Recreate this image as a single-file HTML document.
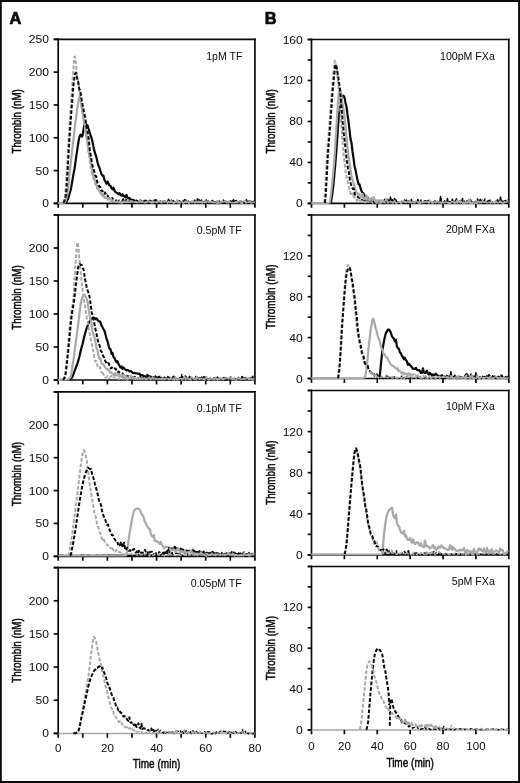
<!DOCTYPE html>
<html lang="en">
<head>
<meta charset="utf-8">
<title>Thrombin generation</title>
<style>
html,body{margin:0;padding:0;background:#fff;}
body{width:520px;height:783px;overflow:hidden;}
svg{display:block;}
text{font-family:"Liberation Sans",Arial,Helvetica,sans-serif;}
.ttl{stroke:#0a0a0a;stroke-width:0.5px;}
.pl{stroke:#0a0a0a;stroke-width:0.7px;}
</style>
</head>
<body>
<svg width="520" height="783" viewBox="0 0 520 783" font-family="'Liberation Sans', Arial, Helvetica, sans-serif" fill="#0a0a0a">
<rect x="0" y="0" width="520" height="783" fill="#ffffff"/>
<text transform="translate(9.50,24.00)" font-size="16.4" text-anchor="start" font-weight="bold" class="pl">A</text>
<text transform="translate(264.80,24.00)" font-size="16.4" text-anchor="start" font-weight="bold" class="pl">B</text>
<line x1="53.70" y1="39.30" x2="255.75" y2="39.30" stroke="#0a0a0a" stroke-width="1.7"/>
<line x1="58.20" y1="38.45" x2="58.20" y2="207.80" stroke="#0a0a0a" stroke-width="1.7"/>
<line x1="254.90" y1="38.45" x2="254.90" y2="207.80" stroke="#0a0a0a" stroke-width="1.7"/>
<line x1="53.70" y1="203.40" x2="254.90" y2="203.40" stroke="#0a0a0a" stroke-width="1.7"/>
<line x1="82.79" y1="203.40" x2="82.79" y2="207.80" stroke="#0a0a0a" stroke-width="1.7"/>
<line x1="107.38" y1="203.40" x2="107.38" y2="207.80" stroke="#0a0a0a" stroke-width="1.7"/>
<line x1="131.96" y1="203.40" x2="131.96" y2="207.80" stroke="#0a0a0a" stroke-width="1.7"/>
<line x1="156.55" y1="203.40" x2="156.55" y2="207.80" stroke="#0a0a0a" stroke-width="1.7"/>
<line x1="181.14" y1="203.40" x2="181.14" y2="207.80" stroke="#0a0a0a" stroke-width="1.7"/>
<line x1="205.72" y1="203.40" x2="205.72" y2="207.80" stroke="#0a0a0a" stroke-width="1.7"/>
<line x1="230.31" y1="203.40" x2="230.31" y2="207.80" stroke="#0a0a0a" stroke-width="1.7"/>
<line x1="53.70" y1="203.40" x2="58.20" y2="203.40" stroke="#0a0a0a" stroke-width="1.7"/>
<line x1="53.70" y1="170.58" x2="58.20" y2="170.58" stroke="#0a0a0a" stroke-width="1.7"/>
<line x1="53.70" y1="137.76" x2="58.20" y2="137.76" stroke="#0a0a0a" stroke-width="1.7"/>
<line x1="53.70" y1="104.94" x2="58.20" y2="104.94" stroke="#0a0a0a" stroke-width="1.7"/>
<line x1="53.70" y1="72.12" x2="58.20" y2="72.12" stroke="#0a0a0a" stroke-width="1.7"/>
<line x1="53.70" y1="39.30" x2="58.20" y2="39.30" stroke="#0a0a0a" stroke-width="1.7"/>
<text transform="translate(48.90,207.40) scale(1.08,1)" font-size="11.2" text-anchor="end" font-weight="normal">0</text>
<text transform="translate(48.90,174.58) scale(1.08,1)" font-size="11.2" text-anchor="end" font-weight="normal">50</text>
<text transform="translate(48.90,141.76) scale(1.08,1)" font-size="11.2" text-anchor="end" font-weight="normal">100</text>
<text transform="translate(48.90,108.94) scale(1.08,1)" font-size="11.2" text-anchor="end" font-weight="normal">150</text>
<text transform="translate(48.90,76.12) scale(1.08,1)" font-size="11.2" text-anchor="end" font-weight="normal">200</text>
<text transform="translate(48.90,43.30) scale(1.08,1)" font-size="11.2" text-anchor="end" font-weight="normal">250</text>
<line x1="53.70" y1="215.00" x2="255.75" y2="215.00" stroke="#0a0a0a" stroke-width="1.7"/>
<line x1="58.20" y1="214.15" x2="58.20" y2="384.40" stroke="#0a0a0a" stroke-width="1.7"/>
<line x1="254.90" y1="214.15" x2="254.90" y2="384.40" stroke="#0a0a0a" stroke-width="1.7"/>
<line x1="53.70" y1="380.00" x2="254.90" y2="380.00" stroke="#0a0a0a" stroke-width="1.7"/>
<line x1="82.79" y1="380.00" x2="82.79" y2="384.40" stroke="#0a0a0a" stroke-width="1.7"/>
<line x1="107.38" y1="380.00" x2="107.38" y2="384.40" stroke="#0a0a0a" stroke-width="1.7"/>
<line x1="131.96" y1="380.00" x2="131.96" y2="384.40" stroke="#0a0a0a" stroke-width="1.7"/>
<line x1="156.55" y1="380.00" x2="156.55" y2="384.40" stroke="#0a0a0a" stroke-width="1.7"/>
<line x1="181.14" y1="380.00" x2="181.14" y2="384.40" stroke="#0a0a0a" stroke-width="1.7"/>
<line x1="205.72" y1="380.00" x2="205.72" y2="384.40" stroke="#0a0a0a" stroke-width="1.7"/>
<line x1="230.31" y1="380.00" x2="230.31" y2="384.40" stroke="#0a0a0a" stroke-width="1.7"/>
<line x1="53.70" y1="380.00" x2="58.20" y2="380.00" stroke="#0a0a0a" stroke-width="1.7"/>
<line x1="53.70" y1="347.00" x2="58.20" y2="347.00" stroke="#0a0a0a" stroke-width="1.7"/>
<line x1="53.70" y1="314.00" x2="58.20" y2="314.00" stroke="#0a0a0a" stroke-width="1.7"/>
<line x1="53.70" y1="281.00" x2="58.20" y2="281.00" stroke="#0a0a0a" stroke-width="1.7"/>
<line x1="53.70" y1="248.00" x2="58.20" y2="248.00" stroke="#0a0a0a" stroke-width="1.7"/>
<line x1="53.70" y1="215.00" x2="58.20" y2="215.00" stroke="#0a0a0a" stroke-width="1.7"/>
<text transform="translate(48.90,384.00) scale(1.08,1)" font-size="11.2" text-anchor="end" font-weight="normal">0</text>
<text transform="translate(48.90,351.00) scale(1.08,1)" font-size="11.2" text-anchor="end" font-weight="normal">50</text>
<text transform="translate(48.90,318.00) scale(1.08,1)" font-size="11.2" text-anchor="end" font-weight="normal">100</text>
<text transform="translate(48.90,285.00) scale(1.08,1)" font-size="11.2" text-anchor="end" font-weight="normal">150</text>
<text transform="translate(48.90,252.00) scale(1.08,1)" font-size="11.2" text-anchor="end" font-weight="normal">200</text>
<line x1="53.70" y1="391.90" x2="255.75" y2="391.90" stroke="#0a0a0a" stroke-width="1.7"/>
<line x1="58.20" y1="391.05" x2="58.20" y2="560.70" stroke="#0a0a0a" stroke-width="1.7"/>
<line x1="254.90" y1="391.05" x2="254.90" y2="560.70" stroke="#0a0a0a" stroke-width="1.7"/>
<line x1="53.70" y1="556.30" x2="254.90" y2="556.30" stroke="#0a0a0a" stroke-width="1.7"/>
<line x1="82.79" y1="556.30" x2="82.79" y2="560.70" stroke="#0a0a0a" stroke-width="1.7"/>
<line x1="107.38" y1="556.30" x2="107.38" y2="560.70" stroke="#0a0a0a" stroke-width="1.7"/>
<line x1="131.96" y1="556.30" x2="131.96" y2="560.70" stroke="#0a0a0a" stroke-width="1.7"/>
<line x1="156.55" y1="556.30" x2="156.55" y2="560.70" stroke="#0a0a0a" stroke-width="1.7"/>
<line x1="181.14" y1="556.30" x2="181.14" y2="560.70" stroke="#0a0a0a" stroke-width="1.7"/>
<line x1="205.72" y1="556.30" x2="205.72" y2="560.70" stroke="#0a0a0a" stroke-width="1.7"/>
<line x1="230.31" y1="556.30" x2="230.31" y2="560.70" stroke="#0a0a0a" stroke-width="1.7"/>
<line x1="53.70" y1="556.30" x2="58.20" y2="556.30" stroke="#0a0a0a" stroke-width="1.7"/>
<line x1="53.70" y1="523.42" x2="58.20" y2="523.42" stroke="#0a0a0a" stroke-width="1.7"/>
<line x1="53.70" y1="490.54" x2="58.20" y2="490.54" stroke="#0a0a0a" stroke-width="1.7"/>
<line x1="53.70" y1="457.66" x2="58.20" y2="457.66" stroke="#0a0a0a" stroke-width="1.7"/>
<line x1="53.70" y1="424.78" x2="58.20" y2="424.78" stroke="#0a0a0a" stroke-width="1.7"/>
<line x1="53.70" y1="391.90" x2="58.20" y2="391.90" stroke="#0a0a0a" stroke-width="1.7"/>
<text transform="translate(48.90,560.30) scale(1.08,1)" font-size="11.2" text-anchor="end" font-weight="normal">0</text>
<text transform="translate(48.90,527.42) scale(1.08,1)" font-size="11.2" text-anchor="end" font-weight="normal">50</text>
<text transform="translate(48.90,494.54) scale(1.08,1)" font-size="11.2" text-anchor="end" font-weight="normal">100</text>
<text transform="translate(48.90,461.66) scale(1.08,1)" font-size="11.2" text-anchor="end" font-weight="normal">150</text>
<text transform="translate(48.90,428.78) scale(1.08,1)" font-size="11.2" text-anchor="end" font-weight="normal">200</text>
<line x1="53.70" y1="567.60" x2="255.75" y2="567.60" stroke="#0a0a0a" stroke-width="1.7"/>
<line x1="58.20" y1="566.75" x2="58.20" y2="737.80" stroke="#0a0a0a" stroke-width="1.7"/>
<line x1="254.90" y1="566.75" x2="254.90" y2="737.80" stroke="#0a0a0a" stroke-width="1.7"/>
<line x1="53.70" y1="733.40" x2="58.20" y2="733.40" stroke="#0a0a0a" stroke-width="1.7"/>
<line x1="58.20" y1="733.50" x2="254.90" y2="733.50" stroke="#a9a9a9" stroke-width="1.4"/>
<line x1="82.79" y1="733.40" x2="82.79" y2="737.80" stroke="#0a0a0a" stroke-width="1.7"/>
<line x1="107.38" y1="733.40" x2="107.38" y2="737.80" stroke="#0a0a0a" stroke-width="1.7"/>
<line x1="131.96" y1="733.40" x2="131.96" y2="737.80" stroke="#0a0a0a" stroke-width="1.7"/>
<line x1="156.55" y1="733.40" x2="156.55" y2="737.80" stroke="#0a0a0a" stroke-width="1.7"/>
<line x1="181.14" y1="733.40" x2="181.14" y2="737.80" stroke="#0a0a0a" stroke-width="1.7"/>
<line x1="205.72" y1="733.40" x2="205.72" y2="737.80" stroke="#0a0a0a" stroke-width="1.7"/>
<line x1="230.31" y1="733.40" x2="230.31" y2="737.80" stroke="#0a0a0a" stroke-width="1.7"/>
<line x1="53.70" y1="733.40" x2="58.20" y2="733.40" stroke="#0a0a0a" stroke-width="1.7"/>
<line x1="53.70" y1="700.24" x2="58.20" y2="700.24" stroke="#0a0a0a" stroke-width="1.7"/>
<line x1="53.70" y1="667.08" x2="58.20" y2="667.08" stroke="#0a0a0a" stroke-width="1.7"/>
<line x1="53.70" y1="633.92" x2="58.20" y2="633.92" stroke="#0a0a0a" stroke-width="1.7"/>
<line x1="53.70" y1="600.76" x2="58.20" y2="600.76" stroke="#0a0a0a" stroke-width="1.7"/>
<line x1="53.70" y1="567.60" x2="58.20" y2="567.60" stroke="#0a0a0a" stroke-width="1.7"/>
<text transform="translate(48.90,737.40) scale(1.08,1)" font-size="11.2" text-anchor="end" font-weight="normal">0</text>
<text transform="translate(48.90,704.24) scale(1.08,1)" font-size="11.2" text-anchor="end" font-weight="normal">50</text>
<text transform="translate(48.90,671.08) scale(1.08,1)" font-size="11.2" text-anchor="end" font-weight="normal">100</text>
<text transform="translate(48.90,637.92) scale(1.08,1)" font-size="11.2" text-anchor="end" font-weight="normal">150</text>
<text transform="translate(48.90,604.76) scale(1.08,1)" font-size="11.2" text-anchor="end" font-weight="normal">200</text>
<line x1="307.70" y1="39.50" x2="509.65" y2="39.50" stroke="#0a0a0a" stroke-width="1.7"/>
<line x1="311.50" y1="38.65" x2="311.50" y2="207.80" stroke="#0a0a0a" stroke-width="1.7"/>
<line x1="508.80" y1="38.65" x2="508.80" y2="207.80" stroke="#0a0a0a" stroke-width="1.7"/>
<line x1="307.70" y1="203.40" x2="508.80" y2="203.40" stroke="#0a0a0a" stroke-width="1.7"/>
<line x1="344.38" y1="203.40" x2="344.38" y2="207.80" stroke="#0a0a0a" stroke-width="1.7"/>
<line x1="377.27" y1="203.40" x2="377.27" y2="207.80" stroke="#0a0a0a" stroke-width="1.7"/>
<line x1="410.15" y1="203.40" x2="410.15" y2="207.80" stroke="#0a0a0a" stroke-width="1.7"/>
<line x1="443.03" y1="203.40" x2="443.03" y2="207.80" stroke="#0a0a0a" stroke-width="1.7"/>
<line x1="475.92" y1="203.40" x2="475.92" y2="207.80" stroke="#0a0a0a" stroke-width="1.7"/>
<line x1="307.70" y1="203.40" x2="311.50" y2="203.40" stroke="#0a0a0a" stroke-width="1.7"/>
<line x1="307.70" y1="182.91" x2="311.50" y2="182.91" stroke="#0a0a0a" stroke-width="1.7"/>
<line x1="307.70" y1="162.43" x2="311.50" y2="162.43" stroke="#0a0a0a" stroke-width="1.7"/>
<line x1="307.70" y1="141.94" x2="311.50" y2="141.94" stroke="#0a0a0a" stroke-width="1.7"/>
<line x1="307.70" y1="121.45" x2="311.50" y2="121.45" stroke="#0a0a0a" stroke-width="1.7"/>
<line x1="307.70" y1="100.96" x2="311.50" y2="100.96" stroke="#0a0a0a" stroke-width="1.7"/>
<line x1="307.70" y1="80.47" x2="311.50" y2="80.47" stroke="#0a0a0a" stroke-width="1.7"/>
<line x1="307.70" y1="59.99" x2="311.50" y2="59.99" stroke="#0a0a0a" stroke-width="1.7"/>
<line x1="307.70" y1="39.50" x2="311.50" y2="39.50" stroke="#0a0a0a" stroke-width="1.7"/>
<text transform="translate(302.80,207.40) scale(1.08,1)" font-size="11.2" text-anchor="end" font-weight="normal">0</text>
<text transform="translate(302.80,166.43) scale(1.08,1)" font-size="11.2" text-anchor="end" font-weight="normal">40</text>
<text transform="translate(302.80,125.45) scale(1.08,1)" font-size="11.2" text-anchor="end" font-weight="normal">80</text>
<text transform="translate(302.80,84.47) scale(1.08,1)" font-size="11.2" text-anchor="end" font-weight="normal">120</text>
<text transform="translate(302.80,43.50) scale(1.08,1)" font-size="11.2" text-anchor="end" font-weight="normal">160</text>
<line x1="307.70" y1="215.00" x2="509.65" y2="215.00" stroke="#0a0a0a" stroke-width="1.7"/>
<line x1="311.50" y1="214.15" x2="311.50" y2="382.90" stroke="#0a0a0a" stroke-width="1.7"/>
<line x1="508.80" y1="214.15" x2="508.80" y2="382.90" stroke="#0a0a0a" stroke-width="1.7"/>
<line x1="307.70" y1="378.50" x2="508.80" y2="378.50" stroke="#0a0a0a" stroke-width="1.7"/>
<line x1="344.38" y1="378.50" x2="344.38" y2="382.90" stroke="#0a0a0a" stroke-width="1.7"/>
<line x1="377.27" y1="378.50" x2="377.27" y2="382.90" stroke="#0a0a0a" stroke-width="1.7"/>
<line x1="410.15" y1="378.50" x2="410.15" y2="382.90" stroke="#0a0a0a" stroke-width="1.7"/>
<line x1="443.03" y1="378.50" x2="443.03" y2="382.90" stroke="#0a0a0a" stroke-width="1.7"/>
<line x1="475.92" y1="378.50" x2="475.92" y2="382.90" stroke="#0a0a0a" stroke-width="1.7"/>
<line x1="307.70" y1="378.50" x2="311.50" y2="378.50" stroke="#0a0a0a" stroke-width="1.7"/>
<line x1="307.70" y1="358.06" x2="311.50" y2="358.06" stroke="#0a0a0a" stroke-width="1.7"/>
<line x1="307.70" y1="337.62" x2="311.50" y2="337.62" stroke="#0a0a0a" stroke-width="1.7"/>
<line x1="307.70" y1="317.19" x2="311.50" y2="317.19" stroke="#0a0a0a" stroke-width="1.7"/>
<line x1="307.70" y1="296.75" x2="311.50" y2="296.75" stroke="#0a0a0a" stroke-width="1.7"/>
<line x1="307.70" y1="276.31" x2="311.50" y2="276.31" stroke="#0a0a0a" stroke-width="1.7"/>
<line x1="307.70" y1="255.88" x2="311.50" y2="255.88" stroke="#0a0a0a" stroke-width="1.7"/>
<line x1="307.70" y1="235.44" x2="311.50" y2="235.44" stroke="#0a0a0a" stroke-width="1.7"/>
<line x1="307.70" y1="215.00" x2="311.50" y2="215.00" stroke="#0a0a0a" stroke-width="1.7"/>
<text transform="translate(302.80,382.50) scale(1.08,1)" font-size="11.2" text-anchor="end" font-weight="normal">0</text>
<text transform="translate(302.80,341.62) scale(1.08,1)" font-size="11.2" text-anchor="end" font-weight="normal">40</text>
<text transform="translate(302.80,300.75) scale(1.08,1)" font-size="11.2" text-anchor="end" font-weight="normal">80</text>
<text transform="translate(302.80,259.88) scale(1.08,1)" font-size="11.2" text-anchor="end" font-weight="normal">120</text>
<line x1="307.70" y1="390.50" x2="509.65" y2="390.50" stroke="#0a0a0a" stroke-width="1.7"/>
<line x1="311.50" y1="389.65" x2="311.50" y2="559.30" stroke="#0a0a0a" stroke-width="1.7"/>
<line x1="508.80" y1="389.65" x2="508.80" y2="559.30" stroke="#0a0a0a" stroke-width="1.7"/>
<line x1="307.70" y1="554.90" x2="508.80" y2="554.90" stroke="#0a0a0a" stroke-width="1.7"/>
<line x1="344.38" y1="554.90" x2="344.38" y2="559.30" stroke="#0a0a0a" stroke-width="1.7"/>
<line x1="377.27" y1="554.90" x2="377.27" y2="559.30" stroke="#0a0a0a" stroke-width="1.7"/>
<line x1="410.15" y1="554.90" x2="410.15" y2="559.30" stroke="#0a0a0a" stroke-width="1.7"/>
<line x1="443.03" y1="554.90" x2="443.03" y2="559.30" stroke="#0a0a0a" stroke-width="1.7"/>
<line x1="475.92" y1="554.90" x2="475.92" y2="559.30" stroke="#0a0a0a" stroke-width="1.7"/>
<line x1="307.70" y1="554.90" x2="311.50" y2="554.90" stroke="#0a0a0a" stroke-width="1.7"/>
<line x1="307.70" y1="534.35" x2="311.50" y2="534.35" stroke="#0a0a0a" stroke-width="1.7"/>
<line x1="307.70" y1="513.80" x2="311.50" y2="513.80" stroke="#0a0a0a" stroke-width="1.7"/>
<line x1="307.70" y1="493.25" x2="311.50" y2="493.25" stroke="#0a0a0a" stroke-width="1.7"/>
<line x1="307.70" y1="472.70" x2="311.50" y2="472.70" stroke="#0a0a0a" stroke-width="1.7"/>
<line x1="307.70" y1="452.15" x2="311.50" y2="452.15" stroke="#0a0a0a" stroke-width="1.7"/>
<line x1="307.70" y1="431.60" x2="311.50" y2="431.60" stroke="#0a0a0a" stroke-width="1.7"/>
<line x1="307.70" y1="411.05" x2="311.50" y2="411.05" stroke="#0a0a0a" stroke-width="1.7"/>
<line x1="307.70" y1="390.50" x2="311.50" y2="390.50" stroke="#0a0a0a" stroke-width="1.7"/>
<text transform="translate(302.80,558.90) scale(1.08,1)" font-size="11.2" text-anchor="end" font-weight="normal">0</text>
<text transform="translate(302.80,517.80) scale(1.08,1)" font-size="11.2" text-anchor="end" font-weight="normal">40</text>
<text transform="translate(302.80,476.70) scale(1.08,1)" font-size="11.2" text-anchor="end" font-weight="normal">80</text>
<text transform="translate(302.80,435.60) scale(1.08,1)" font-size="11.2" text-anchor="end" font-weight="normal">120</text>
<line x1="307.70" y1="566.50" x2="509.65" y2="566.50" stroke="#0a0a0a" stroke-width="1.7"/>
<line x1="311.50" y1="565.65" x2="311.50" y2="734.30" stroke="#0a0a0a" stroke-width="1.7"/>
<line x1="508.80" y1="565.65" x2="508.80" y2="734.30" stroke="#0a0a0a" stroke-width="1.7"/>
<line x1="307.70" y1="729.90" x2="311.50" y2="729.90" stroke="#0a0a0a" stroke-width="1.7"/>
<line x1="311.50" y1="730.00" x2="508.80" y2="730.00" stroke="#a9a9a9" stroke-width="1.4"/>
<line x1="344.38" y1="729.90" x2="344.38" y2="734.30" stroke="#0a0a0a" stroke-width="1.7"/>
<line x1="377.27" y1="729.90" x2="377.27" y2="734.30" stroke="#0a0a0a" stroke-width="1.7"/>
<line x1="410.15" y1="729.90" x2="410.15" y2="734.30" stroke="#0a0a0a" stroke-width="1.7"/>
<line x1="443.03" y1="729.90" x2="443.03" y2="734.30" stroke="#0a0a0a" stroke-width="1.7"/>
<line x1="475.92" y1="729.90" x2="475.92" y2="734.30" stroke="#0a0a0a" stroke-width="1.7"/>
<line x1="307.70" y1="729.90" x2="311.50" y2="729.90" stroke="#0a0a0a" stroke-width="1.7"/>
<line x1="307.70" y1="709.48" x2="311.50" y2="709.48" stroke="#0a0a0a" stroke-width="1.7"/>
<line x1="307.70" y1="689.05" x2="311.50" y2="689.05" stroke="#0a0a0a" stroke-width="1.7"/>
<line x1="307.70" y1="668.62" x2="311.50" y2="668.62" stroke="#0a0a0a" stroke-width="1.7"/>
<line x1="307.70" y1="648.20" x2="311.50" y2="648.20" stroke="#0a0a0a" stroke-width="1.7"/>
<line x1="307.70" y1="627.77" x2="311.50" y2="627.77" stroke="#0a0a0a" stroke-width="1.7"/>
<line x1="307.70" y1="607.35" x2="311.50" y2="607.35" stroke="#0a0a0a" stroke-width="1.7"/>
<line x1="307.70" y1="586.92" x2="311.50" y2="586.92" stroke="#0a0a0a" stroke-width="1.7"/>
<line x1="307.70" y1="566.50" x2="311.50" y2="566.50" stroke="#0a0a0a" stroke-width="1.7"/>
<text transform="translate(302.80,733.90) scale(1.08,1)" font-size="11.2" text-anchor="end" font-weight="normal">0</text>
<text transform="translate(302.80,693.05) scale(1.08,1)" font-size="11.2" text-anchor="end" font-weight="normal">40</text>
<text transform="translate(302.80,652.20) scale(1.08,1)" font-size="11.2" text-anchor="end" font-weight="normal">80</text>
<text transform="translate(302.80,611.35) scale(1.08,1)" font-size="11.2" text-anchor="end" font-weight="normal">120</text>
<path d="M65.5 203.20 L66.0 202.91 L66.5 202.18 L67.0 201.08 L67.5 199.92 L68.0 198.84 L68.5 197.57 L69.0 195.88 L69.5 194.01 L70.0 192.47 L70.5 190.77 L71.0 188.58 L71.5 185.78 L72.0 182.74 L72.5 179.90 L73.0 176.91 L73.5 173.93 L74.0 171.36 L74.5 168.69 L75.0 165.47 L75.5 161.96 L76.0 158.44 L76.5 154.92 L77.0 151.48 L77.5 148.17 L78.0 144.78 L78.5 141.53 L79.0 138.82 L79.5 136.86 L80.0 135.54 L80.5 134.75 L81.0 135.04 L81.5 135.99 L82.0 136.57 L82.5 135.62 L83.0 133.05 L83.5 129.77 L84.0 126.56 L84.5 124.07 L85.0 123.30 L85.5 123.58 L86.0 124.45 L86.5 125.79 L87.0 125.75 L87.5 125.27 L88.0 126.66 L88.5 128.53 L89.0 130.17 L89.5 131.90 L90.0 133.44 L90.5 135.05 L91.0 136.40 L91.5 137.93 L92.0 139.75 L92.5 141.66 L93.0 144.29 L93.5 146.92 L94.0 149.24 L94.5 151.47 L95.0 152.91 L95.5 154.37 L96.0 156.07 L96.5 157.75 L97.0 159.99 L97.5 162.18 L98.0 163.97 L98.5 165.66 L99.0 166.72 L99.5 167.75 L100.0 169.44 L100.5 171.11 L101.0 172.62 L101.5 174.08 L102.0 174.85 L102.5 175.57 L103.0 175.66 L103.5 175.69 L104.0 177.94 L104.5 180.13 L105.0 180.95 L105.5 181.69 L106.0 182.72 L106.5 183.71 L107.0 182.66 L107.5 181.57 L108.0 182.56 L108.5 183.52 L109.0 184.59 L109.5 185.64 L110.0 185.79 L110.5 185.92 L111.0 187.07 L111.5 188.22 L112.0 188.81 L112.5 189.40 L113.0 188.59 L113.5 187.78 L114.0 189.20 L114.5 190.61 L115.0 191.35 L115.5 192.08 L116.0 192.38 L116.5 192.67 L117.0 192.93 L117.5 193.18 L118.0 193.71 L118.5 194.23 L119.0 193.66 L119.5 193.08 L120.0 194.07 L120.5 195.05 L121.0 195.29 L121.5 195.52 L122.0 194.86 L122.5 194.19 L123.0 195.20 L123.5 196.20 L124.0 196.19 L124.5 196.18 L125.0 196.77 L125.5 197.37 L126.0 196.12 L126.5 194.89 L127.0 196.28 L127.5 197.69 L128.0 198.07 L128.5 198.45 L129.0 198.25 L129.5 198.04 L130.0 198.83 L130.5 199.61 L131.0 199.57 L131.5 199.51 L132.0 199.92 L132.5 200.31 L133.0 200.08 L133.5 199.82 L134.0 200.51 L134.5 201.19 L135.0 201.08 L135.5 200.97 L136.0 200.75 L136.5 200.52 L137.0 200.89 L137.5 201.25 L138.0 201.55" fill="none" stroke="#0a0a0a" stroke-width="2.2" stroke-linejoin="round"/>
<line x1="58.2" y1="203.00" x2="64.0" y2="203.00" stroke="#a9a9a9" stroke-width="1.9"/>
<path d="M64.0 203.16 L64.5 202.81 L65.0 201.97 L65.5 200.84 L66.0 199.55 L66.5 197.74 L67.0 195.33 L67.5 192.21 L68.0 188.82 L68.5 184.99 L69.0 180.27 L69.5 174.99 L70.0 169.70 L70.5 164.97 L71.0 160.51 L71.5 156.12 L72.0 151.79 L72.5 147.36 L73.0 143.00 L73.5 138.79 L74.0 134.61 L74.5 130.03 L75.0 125.52 L75.5 121.95 L76.0 118.47 L76.5 114.44 L77.0 110.48 L77.5 107.12 L78.0 104.27 L78.5 101.28 L79.0 98.48 L79.5 96.81 L80.0 97.08 L80.5 98.80 L81.0 101.26 L81.5 104.15 L82.0 107.13 L82.5 110.31 L83.0 113.66 L83.5 116.72 L84.0 119.74 L84.5 122.08 L85.0 124.56 L85.5 129.36 L86.0 134.14 L86.5 137.48 L87.0 140.65 L87.5 143.77 L88.0 146.72 L88.5 149.66 L89.0 152.50 L89.5 155.00 L90.0 157.45 L90.5 160.69 L91.0 164.00 L91.5 165.89 L92.0 167.73 L92.5 171.28 L93.0 174.67 L93.5 176.40 L94.0 177.86 L94.5 179.56 L95.0 181.04 L95.5 182.12 L96.0 183.12 L96.5 184.80 L97.0 186.41 L97.5 187.45 L98.0 188.41 L98.5 189.51 L99.0 190.53 L99.5 191.04 L100.0 191.47 L100.5 192.33 L101.0 193.15 L101.5 194.37 L102.0 195.56 L102.5 195.08 L103.0 194.58 L103.5 195.19 L104.0 195.77" fill="none" stroke="#a9a9a9" stroke-width="2.2" stroke-linejoin="round"/>
<line x1="58.2" y1="203.00" x2="62.5" y2="203.00" stroke="#a9a9a9" stroke-width="1.9"/>
<path d="M62.5 202.54 L63.0 202.43 L63.5 201.68 L64.0 200.19 L64.5 198.38 L65.0 195.38 L65.5 190.04 L66.0 182.93 L66.5 175.22 L67.0 166.21 L67.5 157.04 L68.0 148.17 L68.5 139.40 L69.0 131.10 L69.5 123.43 L70.0 116.40 L70.5 109.65 L71.0 102.84 L71.5 95.80 L72.0 88.49 L72.5 81.37 L73.0 74.95 L73.5 68.31 L74.0 61.64 L74.5 57.05 L75.0 56.54 L75.5 59.69 L76.0 64.58 L76.5 69.97 L77.0 74.76 L77.5 78.61 L78.0 81.76 L78.5 84.83 L79.0 89.67 L79.5 94.45 L80.0 97.15 L80.5 99.83 L81.0 103.80 L81.5 107.74 L82.0 110.70 L82.5 113.59 L83.0 117.29 L83.5 120.87 L84.0 123.53 L84.5 125.95 L85.0 127.95 L85.5 129.99 L86.0 133.10 L86.5 136.51 L87.0 139.11 L87.5 142.15 L88.0 147.06 L88.5 151.74 L89.0 154.41 L89.5 157.06 L90.0 161.26 L90.5 165.12 L91.0 168.16 L91.5 171.08 L92.0 173.30 L92.5 175.35 L93.0 177.29 L93.5 179.00 L94.0 180.49 L94.5 181.69 L95.0 183.08 L95.5 184.35 L96.0 185.86 L96.5 187.30 L97.0 188.10 L97.5 188.86 L98.0 189.24 L98.5 189.61 L99.0 190.06 L99.5 190.49 L100.0 192.00 L100.5 193.49 L101.0 192.75 L101.5 191.96 L102.0 193.63 L102.5 195.25 L103.0 195.70" fill="none" stroke="#a9a9a9" stroke-width="2.0" stroke-dasharray="3.8 1.8" stroke-linejoin="round"/>
<path d="M63.2 202.85 L63.7 202.43 L64.2 201.42 L64.7 200.01 L65.2 198.44 L65.7 196.44 L66.2 192.77 L66.7 186.17 L67.2 178.65 L67.7 169.81 L68.2 160.32 L68.7 151.69 L69.2 143.50 L69.7 135.62 L70.2 128.15 L70.7 120.88 L71.2 113.89 L71.7 107.50 L72.2 101.41 L72.7 94.97 L73.2 88.51 L73.7 83.21 L74.2 79.37 L74.7 76.12 L75.2 73.69 L75.7 72.73 L76.2 73.68 L76.7 76.04 L77.2 78.92 L77.7 80.76 L78.2 81.83 L78.7 84.93 L79.2 88.32 L79.7 89.56 L80.2 90.85 L80.7 93.67 L81.2 96.57 L81.7 99.89 L82.2 103.35 L82.7 105.53 L83.2 107.82 L83.7 110.58 L84.2 113.38 L84.7 115.36 L85.2 117.30 L85.7 121.33 L86.2 125.27 L86.7 127.89 L87.2 130.60 L87.7 132.91 L88.2 135.53 L88.7 139.40 L89.2 143.51 L89.7 148.30 L90.2 152.55 L90.7 155.24 L91.2 157.78 L91.7 161.15 L92.2 164.28 L92.7 166.29 L93.2 168.08 L93.7 169.71 L94.2 171.23 L94.7 173.36 L95.2 175.39 L95.7 176.01 L96.2 176.52 L96.7 179.31 L97.2 182.01 L97.7 182.86 L98.2 183.66 L98.7 185.11 L99.2 186.51 L99.7 186.75 L100.2 186.92 L100.7 188.75 L101.2 190.49 L101.7 190.45 L102.2 190.38 L102.7 191.63 L103.2 192.86 L103.7 193.25 L104.2 193.61 L104.7 193.03 L105.2 192.43 L105.7 193.82 L106.2 195.18 L106.7 195.28 L107.2 195.36 L107.7 196.09 L108.2 196.80 L108.7 197.51 L109.2 198.19 L109.7 198.21 L110.2 198.23 L110.7 198.67 L111.2 199.10 L111.7 198.55 L112.2 197.99 L112.7 198.78 L113.2 199.56 L113.7 199.87 L114.2 200.18 L114.7 200.68 L115.2 201.17 L115.7 200.74 L116.2 200.28 L116.7 200.90" fill="none" stroke="#0a0a0a" stroke-width="2.0" stroke-dasharray="3.8 1.8" stroke-linejoin="round"/>
<path d="M69.5 379.93 L70.0 379.54 L70.5 378.93 L71.0 378.65 L71.5 378.25 L72.0 377.41 L72.5 376.50 L73.0 375.40 L73.5 374.08 L74.0 372.69 L74.5 371.26 L75.0 369.86 L75.5 368.51 L76.0 367.24 L76.5 365.94 L77.0 364.60 L77.5 363.20 L78.0 361.61 L78.5 359.89 L79.0 358.08 L79.5 356.16 L80.0 354.00 L80.5 351.80 L81.0 349.77 L81.5 347.75 L82.0 346.00 L82.5 344.23 L83.0 342.10 L83.5 339.94 L84.0 337.74 L84.5 335.59 L85.0 333.80 L85.5 332.15 L86.0 330.39 L86.5 328.67 L87.0 327.33 L87.5 326.06 L88.0 324.68 L88.5 323.43 L89.0 322.38 L89.5 321.53 L90.0 320.76 L90.5 320.00 L91.0 319.42 L91.5 318.90 L92.0 318.40 L92.5 318.01 L93.0 317.84 L93.5 317.83 L94.0 317.87 L94.5 317.91 L95.0 318.44 L95.5 319.17 L96.0 318.85 L96.5 318.31 L97.0 319.09 L97.5 319.92 L98.0 320.40 L98.5 320.96 L99.0 321.06 L99.5 321.22 L100.0 321.81 L100.5 322.41 L101.0 324.01 L101.5 325.70 L102.0 326.46 L102.5 327.30 L103.0 328.13 L103.5 329.09 L104.0 329.94 L104.5 330.88 L105.0 332.68 L105.5 334.54 L106.0 336.51 L106.5 338.52 L107.0 339.86 L107.5 341.24 L108.0 343.27 L108.5 345.23 L109.0 347.02 L109.5 348.74 L110.0 348.97 L110.5 349.14 L111.0 351.49 L111.5 353.77 L112.0 353.34 L112.5 352.83 L113.0 354.95 L113.5 357.03 L114.0 357.55 L114.5 358.02 L115.0 359.31 L115.5 360.56 L116.0 361.34 L116.5 362.06 L117.0 361.63 L117.5 361.19 L118.0 362.68 L118.5 364.16 L119.0 364.93 L119.5 365.69 L120.0 366.60 L120.5 367.50 L121.0 366.97 L121.5 366.42 L122.0 367.72 L122.5 369.00 L123.0 368.27 L123.5 367.51 L124.0 368.17 L124.5 368.80 L125.0 369.26 L125.5 369.70 L126.0 370.03 L126.5 370.35 L127.0 370.11 L127.5 369.87 L128.0 370.17 L128.5 370.47 L129.0 370.94 L129.5 371.40 L130.0 371.27 L130.5 371.13 L131.0 371.30 L131.5 371.47 L132.0 372.10 L132.5 372.74 L133.0 372.99 L133.5 373.23 L134.0 373.01 L134.5 372.80 L135.0 372.98 L135.5 373.18 L136.0 373.33 L136.5 373.48 L137.0 373.49 L137.5 373.49 L138.0 373.64 L138.5 373.78 L139.0 373.75 L139.5 373.72 L140.0 374.51 L140.5 375.30 L141.0 375.18 L141.5 375.06 L142.0 375.18 L142.5 375.30 L143.0 375.56 L143.5 375.82 L144.0 376.06 L144.5 376.29 L145.0 376.73 L145.5 377.16 L146.0 376.62 L146.5 376.08 L147.0 375.47 L147.5 374.85 L148.0 375.83 L148.5 376.80 L149.0 376.50 L149.5 376.19 L150.0 376.76 L150.5 377.34 L151.0 377.58 L151.5 377.83 L152.0 377.81 L152.5 377.79 L153.0 377.56 L153.5 377.31 L154.0 377.70 L154.5 378.08" fill="none" stroke="#0a0a0a" stroke-width="2.2" stroke-linejoin="round"/>
<line x1="58.2" y1="379.70" x2="67.5" y2="379.70" stroke="#a9a9a9" stroke-width="1.9"/>
<path d="M67.5 379.52 L68.0 379.41 L68.5 379.12 L69.0 378.74 L69.5 378.21 L70.0 377.68 L70.5 377.03 L71.0 375.21 L71.5 372.48 L72.0 369.33 L72.5 365.86 L73.0 362.72 L73.5 359.70 L74.0 355.91 L74.5 351.92 L75.0 348.12 L75.5 344.41 L76.0 340.63 L76.5 336.82 L77.0 333.27 L77.5 329.59 L78.0 325.51 L78.5 321.38 L79.0 317.25 L79.5 313.33 L80.0 309.36 L80.5 305.58 L81.0 302.21 L81.5 299.93 L82.0 298.52 L82.5 297.25 L83.0 296.16 L83.5 295.36 L84.0 295.02 L84.5 295.00 L85.0 295.55 L85.5 296.54 L86.0 297.50 L86.5 298.55 L87.0 299.78 L87.5 301.83 L88.0 304.89 L88.5 308.29 L89.0 311.71 L89.5 314.89 L90.0 317.32 L90.5 319.71 L91.0 321.24 L91.5 322.73 L92.0 327.19 L92.5 331.58 L93.0 333.20 L93.5 334.80 L94.0 336.03 L94.5 337.20 L95.0 339.93 L95.5 342.58 L96.0 345.58 L96.5 348.50 L97.0 349.48 L97.5 350.46 L98.0 352.98 L98.5 355.43 L99.0 357.22 L99.5 358.88 L100.0 358.90 L100.5 358.73 L101.0 361.13 L101.5 363.39 L102.0 363.62 L102.5 363.79 L103.0 364.18 L103.5 364.51 L104.0 365.33 L104.5 366.11 L105.0 367.07 L105.5 367.99 L106.0 368.40 L106.5 368.79 L107.0 369.25 L107.5 369.68 L108.0 369.66 L108.5 369.61 L109.0 370.74 L109.5 371.85 L110.0 372.28 L110.5 372.69 L111.0 372.51 L111.5 372.31 L112.0 372.92 L112.5 373.51" fill="none" stroke="#a9a9a9" stroke-width="2.2" stroke-linejoin="round"/>
<line x1="58.2" y1="379.70" x2="62.3" y2="379.70" stroke="#a9a9a9" stroke-width="1.9"/>
<path d="M62.3 379.73 L62.8 379.55 L63.3 379.06 L63.8 378.17 L64.3 377.07 L64.8 375.69 L65.3 372.49 L65.8 367.93 L66.3 363.02 L66.8 358.61 L67.3 353.73 L67.8 348.30 L68.3 342.71 L68.8 336.83 L69.3 331.12 L69.8 325.58 L70.3 320.23 L70.8 315.58 L71.3 312.03 L71.8 309.13 L72.3 306.34 L72.8 303.18 L73.3 298.97 L73.8 292.46 L74.3 284.04 L74.8 274.72 L75.3 266.11 L75.8 259.33 L76.3 252.40 L76.8 246.18 L77.3 242.47 L77.8 242.79 L78.3 246.66 L78.8 252.47 L79.3 258.64 L79.8 263.91 L80.3 269.05 L80.8 273.82 L81.3 278.48 L81.8 283.04 L82.3 287.20 L82.8 291.02 L83.3 294.63 L83.8 298.43 L84.3 302.08 L84.8 304.76 L85.3 307.31 L85.8 310.85 L86.3 314.35 L86.8 317.79 L87.3 321.20 L87.8 323.31 L88.3 325.38 L88.8 328.47 L89.3 331.52 L89.8 334.42 L90.3 337.32 L90.8 339.61 L91.3 341.80 L91.8 344.07 L92.3 346.19 L92.8 348.97 L93.3 351.71 L93.8 354.77 L94.3 357.70 L94.8 359.72 L95.3 361.54 L95.8 361.33 L96.3 360.94 L96.8 363.30 L97.3 365.56 L97.8 366.38 L98.3 367.12 L98.8 367.76 L99.3 368.32 L99.8 367.72 L100.3 367.09 L100.8 369.71 L101.3 372.31 L101.8 372.26 L102.3 372.19" fill="none" stroke="#a9a9a9" stroke-width="2.0" stroke-dasharray="3.8 1.8" stroke-linejoin="round"/>
<path d="M62.8 379.75 L63.3 379.47 L63.8 378.88 L64.3 378.23 L64.8 377.38 L65.3 375.95 L65.8 372.86 L66.3 368.68 L66.8 364.10 L67.3 359.79 L67.8 355.17 L68.3 350.03 L68.8 344.78 L69.3 339.57 L69.8 334.29 L70.3 328.93 L70.8 323.59 L71.3 318.79 L71.8 314.72 L72.3 311.43 L72.8 308.59 L73.3 305.78 L73.8 302.80 L74.3 299.25 L74.8 294.94 L75.3 290.45 L75.8 285.95 L76.3 281.62 L76.8 277.90 L77.3 273.90 L77.8 270.01 L78.3 267.04 L78.8 265.03 L79.3 264.14 L79.8 264.07 L80.3 264.44 L80.8 265.06 L81.3 265.08 L81.8 265.01 L82.3 266.18 L82.8 267.97 L83.3 269.01 L83.8 270.58 L84.3 274.38 L84.8 278.24 L85.3 280.56 L85.8 282.58 L86.3 285.27 L86.8 287.96 L87.3 289.47 L87.8 291.00 L88.3 292.18 L88.8 293.39 L89.3 295.71 L89.8 298.07 L90.3 301.88 L90.8 305.74 L91.3 309.08 L91.8 312.44 L92.3 314.44 L92.8 316.43 L93.3 318.60 L93.8 320.80 L94.3 323.23 L94.8 325.60 L95.3 328.17 L95.8 330.60 L96.3 332.88 L96.8 335.12 L97.3 337.80 L97.8 340.40 L98.3 341.70 L98.8 342.90 L99.3 344.72 L99.8 346.40 L100.3 348.66 L100.8 350.89 L101.3 351.44 L101.8 351.94 L102.3 353.64 L102.8 355.28 L103.3 356.04 L103.8 356.72 L104.3 358.23 L104.8 359.64 L105.3 360.94 L105.8 362.12 L106.3 362.96 L106.8 363.76 L107.3 363.42 L107.8 363.05 L108.3 363.18 L108.8 363.29 L109.3 364.94 L109.8 366.57 L110.3 367.45 L110.8 368.31 L111.3 367.85 L111.8 367.37 L112.3 368.12 L112.8 368.87 L113.3 368.53 L113.8 368.19 L114.3 368.36 L114.8 368.52 L115.3 368.67 L115.8 368.81 L116.3 370.11 L116.8 371.40 L117.3 371.91 L117.8 372.41 L118.3 371.94 L118.8 371.47 L119.3 372.18 L119.8 372.88 L120.3 372.96 L120.8 373.02 L121.3 373.19 L121.8 373.35 L122.3 373.45 L122.8 373.56 L123.3 374.70 L123.8 375.85 L124.3 375.63 L124.8 375.40 L125.3 375.52 L125.8 375.62 L126.3 375.71 L126.8 375.79 L127.3 376.29 L127.8 376.77 L128.3 376.57 L128.8 376.37 L129.3 376.73 L129.8 377.08 L130.3 376.81 L130.8 376.54 L131.3 377.04 L131.8 377.54 L132.3 377.37 L132.8 377.19 L133.3 377.59" fill="none" stroke="#0a0a0a" stroke-width="2.0" stroke-dasharray="3.8 1.8" stroke-linejoin="round"/>
<path d="M58.6 555.83 L59.1 555.84 L59.6 555.86 L60.1 555.78 L60.6 555.70 L61.1 555.79 L61.6 555.88 L62.1 555.72 L62.6 555.57 L63.1 555.72 L63.6 555.88 L64.1 555.85 L64.6 555.83 L65.1 555.87 L65.6 555.92 L66.1 555.81 L66.6 555.71 L67.1 555.84 L67.6 555.98 L68.1 555.95 L68.6 555.92 L69.1 555.83 L69.6 555.74 L70.1 555.80 L70.6 555.86 L71.1 555.85 L71.6 555.84 L72.1 555.73 L72.6 555.62 L73.1 555.74 L73.6 555.86 L74.1 555.80 L74.6 555.74 L75.1 555.75 L75.6 555.77 L76.1 555.75 L76.6 555.73 L77.1 555.74 L77.6 555.75 L78.1 555.77 L78.6 555.80 L79.1 555.80 L79.6 555.80 L80.1 555.72 L80.6 555.63 L81.1 555.70 L81.6 555.76 L82.1 555.71 L82.6 555.65 L83.1 555.66 L83.6 555.66 L84.1 555.70 L84.6 555.75 L85.1 555.81 L85.6 555.87 L86.1 555.80 L86.6 555.74 L87.1 555.69 L87.6 555.63 L88.1 555.67 L88.6 555.71 L89.1 555.70 L89.6 555.69 L90.1 555.74 L90.6 555.79 L91.1 555.83 L91.6 555.86 L92.1 555.82 L92.6 555.77 L93.1 555.80 L93.6 555.84 L94.1 555.81 L94.6 555.79 L95.1 555.85 L95.6 555.91 L96.1 555.73 L96.6 555.56 L97.1 555.55 L97.6 555.54 L98.1 555.64 L98.6 555.73 L99.1 555.77 L99.6 555.81 L100.1 555.76 L100.6 555.70 L101.1 555.74 L101.6 555.78 L102.1 555.70 L102.6 555.62 L103.1 555.61 L103.6 555.61 L104.1 555.55 L104.6 555.50 L105.1 555.66 L105.6 555.81 L106.1 555.80 L106.6 555.79 L107.1 555.72 L107.6 555.65 L108.1 555.54 L108.6 555.43 L109.1 555.54 L109.6 555.64 L110.1 555.67 L110.6 555.71 L111.1 555.65 L111.6 555.59 L112.1 555.64 L112.6 555.69 L113.1 555.65 L113.6 555.61 L114.1 555.65 L114.6 555.68 L115.1 555.64 L115.6 555.61 L116.1 555.60 L116.6 555.59 L117.1 555.63 L117.6 555.68 L118.1 555.65 L118.6 555.62 L119.1 555.64 L119.6 555.65 L120.1 555.63 L120.6 555.60 L121.1 555.65 L121.6 555.70 L122.1 555.62 L122.6 555.55 L123.1 555.63 L123.6 555.70 L124.1 555.73 L124.6 555.75 L125.1 555.67 L125.6 555.58 L126.1 555.68 L126.6 555.78 L127.1 555.79 L127.6 555.80 L128.1 555.71 L128.6 555.63 L129.1 555.53 L129.6 555.44 L130.1 555.42 L130.6 555.41 L131.1 555.47 L131.6 555.54 L132.1 555.63 L132.6 555.73 L133.1 555.66 L133.6 555.60 L134.1 555.60 L134.6 555.61 L135.1 555.39 L135.6 555.18 L136.1 555.31 L136.6 555.44 L137.1 555.36 L137.6 555.28 L138.1 555.33 L138.6 555.38 L139.1 555.42 L139.6 555.46 L140.1 555.49 L140.6 555.52 L141.1 555.49 L141.6 555.46 L142.1 555.48 L142.6 555.50 L143.1 555.44 L143.6 555.39 L144.1 555.43 L144.6 555.48 L145.1 555.46 L145.6 555.45 L146.1 555.34 L146.6 555.23 L147.1 555.25 L147.6 555.28 L148.1 555.29 L148.6 555.30 L149.1 555.36 L149.6 555.42 L150.1 555.40 L150.6 555.37 L151.1 555.36 L151.6 555.36 L152.1 555.34 L152.6 555.33 L153.1 555.20 L153.6 555.06 L154.1 555.22 L154.6 555.38 L155.1 555.30 L155.6 555.21 L156.1 555.15 L156.6 555.10 L157.1 555.20 L157.6 555.31 L158.1 555.10 L158.6 554.89 L159.1 555.05 L159.6 555.21 L160.1 555.19 L160.6 555.12 L161.1 554.85 L161.6 554.52 L162.1 554.38 L162.6 554.22 L163.1 554.07 L163.6 553.90 L164.1 553.61 L164.6 553.33 L165.1 553.05 L165.6 552.72 L166.1 552.20 L166.6 551.65 L167.1 551.25 L167.6 550.84 L168.1 550.39 L168.6 549.95 L169.1 549.58 L169.6 549.25 L170.1 548.96 L170.6 548.74 L171.1 548.66 L171.6 548.61 L172.1 548.68 L172.6 548.80 L173.1 549.11 L173.6 549.53 L174.1 548.30 L174.6 546.96 L175.1 547.32 L175.6 547.68 L176.1 548.58 L176.6 549.48 L177.1 549.08 L177.6 548.69 L178.1 549.15 L178.6 549.61 L179.1 549.64 L179.6 549.68 L180.1 549.16 L180.6 548.65 L181.1 549.19 L181.6 549.72 L182.1 549.58 L182.6 549.44 L183.1 549.75 L183.6 550.06 L184.1 550.84 L184.6 551.62 L185.1 551.50 L185.6 551.37 L186.1 550.97 L186.6 550.58 L187.1 550.79 L187.6 551.01 L188.1 551.10 L188.6 551.20 L189.1 550.98 L189.6 550.75 L190.1 550.97 L190.6 551.18 L191.1 551.46 L191.6 551.73 L192.1 551.56 L192.6 551.40 L193.1 551.14 L193.6 550.87 L194.1 551.07 L194.6 551.26 L195.1 551.71 L195.6 552.15 L196.1 552.07 L196.6 551.98 L197.1 552.05 L197.6 552.12 L198.1 552.59 L198.6 553.05 L199.1 552.16 L199.6 551.26 L200.1 551.72 L200.6 552.19 L201.1 552.39 L201.6 552.59 L202.1 553.19 L202.6 553.78 L203.1 552.74 L203.6 551.70 L204.1 552.72 L204.6 553.73 L205.1 553.68 L205.6 553.62 L206.1 553.25 L206.6 552.88 L207.1 552.87 L207.6 552.85 L208.1 553.32 L208.6 553.79 L209.1 553.52 L209.6 553.26 L210.1 553.09 L210.6 552.92 L211.1 552.95 L211.6 552.98 L212.1 552.39 L212.6 551.81 L213.1 552.65 L213.6 553.50 L214.1 553.45 L214.6 553.40 L215.1 553.33 L215.6 553.27 L216.1 553.40 L216.6 553.53 L217.1 553.42 L217.6 553.32 L218.1 553.56 L218.6 553.80 L219.1 553.96 L219.6 554.11 L220.1 554.14" fill="none" stroke="#0a0a0a" stroke-width="2.2" stroke-linejoin="round"/>
<line x1="58.2" y1="555.80" x2="125.8" y2="555.80" stroke="#a9a9a9" stroke-width="1.4"/>
<path d="M125.8 555.91 L126.3 554.64 L126.8 551.82 L127.3 548.85 L127.8 545.91 L128.3 542.29 L128.8 538.51 L129.3 535.04 L129.8 531.86 L130.3 529.06 L130.8 526.30 L131.3 523.26 L131.8 520.46 L132.3 517.88 L132.8 515.52 L133.3 513.56 L133.8 511.90 L134.3 510.67 L134.8 509.80 L135.3 509.20 L135.8 508.96 L136.3 508.84 L136.8 508.78 L137.3 508.63 L137.8 508.61 L138.3 508.67 L138.8 508.76 L139.3 509.28 L139.8 510.17 L140.3 510.85 L140.8 511.71 L141.3 513.09 L141.8 514.51 L142.3 514.98 L142.8 515.34 L143.3 516.62 L143.8 517.91 L144.3 519.94 L144.8 521.98 L145.3 522.49 L145.8 522.98 L146.3 524.23 L146.8 525.47 L147.3 526.25 L147.8 527.07 L148.3 527.70 L148.8 528.33 L149.3 528.71 L149.8 529.03 L150.3 531.56 L150.8 533.99 L151.3 534.97 L151.8 535.92 L152.3 536.38 L152.8 536.81 L153.3 535.96 L153.8 535.08 L154.3 538.04 L154.8 540.98 L155.3 540.81 L155.8 540.61 L156.3 541.17 L156.8 541.71 L157.3 541.64 L157.8 541.55 L158.3 542.11 L158.8 542.66 L159.3 543.40 L159.8 544.13 L160.3 543.07 L160.8 541.99 L161.3 543.29 L161.8 544.56 L162.3 545.33 L162.8 546.09 L163.3 547.15 L163.8 548.21 L164.3 547.74 L164.8 547.27 L165.3 546.99 L165.8 546.69 L166.3 546.86 L166.8 547.01 L167.3 547.06 L167.8 547.10 L168.3 547.57 L168.8 548.04 L169.3 548.38" fill="none" stroke="#a9a9a9" stroke-width="2.2" stroke-linejoin="round"/>
<path d="M67.6 555.72 L68.1 555.32 L68.6 554.24 L69.1 552.72 L69.6 550.26 L70.1 547.08 L70.6 544.01 L71.1 541.17 L71.6 538.16 L72.1 534.68 L72.6 530.96 L73.1 527.19 L73.6 523.33 L74.1 519.32 L74.6 515.39 L75.1 511.64 L75.6 507.89 L76.1 503.94 L76.6 499.93 L77.1 495.95 L77.6 491.82 L78.1 487.71 L78.6 483.61 L79.1 479.28 L79.6 474.95 L80.1 470.78 L80.6 466.70 L81.1 462.84 L81.6 459.61 L82.1 456.73 L82.6 453.87 L83.1 451.64 L83.6 450.29 L84.1 450.15 L84.6 451.26 L85.1 452.95 L85.6 455.03 L86.1 457.18 L86.6 459.35 L87.1 463.74 L87.6 468.93 L88.1 472.12 L88.6 475.08 L89.1 479.35 L89.6 483.52 L90.1 486.66 L90.6 489.69 L91.1 493.53 L91.6 497.19 L92.1 499.46 L92.6 501.64 L93.1 504.83 L93.6 507.92 L94.1 511.10 L94.6 514.16 L95.1 515.08 L95.6 515.87 L96.1 518.75 L96.6 521.61 L97.1 523.53 L97.6 525.41 L98.1 526.89 L98.6 528.29 L99.1 530.25 L99.6 532.11 L100.1 533.07 L100.6 533.90 L101.1 535.90 L101.6 537.77 L102.1 538.81 L102.6 539.81 L103.1 539.17 L103.6 538.48 L104.1 540.08 L104.6 541.64 L105.1 542.48 L105.6 543.28 L106.1 543.62 L106.6 543.92 L107.1 544.83 L107.6 545.69 L108.1 545.63 L108.6 545.55 L109.1 546.57 L109.6 547.58 L110.1 547.64 L110.6 547.69 L111.1 548.14 L111.6 548.58 L112.1 548.48" fill="none" stroke="#a9a9a9" stroke-width="2.0" stroke-dasharray="3.8 1.8" stroke-linejoin="round"/>
<path d="M70.0 555.55 L70.5 555.22 L71.0 553.94 L71.5 551.69 L72.0 549.15 L72.5 546.62 L73.0 544.06 L73.5 541.25 L74.0 538.32 L74.5 535.38 L75.0 532.29 L75.5 529.08 L76.0 525.78 L76.5 522.28 L77.0 518.78 L77.5 515.50 L78.0 512.13 L78.5 508.78 L79.0 505.46 L79.5 502.12 L80.0 498.98 L80.5 496.01 L81.0 493.10 L81.5 490.26 L82.0 487.52 L82.5 484.95 L83.0 482.54 L83.5 480.31 L84.0 478.30 L84.5 476.55 L85.0 474.88 L85.5 473.19 L86.0 471.76 L86.5 470.85 L87.0 470.16 L87.5 469.06 L88.0 468.11 L88.5 468.08 L89.0 468.38 L89.5 468.67 L90.0 469.14 L90.5 469.16 L91.0 468.95 L91.5 471.06 L92.0 473.95 L92.5 475.01 L93.0 476.24 L93.5 478.29 L94.0 480.33 L94.5 482.31 L95.0 484.41 L95.5 486.13 L96.0 487.91 L96.5 489.53 L97.0 491.14 L97.5 493.56 L98.0 495.93 L98.5 498.30 L99.0 500.63 L99.5 501.18 L100.0 501.74 L100.5 503.40 L101.0 505.04 L101.5 508.05 L102.0 511.01 L102.5 512.62 L103.0 514.13 L103.5 515.62 L104.0 516.98 L104.5 518.02 L105.0 518.98 L105.5 520.55 L106.0 522.06 L106.5 523.44 L107.0 524.81 L107.5 524.66 L108.0 524.52 L108.5 526.36 L109.0 528.21 L109.5 529.57 L110.0 530.92 L110.5 531.64 L111.0 532.32 L111.5 533.83 L112.0 535.29 L112.5 535.35 L113.0 535.34 L113.5 536.82 L114.0 538.29 L114.5 539.03 L115.0 539.76 L115.5 540.21 L116.0 540.65 L116.5 540.71 L117.0 540.75 L117.5 542.58 L118.0 544.38 L118.5 543.92 L119.0 543.43 L119.5 544.28 L120.0 545.11 L120.5 543.43 L121.0 541.73 L121.5 543.58 L122.0 545.42 L122.5 546.29 L123.0 547.16 L123.5 544.93 L124.0 542.68 L124.5 545.56 L125.0 548.44 L125.5 549.37 L126.0 550.29 L126.5 548.98 L127.0 547.67 L127.5 548.47 L128.0 549.27 L128.5 550.05 L129.0 550.83 L129.5 550.44 L130.0 550.03 L130.5 550.79 L131.0 551.54 L131.5 551.38 L132.0 551.19 L132.5 550.40 L133.0 549.60 L133.5 549.26 L134.0 548.91 L134.5 550.18 L135.0 551.43 L135.5 552.11 L136.0 552.79 L136.5 552.01 L137.0 551.23 L137.5 552.36 L138.0 553.48 L138.5 552.16 L139.0 550.85 L139.5 552.04 L140.0 553.23 L140.5 552.89 L141.0 552.55 L141.5 552.66 L142.0 552.77 L142.5 552.72 L143.0 552.66 L143.5 552.57 L144.0 552.47 L144.5 551.18 L145.0 549.88 L145.5 551.05 L146.0 552.23 L146.5 553.28 L147.0 554.32 L147.5 553.32 L148.0 552.31 L148.5 553.22 L149.0 554.12 L149.5 552.71 L150.0 551.30" fill="none" stroke="#0a0a0a" stroke-width="2.0" stroke-dasharray="3.8 1.8" stroke-linejoin="round"/>
<path d="M73.0 733.40 L73.5 733.29 L74.0 733.13 L74.5 733.02 L75.0 732.86 L75.5 732.62 L76.0 732.36 L76.5 732.36 L77.0 732.33 L77.5 731.77 L78.0 730.97 L78.5 730.02 L79.0 728.20 L79.5 725.48 L80.0 722.95 L80.5 720.80 L81.0 718.62 L81.5 716.02 L82.0 713.32 L82.5 710.77 L83.0 708.17 L83.5 705.41 L84.0 702.60 L84.5 699.79 L85.0 696.95 L85.5 694.05 L86.0 691.16 L86.5 688.12 L87.0 685.01 L87.5 682.09 L88.0 679.03 L88.5 675.71 L89.0 672.06 L89.5 667.84 L90.0 663.41 L90.5 659.07 L91.0 654.95 L91.5 651.03 L92.0 647.19 L92.5 643.63 L93.0 640.60 L93.5 637.95 L94.0 636.76 L94.5 637.27 L95.0 638.64 L95.5 639.97 L96.0 641.16 L96.5 643.56 L97.0 646.40 L97.5 648.88 L98.0 651.71 L98.5 654.12 L99.0 656.52 L99.5 659.01 L100.0 661.32 L100.5 662.79 L101.0 664.19 L101.5 667.30 L102.0 670.39 L102.5 672.43 L103.0 674.50 L103.5 676.08 L104.0 677.73 L104.5 681.22 L105.0 684.79 L105.5 686.06 L106.0 687.32 L106.5 689.53 L107.0 691.64 L107.5 693.73 L108.0 695.64 L108.5 697.42 L109.0 699.10 L109.5 701.52 L110.0 703.87 L110.5 705.37 L111.0 706.83 L111.5 707.95 L112.0 709.08 L112.5 709.18 L113.0 709.22 L113.5 712.22 L114.0 715.10 L114.5 715.46 L115.0 715.65 L115.5 716.32 L116.0 716.96 L116.5 718.66 L117.0 720.33 L117.5 720.54 L118.0 720.71 L118.5 721.42 L119.0 722.11 L119.5 721.73 L120.0 721.32 L120.5 722.36 L121.0 723.36 L121.5 723.23 L122.0 723.08 L122.5 724.51 L123.0 725.92 L123.5 725.81 L124.0 725.68 L124.5 726.37" fill="none" stroke="#a9a9a9" stroke-width="2.0" stroke-dasharray="3.8 1.8" stroke-linejoin="round"/>
<path d="M73.4 733.32 L73.9 733.32 L74.4 733.28 L74.9 733.25 L75.4 733.19 L75.9 733.01 L76.4 732.79 L76.9 732.56 L77.4 732.28 L77.9 731.72 L78.4 730.90 L78.9 729.88 L79.4 727.99 L79.9 725.47 L80.4 723.13 L80.9 720.47 L81.4 717.79 L81.9 715.79 L82.4 713.79 L82.9 711.37 L83.4 708.95 L83.9 706.50 L84.4 704.08 L84.9 701.86 L85.4 699.68 L85.9 697.52 L86.4 695.37 L86.9 693.08 L87.4 690.77 L87.9 688.43 L88.4 686.15 L88.9 684.14 L89.4 682.25 L89.9 680.45 L90.4 678.86 L90.9 677.55 L91.4 676.36 L91.9 675.18 L92.4 674.08 L92.9 672.93 L93.4 671.88 L93.9 671.09 L94.4 670.41 L94.9 669.91 L95.4 669.50 L95.9 668.60 L96.4 667.74 L96.9 667.70 L97.4 667.73 L97.9 667.29 L98.4 666.95 L98.9 666.74 L99.4 666.41 L99.9 667.07 L100.4 668.26 L100.9 668.36 L101.4 668.36 L101.9 667.88 L102.4 667.44 L102.9 669.24 L103.4 671.16 L103.9 672.05 L104.4 673.15 L104.9 674.32 L105.4 675.52 L105.9 677.28 L106.4 678.97 L106.9 681.12 L107.4 683.30 L107.9 684.18 L108.4 685.09 L108.9 686.32 L109.4 687.56 L109.9 688.92 L110.4 690.29 L110.9 691.95 L111.4 693.59 L111.9 694.91 L112.4 696.20 L112.9 696.90 L113.4 697.61 L113.9 699.55 L114.4 701.49 L114.9 702.62 L115.4 703.70 L115.9 705.60 L116.4 707.38 L116.9 707.50 L117.4 707.57 L117.9 709.03 L118.4 710.46 L118.9 710.21 L119.4 709.93 L119.9 711.26 L120.4 712.56 L120.9 712.78 L121.4 712.97 L121.9 713.51 L122.4 714.02 L122.9 715.30 L123.4 716.56 L123.9 716.35 L124.4 716.12 L124.9 716.99 L125.4 717.84 L125.9 718.08 L126.4 718.30 L126.9 719.22 L127.4 720.12 L127.9 720.49 L128.4 720.84 L128.9 719.12 L129.4 717.38 L129.9 720.03 L130.4 722.67 L130.9 722.45 L131.4 722.22 L131.9 723.65 L132.4 725.07 L132.9 724.89 L133.4 724.70 L133.9 725.02 L134.4 725.32 L134.9 724.18 L135.4 723.03 L135.9 725.02 L136.4 727.01 L136.9 726.53 L137.4 726.04 L137.9 724.65 L138.4 723.26 L138.9 725.21 L139.4 727.17 L139.9 727.80 L140.4 728.42 L140.9 726.22 L141.4 724.01 L141.9 726.52 L142.4 729.03 L142.9 728.64 L143.4 728.24 L143.9 728.31 L144.4 728.37 L144.9 728.58 L145.4 728.79 L145.9 728.75 L146.4 728.71 L146.9 729.25 L147.4 729.79 L147.9 729.93 L148.4 730.06 L148.9 730.50 L149.4 730.93 L149.9 731.19 L150.4 731.44 L150.9 729.99 L151.4 728.53 L151.9 730.05 L152.4 731.56 L152.9 730.71 L153.4 729.87 L153.9 730.70 L154.4 731.53 L154.9 730.88 L155.4 730.23" fill="none" stroke="#0a0a0a" stroke-width="2.0" stroke-dasharray="3.8 1.8" stroke-linejoin="round"/>
<path d="M330.5 202.91 L331.0 201.96 L331.5 199.46 L332.0 195.97 L332.5 192.31 L333.0 188.50 L333.5 183.88 L334.0 178.58 L334.5 172.96 L335.0 167.36 L335.5 161.61 L336.0 155.67 L336.5 149.44 L337.0 142.45 L337.5 134.59 L338.0 126.59 L338.5 119.56 L339.0 114.47 L339.5 110.13 L340.0 106.42 L340.5 103.49 L341.0 101.23 L341.5 99.10 L342.0 97.41 L342.5 96.26 L343.0 95.63 L343.5 95.78 L344.0 96.45 L344.5 97.46 L345.0 99.92 L345.5 102.93 L346.0 104.79 L346.5 106.80 L347.0 110.39 L347.5 114.72 L348.0 118.00 L348.5 121.04 L349.0 125.62 L349.5 130.00 L350.0 134.44 L350.5 138.85 L351.0 140.75 L351.5 142.74 L352.0 147.08 L352.5 151.44 L353.0 154.77 L353.5 157.90 L354.0 161.93 L354.5 165.89 L355.0 167.92 L355.5 169.82 L356.0 172.47 L356.5 174.89 L357.0 177.50 L357.5 179.91 L358.0 182.16 L358.5 184.30 L359.0 184.34 L359.5 184.28 L360.0 186.10 L360.5 187.80 L361.0 189.40 L361.5 190.90 L362.0 191.81 L362.5 192.69 L363.0 193.06 L363.5 193.37 L364.0 194.33 L364.5 195.22 L365.0 196.09 L365.5 196.87 L366.0 197.66 L366.5 198.37 L367.0 197.85 L367.5 197.32 L368.0 198.47 L368.5 199.60 L369.0 199.85 L369.5 200.08 L370.0 200.94 L370.5 201.78 L371.0 200.35 L371.5 198.90 L372.0 199.87" fill="none" stroke="#0a0a0a" stroke-width="2.2" stroke-linejoin="round"/>
<line x1="311.2" y1="203.00" x2="329.5" y2="203.00" stroke="#a9a9a9" stroke-width="1.9"/>
<path d="M329.5 203.05 L330.0 201.61 L330.5 198.18 L331.0 194.06 L331.5 190.11 L332.0 185.74 L332.5 180.87 L333.0 175.58 L333.5 169.96 L334.0 163.92 L334.5 157.22 L335.0 150.04 L335.5 142.54 L336.0 134.27 L336.5 125.51 L337.0 117.44 L337.5 109.49 L338.0 102.14 L338.5 97.22 L339.0 93.13 L339.5 90.12 L340.0 88.93 L340.5 90.32 L341.0 92.72 L341.5 95.50 L342.0 99.89 L342.5 104.31 L343.0 106.75 L343.5 109.19 L344.0 112.68 L344.5 116.46 L345.0 121.37 L345.5 126.84 L346.0 132.43 L346.5 137.94 L347.0 143.15 L347.5 148.10 L348.0 151.95 L348.5 155.67 L349.0 159.37 L349.5 162.70 L350.0 165.80 L350.5 168.54 L351.0 172.51 L351.5 176.30 L352.0 178.30 L352.5 180.08 L353.0 181.49 L353.5 182.65 L354.0 184.92 L354.5 187.08 L355.0 188.49 L355.5 189.79 L356.0 191.09 L356.5 192.28 L357.0 192.75 L357.5 193.11 L358.0 194.64 L358.5 196.13 L359.0 195.05 L359.5 193.92 L360.0 195.73" fill="none" stroke="#a9a9a9" stroke-width="2.2" stroke-linejoin="round"/>
<line x1="311.5" y1="203.00" x2="323.9" y2="203.00" stroke="#a9a9a9" stroke-width="1.9"/>
<path d="M323.9 202.88 L324.4 199.00 L324.9 192.32 L325.4 183.52 L325.9 174.56 L326.4 165.29 L326.9 156.46 L327.4 149.23 L327.9 143.34 L328.4 137.82 L328.9 131.80 L329.4 124.61 L329.9 116.97 L330.4 109.63 L330.9 102.93 L331.4 96.67 L331.9 90.49 L332.4 84.10 L332.9 77.74 L333.4 72.36 L333.9 67.70 L334.4 63.15 L334.9 60.67 L335.4 61.46 L335.9 64.36 L336.4 68.18 L336.9 71.87 L337.4 76.04 L337.9 80.77 L338.4 85.97 L338.9 91.57 L339.4 97.12 L339.9 103.57 L340.4 111.20 L340.9 118.63 L341.4 125.53 L341.9 132.43 L342.4 140.27 L342.9 147.32 L343.4 152.57 L343.9 157.47 L344.4 161.35 L344.9 164.63 L345.4 169.27 L345.9 173.65 L346.4 175.71 L346.9 177.50 L347.4 180.45 L347.9 183.08 L348.4 185.15 L348.9 187.04 L349.4 188.54 L349.9 189.93 L350.4 192.67 L350.9 195.26 L351.4 194.55 L351.9 193.69 L352.4 193.71 L352.9 193.67 L353.4 195.61" fill="none" stroke="#a9a9a9" stroke-width="2.0" stroke-dasharray="3.8 1.8" stroke-linejoin="round"/>
<path d="M324.9 202.97 L325.4 199.07 L325.9 192.39 L326.4 183.81 L326.9 174.71 L327.4 164.66 L327.9 155.16 L328.4 147.77 L328.9 141.60 L329.4 135.46 L329.9 128.84 L330.4 122.03 L330.9 115.13 L331.4 108.10 L331.9 100.96 L332.4 94.34 L332.9 88.40 L333.4 82.92 L333.9 77.94 L334.4 73.14 L334.9 68.27 L335.4 64.99 L335.9 64.62 L336.4 66.12 L336.9 68.72 L337.4 71.94 L337.9 75.04 L338.4 78.27 L338.9 81.86 L339.4 85.05 L339.9 88.61 L340.4 94.28 L340.9 100.99 L341.4 106.44 L341.9 111.91 L342.4 118.34 L342.9 124.34 L343.4 129.63 L343.9 134.75 L344.4 138.74 L344.9 142.56 L345.4 148.01 L345.9 153.43 L346.4 157.51 L346.9 161.32 L347.4 164.84 L347.9 167.85 L348.4 170.02 L348.9 172.02 L349.4 176.10 L349.9 179.99 L350.4 182.09 L350.9 183.98 L351.4 185.33 L351.9 186.50 L352.4 187.75 L352.9 188.93 L353.4 188.98 L353.9 188.93 L354.4 191.80 L354.9 194.55 L355.4 195.19 L355.9 195.68 L356.4 196.03 L356.9 196.28 L357.4 196.69 L357.9 197.08 L358.4 197.39 L358.9 197.68 L359.4 198.15 L359.9 198.59 L360.4 199.35 L360.9 200.09 L361.4 199.88 L361.9 199.65 L362.4 199.80 L362.9 199.91 L363.4 200.24" fill="none" stroke="#0a0a0a" stroke-width="2.0" stroke-dasharray="3.8 1.8" stroke-linejoin="round"/>
<path d="M378.9 378.00 L379.4 376.97 L379.9 374.60 L380.4 369.58 L380.9 364.28 L381.4 359.60 L381.9 354.99 L382.4 350.96 L382.9 347.43 L383.4 344.33 L383.9 341.60 L384.4 339.00 L384.9 336.71 L385.4 334.83 L385.9 333.11 L386.4 332.08 L386.9 331.57 L387.4 330.53 L387.9 329.66 L388.4 329.46 L388.9 329.57 L389.4 330.08 L389.9 330.87 L390.4 331.80 L390.9 332.95 L391.4 334.53 L391.9 336.15 L392.4 336.98 L392.9 337.71 L393.4 338.22 L393.9 338.72 L394.4 340.06 L394.9 341.40 L395.4 340.56 L395.9 339.71 L396.4 343.03 L396.9 346.34 L397.4 347.26 L397.9 348.19 L398.4 348.44 L398.9 348.70 L399.4 350.59 L399.9 352.45 L400.4 352.85 L400.9 353.22 L401.4 354.57 L401.9 355.87 L402.4 356.47 L402.9 357.05 L403.4 358.12 L403.9 359.15 L404.4 358.48 L404.9 357.77 L405.4 359.04 L405.9 360.28 L406.4 360.81 L406.9 361.33 L407.4 363.13 L407.9 364.90 L408.4 364.30 L408.9 363.66 L409.4 364.42 L409.9 365.15 L410.4 365.46 L410.9 365.75 L411.4 366.57 L411.9 367.39 L412.4 368.10 L412.9 368.81 L413.4 368.71 L413.9 368.61 L414.4 368.77 L414.9 368.93 L415.4 368.37 L415.9 367.81 L416.4 368.81 L416.9 369.80 L417.4 370.10 L417.9 370.39 L418.4 370.23 L418.9 370.06 L419.4 370.54 L419.9 371.02 L420.4 371.97 L420.9 372.92 L421.4 372.92 L421.9 372.93 L422.4 370.64 L422.9 368.36 L423.4 370.33 L423.9 372.29 L424.4 372.63 L424.9 372.97 L425.4 372.76 L425.9 372.54 L426.4 371.59 L426.9 370.63 L427.4 372.04 L427.9 373.45 L428.4 374.05 L428.9 374.66 L429.4 373.82 L429.9 372.98 L430.4 373.56 L430.9 374.14 L431.4 374.62 L431.9 375.10 L432.4 374.75 L432.9 374.41 L433.4 374.75 L433.9 375.08 L434.4 374.90 L434.9 374.72 L435.4 374.19 L435.9 373.66 L436.4 374.17 L436.9 374.67 L437.4 375.26 L437.9 375.86 L438.4 376.32 L438.9 376.77 L439.4 376.45 L439.9 376.13 L440.4 377.02 L440.9 377.92 L441.4 376.20 L441.9 374.49" fill="none" stroke="#0a0a0a" stroke-width="2.2" stroke-linejoin="round"/>
<line x1="311.5" y1="378.20" x2="364.5" y2="378.20" stroke="#a9a9a9" stroke-width="1.9"/>
<path d="M364.5 377.98 L365.0 376.74 L365.5 374.47 L366.0 371.71 L366.5 368.35 L367.0 364.49 L367.5 359.65 L368.0 354.21 L368.5 348.85 L369.0 344.16 L369.5 339.71 L370.0 335.30 L370.5 331.24 L371.0 327.92 L371.5 325.10 L372.0 322.28 L372.5 319.99 L373.0 318.74 L373.5 319.00 L374.0 320.58 L374.5 322.84 L375.0 325.49 L375.5 327.99 L376.0 329.18 L376.5 330.29 L377.0 332.66 L377.5 334.98 L378.0 336.55 L378.5 338.08 L379.0 339.25 L379.5 340.36 L380.0 342.80 L380.5 345.10 L381.0 346.64 L381.5 348.09 L382.0 348.76 L382.5 349.38 L383.0 351.87 L383.5 354.32 L384.0 354.23 L384.5 354.11 L385.0 355.15 L385.5 356.17 L386.0 356.92 L386.5 357.65 L387.0 357.74 L387.5 357.81 L388.0 359.40 L388.5 360.96 L389.0 361.32 L389.5 361.66 L390.0 362.88 L390.5 364.06 L391.0 364.53 L391.5 364.95 L392.0 365.47 L392.5 365.95 L393.0 365.95 L393.5 365.92 L394.0 366.44 L394.5 366.93 L395.0 367.44 L395.5 367.93 L396.0 368.49 L396.5 369.03 L397.0 368.63 L397.5 368.21 L398.0 369.66 L398.5 371.10 L399.0 370.81 L399.5 370.51 L400.0 371.04 L400.5 371.56" fill="none" stroke="#a9a9a9" stroke-width="2.2" stroke-linejoin="round"/>
<line x1="311.5" y1="378.20" x2="337.3" y2="378.20" stroke="#a9a9a9" stroke-width="1.9"/>
<path d="M337.3 378.60 L337.8 377.04 L338.3 374.09 L338.8 369.78 L339.3 364.18 L339.8 357.31 L340.3 349.48 L340.8 340.82 L341.3 331.54 L341.8 323.92 L342.3 317.26 L342.8 310.50 L343.3 303.76 L343.8 297.32 L344.3 291.14 L344.8 285.14 L345.3 278.83 L345.8 273.16 L346.3 269.73 L346.8 267.63 L347.3 266.06 L347.8 265.09 L348.3 265.21 L348.8 266.26 L349.3 267.71 L349.8 269.06 L350.3 270.30 L350.8 274.02 L351.3 278.49 L351.8 282.20 L352.3 286.14 L352.8 288.90 L353.3 292.10 L353.8 296.86 L354.3 301.94 L354.8 306.82 L355.3 311.87 L355.8 318.18 L356.3 324.27 L356.8 328.00 L357.3 330.88 L357.8 333.84 L358.3 336.51 L358.8 339.45 L359.3 342.23 L359.8 344.81 L360.3 347.33 L360.8 350.00 L361.3 352.55 L361.8 353.81 L362.3 354.88 L362.8 357.76 L363.3 360.58 L363.8 361.81 L364.3 362.93 L364.8 364.10 L365.3 365.12 L365.8 366.21 L366.3 367.18 L366.8 367.59 L367.3 367.97 L367.8 368.14 L368.3 368.27 L368.8 369.38 L369.3 370.43 L369.8 370.90" fill="none" stroke="#a9a9a9" stroke-width="2.0" stroke-dasharray="3.8 1.8" stroke-linejoin="round"/>
<path d="M337.8 378.16 L338.3 376.81 L338.8 374.13 L339.3 369.87 L339.8 364.33 L340.3 357.39 L340.8 349.50 L341.3 341.16 L341.8 332.21 L342.3 324.02 L342.8 316.78 L343.3 310.24 L343.8 303.65 L344.3 296.86 L344.8 290.62 L345.3 285.28 L345.8 280.13 L346.3 275.83 L346.8 273.05 L347.3 271.18 L347.8 269.56 L348.3 268.41 L348.8 267.79 L349.3 267.38 L349.8 267.63 L350.3 269.75 L350.8 272.49 L351.3 275.17 L351.8 278.48 L352.3 280.89 L352.8 283.63 L353.3 287.48 L353.8 291.63 L354.3 294.84 L354.8 298.48 L355.3 303.86 L355.8 309.25 L356.3 313.05 L356.8 316.91 L357.3 323.28 L357.8 328.63 L358.3 332.72 L358.8 336.50 L359.3 339.20 L359.8 341.70 L360.3 343.80 L360.8 345.82 L361.3 348.58 L361.8 351.23 L362.3 352.97 L362.8 354.54 L363.3 355.78 L363.8 356.93 L364.3 360.06 L364.8 363.09 L365.3 363.77 L365.8 364.31 L366.3 364.74 L366.8 365.02 L367.3 365.46 L367.8 365.85 L368.3 368.06 L368.8 370.21 L369.3 370.56 L369.8 370.85 L370.3 371.68 L370.8 372.45 L371.3 373.46 L371.8 374.41 L372.3 373.97 L372.8 373.51 L373.3 373.79 L373.8 374.06 L374.3 374.97 L374.8 375.88 L375.3 375.64 L375.8 375.38 L376.3 374.82 L376.8 374.24 L377.3 375.81 L377.8 377.36" fill="none" stroke="#0a0a0a" stroke-width="2.0" stroke-dasharray="3.8 1.8" stroke-linejoin="round"/>
<line x1="311.2" y1="554.40" x2="382.0" y2="554.40" stroke="#a9a9a9" stroke-width="1.9"/>
<path d="M382.0 554.39 L382.5 551.98 L383.0 546.37 L383.5 539.88 L384.0 534.86 L384.5 530.39 L385.0 526.22 L385.5 522.71 L386.0 519.66 L386.5 517.03 L387.0 514.89 L387.5 513.26 L388.0 512.12 L388.5 510.99 L389.0 510.05 L389.5 509.50 L390.0 509.31 L390.5 508.92 L391.0 508.34 L391.5 508.03 L392.0 507.61 L392.5 510.69 L393.0 514.62 L393.5 515.87 L394.0 517.04 L394.5 517.58 L395.0 518.19 L395.5 516.44 L396.0 514.71 L396.5 519.08 L397.0 523.42 L397.5 524.49 L398.0 525.49 L398.5 525.93 L399.0 526.28 L399.5 528.11 L400.0 529.92 L400.5 531.13 L401.0 532.32 L401.5 532.69 L402.0 533.03 L402.5 533.27 L403.0 533.48 L403.5 532.21 L404.0 530.91 L404.5 533.66 L405.0 536.40 L405.5 535.83 L406.0 535.25 L406.5 537.11 L407.0 538.96 L407.5 539.40 L408.0 539.82 L408.5 539.84 L409.0 539.84 L409.5 538.93 L410.0 537.98 L410.5 539.28 L411.0 540.56 L411.5 541.67 L412.0 542.77 L412.5 541.07 L413.0 539.36 L413.5 541.03 L414.0 542.68 L414.5 543.40 L415.0 544.12 L415.5 543.46 L416.0 542.78 L416.5 542.62 L417.0 542.45 L417.5 542.42 L418.0 542.39 L418.5 543.57 L419.0 544.75 L419.5 545.25 L420.0 545.74 L420.5 544.59 L421.0 543.43 L421.5 544.76 L422.0 546.09 L422.5 546.39 L423.0 546.67 L423.5 546.95 L424.0 547.23 L424.5 543.93 L425.0 540.63 L425.5 543.34 L426.0 546.06 L426.5 545.88 L427.0 545.69 L427.5 546.07 L428.0 546.45 L428.5 546.89 L429.0 547.33 L429.5 547.95 L430.0 548.57 L430.5 547.73 L431.0 546.90" fill="none" stroke="#a9a9a9" stroke-width="2.3" stroke-linejoin="round"/>
<line x1="311.5" y1="554.40" x2="344.0" y2="554.40" stroke="#a9a9a9" stroke-width="1.9"/>
<path d="M344.0 554.57 L344.5 553.27 L345.0 550.92 L345.5 548.57 L346.0 545.47 L346.5 540.85 L347.0 534.91 L347.5 528.29 L348.0 521.88 L348.5 515.76 L349.0 509.61 L349.5 503.25 L350.0 497.00 L350.5 490.98 L351.0 485.08 L351.5 479.45 L352.0 474.01 L352.5 468.45 L353.0 463.01 L353.5 458.09 L354.0 454.22 L354.5 451.89 L355.0 450.05 L355.5 449.30 L356.0 450.12 L356.5 451.58 L357.0 453.46 L357.5 455.10 L358.0 457.05 L358.5 460.98 L359.0 465.23 L359.5 467.11 L360.0 468.99 L360.5 471.95 L361.0 475.11 L361.5 480.30 L362.0 485.47 L362.5 488.92 L363.0 492.36 L363.5 496.14 L364.0 499.87 L364.5 502.62 L365.0 505.16 L365.5 509.22 L366.0 513.23 L366.5 516.09 L367.0 518.84 L367.5 520.70 L368.0 522.35 L368.5 525.61 L369.0 528.66 L369.5 530.47 L370.0 532.13 L370.5 534.41 L371.0 536.55 L371.5 536.89 L372.0 537.17 L372.5 538.75 L373.0 540.28 L373.5 541.76 L374.0 543.16 L374.5 542.93 L375.0 542.60 L375.5 543.76 L376.0 544.82 L376.5 543.62 L377.0 542.39 L377.5 544.73 L378.0 547.04" fill="none" stroke="#a9a9a9" stroke-width="2.0" stroke-dasharray="3.8 1.8" stroke-linejoin="round"/>
<path d="M344.4 554.03 L344.9 553.12 L345.4 551.16 L345.9 548.64 L346.4 545.35 L346.9 540.66 L347.4 534.64 L347.9 528.33 L348.4 522.24 L348.9 515.89 L349.4 509.51 L349.9 503.33 L350.4 497.25 L350.9 491.23 L351.4 485.32 L351.9 479.60 L352.4 474.03 L352.9 468.76 L353.4 463.43 L353.9 458.08 L354.4 453.85 L354.9 451.17 L355.4 449.06 L355.9 448.27 L356.4 448.93 L356.9 450.48 L357.4 452.48 L357.9 454.48 L358.4 457.02 L358.9 459.36 L359.4 461.94 L359.9 464.62 L360.4 467.26 L360.9 472.15 L361.4 477.23 L361.9 481.80 L362.4 486.35 L362.9 489.39 L363.4 492.42 L363.9 494.88 L364.4 497.28 L364.9 502.04 L365.4 506.59 L365.9 508.37 L366.4 510.10 L366.9 513.82 L367.4 517.42 L367.9 521.39 L368.4 525.16 L368.9 526.28 L369.4 527.21 L369.9 529.79 L370.4 532.23 L370.9 533.78 L371.4 535.17 L371.9 535.72 L372.4 536.22 L372.9 538.40 L373.4 540.52 L373.9 540.93 L374.4 541.27 L374.9 543.35 L375.4 545.35 L375.9 545.87 L376.4 546.29 L376.9 546.31 L377.4 546.30 L377.9 546.78 L378.4 547.23 L378.9 547.82 L379.4 548.38 L379.9 549.26 L380.4 550.11 L380.9 550.02 L381.4 549.89 L381.9 551.32 L382.4 552.71 L382.9 551.10 L383.4 549.47 L383.9 550.52 L384.4 551.55 L384.9 552.74 L385.4 553.93 L385.9 551.71 L386.4 549.48 L386.9 550.03 L387.4 550.56 L387.9 551.70" fill="none" stroke="#0a0a0a" stroke-width="2.0" stroke-dasharray="3.8 1.8" stroke-linejoin="round"/>
<path d="M366.2 729.65 L366.7 728.74 L367.2 726.64 L367.7 724.19 L368.2 721.17 L368.7 715.45 L369.2 708.60 L369.7 702.53 L370.2 696.56 L370.7 690.65 L371.2 685.10 L371.7 679.79 L372.2 674.71 L372.7 669.99 L373.2 665.72 L373.7 661.68 L374.2 657.98 L374.7 654.91 L375.2 653.13 L375.7 651.81 L376.2 650.65 L376.7 649.71 L377.2 649.01 L377.7 648.59 L378.2 648.51 L378.7 648.89 L379.2 649.73 L379.7 650.02 L380.2 650.26 L380.7 651.28 L381.2 652.44 L381.7 653.15 L382.2 654.43 L382.7 657.18 L383.2 660.22 L383.7 663.72 L384.2 667.24 L384.7 668.71 L385.2 670.30 L385.7 673.76 L386.2 677.38 L386.7 680.26 L387.2 683.15 L387.7 686.42 L388.2 689.98 L388.7 694.68 L389.2 705.07" fill="none" stroke="#0a0a0a" stroke-width="2.0" stroke-dasharray="3.8 1.8" stroke-linejoin="round"/>
<path d="M389.8 725.87 L390.3 699.86 L390.8 698.87 L391.3 699.51 L391.8 700.43 L392.3 702.63 L392.8 705.18 L393.3 707.00 L393.8 708.46 L394.3 709.56 L394.8 710.61 L395.3 711.55 L395.8 712.45 L396.3 712.98 L396.8 713.49 L397.3 714.49 L397.8 715.48 L398.3 716.43 L398.8 717.38 L399.3 718.01 L399.8 718.62 L400.3 719.06 L400.8 719.45 L401.3 720.98 L401.8 722.43 L402.3 722.20 L402.8 721.94 L403.3 722.07 L403.8 722.18 L404.3 722.70 L404.8 723.19 L405.3 723.44 L405.8 723.67 L406.3 723.63 L406.8 723.59 L407.3 724.57 L407.8 725.55 L408.3 725.99 L408.8 726.43 L409.3 725.99 L409.8 725.55 L410.3 726.13 L410.8 726.71 L411.3 727.02 L411.8 727.31" fill="none" stroke="#0a0a0a" stroke-width="2.0" stroke-dasharray="3.8 1.8" stroke-linejoin="round"/>
<path d="M359.5 729.62 L360.0 728.76 L360.5 726.57 L361.0 723.52 L361.5 720.05 L362.0 715.43 L362.5 710.07 L363.0 704.74 L363.5 699.66 L364.0 694.73 L364.5 689.87 L365.0 684.97 L365.5 679.91 L366.0 674.71 L366.5 670.18 L367.0 667.28 L367.5 665.43 L368.0 663.85 L368.5 662.60 L369.0 661.66 L369.5 661.31 L370.0 661.71 L370.5 662.64 L371.0 663.43 L371.5 664.27 L372.0 666.19 L372.5 668.26 L373.0 669.34 L373.5 670.74 L374.0 673.66 L374.5 676.71 L375.0 678.29 L375.5 679.81 L376.0 681.30 L376.5 682.60 L377.0 684.75 L377.5 686.88 L378.0 688.90 L378.5 690.84 L379.0 692.47 L379.5 693.99 L380.0 694.37 L380.5 694.65 L381.0 696.43 L381.5 698.15 L382.0 699.51 L382.5 700.82 L383.0 700.90 L383.5 700.94 L384.0 703.13 L384.5 705.28 L385.0 705.75 L385.5 706.18 L386.0 707.03 L386.5 707.85 L387.0 707.33 L387.5 706.78 L388.0 708.32 L388.5 709.83 L389.0 710.31 L389.5 710.78 L390.0 711.10 L390.5 711.42 L391.0 712.24 L391.5 713.06 L392.0 713.18 L392.5 713.30 L393.0 714.02 L393.5 714.74 L394.0 715.52 L394.5 716.28 L395.0 716.45 L395.5 716.60 L396.0 717.30 L396.5 717.98 L397.0 718.68 L397.5 719.35 L398.0 718.55 L398.5 717.74 L399.0 718.47 L399.5 719.18 L400.0 718.81 L400.5 718.43 L401.0 720.05 L401.5 721.67 L402.0 721.34 L402.5 720.99 L403.0 721.67 L403.5 722.34 L404.0 722.55 L404.5 722.76 L405.0 720.75 L405.5 718.73 L406.0 721.55 L406.5 724.37" fill="none" stroke="#a9a9a9" stroke-width="2.0" stroke-dasharray="3.8 1.8" stroke-linejoin="round"/>
<path d="M138.0 201.55 L138.5 201.85 L139.0 202.13 L139.5 202.40 L140.0 201.14 L140.5 199.83 L141.0 200.86 L141.5 201.92 L142.0 201.78 L142.5 201.65 L143.0 201.45 L143.5 201.25 L144.0 200.91 L144.5 200.56 L145.0 201.52 L145.5 202.47 L146.0 201.45 L146.5 200.43 L147.0 201.20 L147.5 201.96 L148.0 202.27 L148.5 202.58 L149.0 201.39 L149.5 200.20 L150.0 200.74 L150.5 201.28 L151.0 200.87 L151.5 200.46 L152.0 201.11 L152.5 201.75 L153.0 202.28 L153.5 202.81 L154.0 203.03 L154.5 203.24 L155.0 201.68 L155.5 200.12 L156.0 200.05 L156.5 199.98 L157.0 201.08 L157.5 202.18 L158.0 202.55 L158.5 202.92 L159.0 202.44 L159.5 201.97 L160.0 201.49 L160.5 201.02 L161.0 201.45 L161.5 201.89 L162.0 201.76 L162.5 201.64 L163.0 201.56 L163.5 201.49 L164.0 201.28 L164.5 201.06 L165.0 201.53 L165.5 202.00 L166.0 201.97 L166.5 201.94 L167.0 201.78 L167.5 201.62 L168.0 200.46 L168.5 199.30 L169.0 199.97 L169.5 200.65 L170.0 200.98 L170.5 201.32 L171.0 200.70 L171.5 200.09 L172.0 200.83 L172.5 201.58 L173.0 201.07 L173.5 200.55 L174.0 201.70 L174.5 202.85 L175.0 202.52 L175.5 202.20 L176.0 202.85 L176.5 203.40 L177.0 202.66 L177.5 201.82 L178.0 201.23 L178.5 200.64 L179.0 200.62 L179.5 200.59 L180.0 201.74 L180.5 202.88 L181.0 203.40 L181.5 203.40 L182.0 202.52 L182.5 201.13 L183.0 201.20 L183.5 201.28 L184.0 200.50 L184.5 199.71 L185.0 199.74 L185.5 199.77 L186.0 200.69 L186.5 201.61 L187.0 201.58 L187.5 201.55 L188.0 201.27 L188.5 201.00 L189.0 201.87 L189.5 202.75 L190.0 202.31 L190.5 201.87 L191.0 202.24 L191.5 202.62 L192.0 202.07 L192.5 201.52 L193.0 201.83 L193.5 202.14 L194.0 201.12 L194.5 200.11 L195.0 200.40 L195.5 200.68 L196.0 201.61 L196.5 202.54 L197.0 200.59 L197.5 198.65 L198.0 200.51 L198.5 202.37 L199.0 202.36 L199.5 202.34 L200.0 202.67 L200.5 202.99 L201.0 201.49 L201.5 199.99 L202.0 201.37 L202.5 202.75 L203.0 202.28 L203.5 201.82 L204.0 201.58 L204.5 201.34 L205.0 201.33 L205.5 201.32 L206.0 201.42 L206.5 201.52 L207.0 201.26 L207.5 201.00 L208.0 201.24 L208.5 201.48 L209.0 201.67 L209.5 201.86 L210.0 202.00 L210.5 202.15 L211.0 201.90 L211.5 201.66 L212.0 201.01 L212.5 200.36 L213.0 201.12 L213.5 201.89 L214.0 202.01 L214.5 202.14 L215.0 202.49 L215.5 202.85 L216.0 202.19 L216.5 201.54 L217.0 201.48 L217.5 201.43 L218.0 201.40 L218.5 201.36 L219.0 202.49 L219.5 203.40 L220.0 203.11 L220.5 202.59 L221.0 203.03 L221.5 203.40 L222.0 203.40 L222.5 203.40 L223.0 201.87 L223.5 200.02 L224.0 201.15 L224.5 202.29 L225.0 201.62 L225.5 200.94 L226.0 201.69 L226.5 202.44 L227.0 202.43 L227.5 202.43 L228.0 202.29 L228.5 202.15 L229.0 202.14 L229.5 202.13 L230.0 201.43 L230.5 200.74 L231.0 201.30 L231.5 201.85 L232.0 201.61 L232.5 201.37 L233.0 200.45 L233.5 199.53 L234.0 200.56 L234.5 201.60 L235.0 201.53 L235.5 201.45 L236.0 202.06 L236.5 202.67 L237.0 202.46 L237.5 202.25 L238.0 202.25 L238.5 202.25 L239.0 202.16 L239.5 202.07 L240.0 201.85 L240.5 201.63 L241.0 201.74 L241.5 201.86 L242.0 201.72 L242.5 201.59 L243.0 201.95 L243.5 202.32 L244.0 202.16 L244.5 202.01 L245.0 202.24 L245.5 202.48 L246.0 201.02 L246.5 199.57 L247.0 201.15 L247.5 202.73 L248.0 202.05 L248.5 201.37 L249.0 201.38 L249.5 201.39 L250.0 201.62 L250.5 201.84 L251.0 201.69 L251.5 201.53 L252.0 201.89 L252.5 202.24 L253.0 201.88 L253.5 201.53 L254.0 201.32 L254.5 201.12" fill="none" stroke="#0a0a0a" stroke-width="1.4" stroke-linejoin="round"/>
<path d="M116.7 200.90 L117.2 201.50 L117.7 201.58 L118.2 201.64 L118.7 200.96 L119.2 200.23 L119.7 200.45 L120.2 200.65 L120.7 201.26 L121.2 201.88 L121.7 201.22 L122.2 200.56 L122.7 199.18 L123.2 197.81 L123.7 200.05 L124.2 202.30 L124.7 202.05 L125.2 201.81 L125.7 200.55 L126.2 199.30 L126.7 200.49 L127.2 201.68 L127.7 201.48 L128.2 201.28 L128.7 201.23 L129.2 201.18 L129.7 201.22 L130.2 201.26 L130.7 201.61 L131.2 201.97 L131.7 202.36 L132.2 202.75 L132.7 202.02 L133.2 201.28 L133.7 201.45 L134.2 201.63 L134.7 201.57 L135.2 201.51 L135.7 201.09 L136.2 200.67 L136.7 201.30 L137.2 201.92 L137.7 202.18 L138.2 202.44 L138.7 201.74 L139.2 201.04 L139.7 201.74 L140.2 202.44 L140.7 201.86 L141.2 201.29 L141.7 202.00 L142.2 202.72 L142.7 202.75 L143.2 202.78 L143.7 202.13 L144.2 201.47 L144.7 200.81 L145.2 200.15 L145.7 200.84 L146.2 201.52 L146.7 201.10 L147.2 200.67 L147.7 200.71 L148.2 200.74 L148.7 201.19 L149.2 201.63 L149.7 201.35 L150.2 201.06 L150.7 201.42 L151.2 201.78 L151.7 201.73 L152.2 201.68 L152.7 201.02 L153.2 200.35 L153.7 200.87 L154.2 201.38 L154.7 199.97 L155.2 198.56 L155.7 200.45 L156.2 202.33 L156.7 201.90 L157.2 201.47 L157.7 201.68 L158.2 201.88 L158.7 201.89 L159.2 201.91 L159.7 201.84 L160.2 201.78 L160.7 202.25 L161.2 202.72 L161.7 202.54 L162.2 202.35 L162.7 202.02 L163.2 201.69 L163.7 201.89 L164.2 202.09 L164.7 202.25 L165.2 202.42 L165.7 202.76 L166.2 203.11 L166.7 202.60 L167.2 202.09 L167.7 202.63 L168.2 203.18 L168.7 202.34 L169.2 201.50 L169.7 201.65 L170.2 201.81 L170.7 201.29 L171.2 200.78 L171.7 201.73 L172.2 202.69 L172.7 201.93 L173.2 201.17 L173.7 201.17 L174.2 201.17 L174.7 201.95 L175.2 202.72 L175.7 202.16 L176.2 201.60 L176.7 201.51 L177.2 201.42 L177.7 202.13 L178.2 202.83 L178.7 202.37 L179.2 201.90 L179.7 202.36 L180.2 202.82 L180.7 202.27 L181.2 201.73 L181.7 202.20 L182.2 202.67 L182.7 202.81 L183.2 202.96 L183.7 202.55 L184.2 202.14 L184.7 202.85 L185.2 203.40 L185.7 202.66 L186.2 201.76 L186.7 201.84 L187.2 201.91 L187.7 202.04 L188.2 202.16 L188.7 202.54 L189.2 202.93 L189.7 202.39 L190.2 201.86 L190.7 201.80 L191.2 201.74 L191.7 202.03 L192.2 202.32 L192.7 202.73 L193.2 203.14 L193.7 202.46 L194.2 201.77 L194.7 201.42 L195.2 201.07 L195.7 201.54 L196.2 202.01 L196.7 202.33 L197.2 202.64 L197.7 201.04 L198.2 199.43 L198.7 199.64 L199.2 199.86 L199.7 200.23 L200.2 200.59 L200.7 201.37 L201.2 202.16 L201.7 202.19 L202.2 202.23 L202.7 202.44 L203.2 202.66 L203.7 202.53 L204.2 202.40 L204.7 202.59 L205.2 202.79 L205.7 201.32 L206.2 199.85 L206.7 201.27 L207.2 202.70 L207.7 201.75 L208.2 200.79 L208.7 201.23 L209.2 201.67 L209.7 202.37 L210.2 203.07 L210.7 202.97 L211.2 202.87 L211.7 201.75 L212.2 200.64 L212.7 201.64 L213.2 202.65 L213.7 202.23 L214.2 201.81 L214.7 201.67 L215.2 201.53 L215.7 201.94 L216.2 202.34 L216.7 202.31 L217.2 202.28 L217.7 202.80 L218.2 203.33 L218.7 202.16 L219.2 200.99 L219.7 201.41 L220.2 201.83 L220.7 201.94 L221.2 202.06 L221.7 201.36 L222.2 200.66 L222.7 201.91 L223.2 203.15 L223.7 203.39 L224.2 203.40 L224.7 202.65 L225.2 201.67 L225.7 202.09 L226.2 202.50 L226.7 202.23 L227.2 201.97 L227.7 202.19 L228.2 202.41 L228.7 202.02 L229.2 201.63 L229.7 202.25 L230.2 202.88 L230.7 202.05 L231.2 201.23 L231.7 202.27 L232.2 203.32 L232.7 201.93 L233.2 200.53 L233.7 202.36 L234.2 203.40 L234.7 202.51 L235.2 200.83 L235.7 200.70 L236.2 200.56 L236.7 200.85 L237.2 201.14 L237.7 201.61 L238.2 202.08 L238.7 202.32 L239.2 202.56 L239.7 202.00 L240.2 201.44 L240.7 201.23 L241.2 201.01 L241.7 200.89 L242.2 200.77 L242.7 201.57 L243.2 202.38 L243.7 202.82 L244.2 203.25 L244.7 203.21 L245.2 203.17 L245.7 202.70 L246.2 202.23 L246.7 201.82 L247.2 201.41 L247.7 201.65 L248.2 201.90 L248.7 201.43 L249.2 200.96 L249.7 200.93 L250.2 200.90 L250.7 201.99 L251.2 203.08 L251.7 202.52 L252.2 201.97 L252.7 201.69 L253.2 201.41 L253.7 201.69 L254.2 201.97" fill="none" stroke="#0a0a0a" stroke-width="1.4" stroke-dasharray="3.8 1.8" stroke-linejoin="round"/>
<path d="M154.5 378.08 L155.0 377.00 L155.5 375.88 L156.0 376.98 L156.5 378.12 L157.0 377.85 L157.5 377.57 L158.0 377.02 L158.5 376.48 L159.0 377.60 L159.5 378.72 L160.0 378.22 L160.5 377.72 L161.0 377.55 L161.5 377.38 L162.0 378.12 L162.5 378.87 L163.0 378.67 L163.5 378.47 L164.0 377.78 L164.5 377.08 L165.0 377.65 L165.5 378.22 L166.0 378.18 L166.5 378.13 L167.0 377.82 L167.5 377.51 L168.0 377.19 L168.5 376.88 L169.0 377.52 L169.5 378.16 L170.0 378.28 L170.5 378.40 L171.0 379.06 L171.5 379.71 L172.0 378.69 L172.5 377.67 L173.0 376.92 L173.5 376.16 L174.0 376.81 L174.5 377.45 L175.0 378.14 L175.5 378.82 L176.0 379.05 L176.5 379.28 L177.0 379.66 L177.5 380.04 L178.0 379.50 L178.5 378.95 L179.0 378.46 L179.5 377.96 L180.0 378.66 L180.5 379.36 L181.0 378.99 L181.5 378.63 L182.0 377.65 L182.5 376.68 L183.0 377.01 L183.5 377.35 L184.0 378.53 L184.5 379.70 L185.0 377.86 L185.5 376.02 L186.0 376.92 L186.5 377.82 L187.0 378.21 L187.5 378.61 L188.0 378.61 L188.5 378.62 L189.0 377.45 L189.5 376.29 L190.0 377.12 L190.5 377.95 L191.0 377.98 L191.5 378.00 L192.0 378.90 L192.5 379.79 L193.0 379.54 L193.5 379.28 L194.0 379.27 L194.5 379.26 L195.0 379.49 L195.5 379.73 L196.0 378.39 L196.5 377.06 L197.0 377.26 L197.5 377.46 L198.0 377.80 L198.5 378.13 L199.0 377.93 L199.5 377.73 L200.0 377.82 L200.5 377.90 L201.0 378.34 L201.5 378.78 L202.0 378.22 L202.5 377.66 L203.0 378.01 L203.5 378.36 L204.0 377.70 L204.5 377.05 L205.0 377.49 L205.5 377.93 L206.0 378.89 L206.5 379.85 L207.0 379.07 L207.5 378.29 L208.0 378.65 L208.5 379.01 L209.0 379.17 L209.5 379.33 L210.0 378.84 L210.5 378.34 L211.0 378.79 L211.5 379.23 L212.0 379.08 L212.5 378.93 L213.0 379.13 L213.5 379.33 L214.0 378.78 L214.5 378.23 L215.0 377.90 L215.5 377.57 L216.0 377.75 L216.5 377.92 L217.0 377.41 L217.5 376.90 L218.0 378.05 L218.5 379.21 L219.0 378.90 L219.5 378.60 L220.0 378.52 L220.5 378.44 L221.0 378.53 L221.5 378.62 L222.0 379.15 L222.5 379.68 L223.0 378.99 L223.5 378.30 L224.0 379.16 L224.5 380.02 L225.0 378.90 L225.5 377.77 L226.0 378.03 L226.5 378.29 L227.0 378.89 L227.5 379.49 L228.0 379.35 L228.5 379.21 L229.0 378.64 L229.5 378.08 L230.0 378.39 L230.5 378.70 L231.0 378.45 L231.5 378.20 L232.0 378.85 L232.5 379.49 L233.0 379.36 L233.5 379.23 L234.0 378.72 L234.5 378.20 L235.0 378.66 L235.5 379.12 L236.0 378.80 L236.5 378.49 L237.0 378.61 L237.5 378.73 L238.0 378.04 L238.5 377.34 L239.0 377.83 L239.5 378.33 L240.0 378.74 L240.5 379.15 L241.0 379.16 L241.5 379.18 L242.0 377.78 L242.5 376.39 L243.0 378.05 L243.5 379.71 L244.0 379.14 L244.5 378.57 L245.0 378.07 L245.5 377.57 L246.0 377.98 L246.5 378.40 L247.0 378.68 L247.5 378.96 L248.0 378.89 L248.5 378.82 L249.0 379.05 L249.5 379.28 L250.0 379.37 L250.5 379.46 L251.0 379.08 L251.5 378.70 L252.0 377.45 L252.5 376.20 L253.0 377.09 L253.5 377.99 L254.0 378.82 L254.5 379.65" fill="none" stroke="#0a0a0a" stroke-width="1.4" stroke-linejoin="round"/>
<path d="M133.3 377.59 L133.8 377.99 L134.3 377.24 L134.8 376.47 L135.3 376.82 L135.8 377.18 L136.3 377.05 L136.8 376.91 L137.3 378.12 L137.8 379.33 L138.3 378.48 L138.8 377.62 L139.3 377.89 L139.8 378.16 L140.3 376.30 L140.8 374.45 L141.3 376.00 L141.8 377.55 L142.3 377.26 L142.8 376.97 L143.3 377.65 L143.8 378.32 L144.3 377.97 L144.8 377.62 L145.3 378.12 L145.8 378.61 L146.3 377.75 L146.8 376.89 L147.3 378.08 L147.8 379.27 L148.3 378.80 L148.8 378.33 L149.3 378.61 L149.8 378.88 L150.3 377.28 L150.8 375.67 L151.3 377.05 L151.8 378.43 L152.3 378.39 L152.8 378.35 L153.3 378.09 L153.8 377.84 L154.3 378.40 L154.8 378.95 L155.3 378.11 L155.8 377.27 L156.3 377.28 L156.8 377.30 L157.3 377.83 L157.8 378.35 L158.3 378.48 L158.8 378.60 L159.3 377.38 L159.8 376.16 L160.3 377.63 L160.8 379.09 L161.3 378.45 L161.8 377.81 L162.3 377.93 L162.8 378.06 L163.3 377.92 L163.8 377.77 L164.3 378.01 L164.8 378.25 L165.3 378.57 L165.8 378.89 L166.3 379.94 L166.8 380.10 L167.3 378.69 L167.8 376.41 L168.3 377.88 L168.8 379.36 L169.3 379.35 L169.8 379.34 L170.3 379.59 L170.8 379.83 L171.3 379.34 L171.8 378.84 L172.3 378.93 L172.8 379.02 L173.3 379.57 L173.8 380.10 L174.3 379.44 L174.8 378.74 L175.3 378.78 L175.8 378.82 L176.3 378.75 L176.8 378.67 L177.3 378.86 L177.8 379.05 L178.3 379.60 L178.8 380.10 L179.3 379.06 L179.8 377.96 L180.3 378.82 L180.8 379.67 L181.3 377.11 L181.8 374.55 L182.3 376.83 L182.8 379.10 L183.3 378.74 L183.8 378.37 L184.3 377.69 L184.8 377.01 L185.3 376.89 L185.8 376.78 L186.3 378.08 L186.8 379.38 L187.3 379.30 L187.8 379.21 L188.3 379.11 L188.8 379.01 L189.3 378.04 L189.8 377.07 L190.3 378.03 L190.8 378.99 L191.3 378.31 L191.8 377.63 L192.3 378.62 L192.8 379.62 L193.3 378.91 L193.8 378.20 L194.3 378.48 L194.8 378.76 L195.3 377.57 L195.8 376.38 L196.3 377.60 L196.8 378.81 L197.3 378.86 L197.8 378.91 L198.3 379.04 L198.8 379.18 L199.3 378.45 L199.8 377.73 L200.3 378.88 L200.8 380.04 L201.3 378.51 L201.8 376.98 L202.3 377.79 L202.8 378.61 L203.3 377.57 L203.8 376.52 L204.3 377.76 L204.8 378.99 L205.3 378.02 L205.8 377.04 L206.3 378.39 L206.8 379.75 L207.3 379.47 L207.8 379.19 L208.3 379.17 L208.8 379.16 L209.3 378.69 L209.8 378.21 L210.3 378.32 L210.8 378.43 L211.3 378.51 L211.8 378.60 L212.3 378.74 L212.8 378.89 L213.3 378.38 L213.8 377.88 L214.3 378.17 L214.8 378.47 L215.3 378.84 L215.8 379.21 L216.3 379.06 L216.8 378.91 L217.3 378.79 L217.8 378.67 L218.3 378.39 L218.8 378.11 L219.3 378.56 L219.8 379.02 L220.3 378.98 L220.8 378.94 L221.3 378.30 L221.8 377.67 L222.3 378.23 L222.8 378.80 L223.3 378.08 L223.8 377.36 L224.3 377.53 L224.8 377.70 L225.3 378.98 L225.8 380.10 L226.3 378.96 L226.8 377.66 L227.3 378.19 L227.8 378.72 L228.3 378.60 L228.8 378.48 L229.3 378.39 L229.8 378.29 L230.3 377.65 L230.8 377.00 L231.3 377.66 L231.8 378.32 L232.3 378.59 L232.8 378.85 L233.3 378.92 L233.8 378.99 L234.3 379.35 L234.8 379.71 L235.3 379.75 L235.8 379.79 L236.3 380.00 L236.8 380.10 L237.3 379.69 L237.8 379.16 L238.3 378.64 L238.8 378.11 L239.3 379.40 L239.8 380.10 L240.3 379.96 L240.8 379.24 L241.3 377.96 L241.8 376.69 L242.3 378.05 L242.8 379.41 L243.3 379.04 L243.8 378.67 L244.3 378.43 L244.8 378.20 L245.3 378.24 L245.8 378.28 L246.3 378.56 L246.8 378.83 L247.3 378.47 L247.8 378.11 L248.3 378.54 L248.8 378.98 L249.3 378.81 L249.8 378.64 L250.3 377.59 L250.8 376.53 L251.3 377.84 L251.8 379.16 L252.3 379.11 L252.8 379.06 L253.3 379.59 L253.8 380.10 L254.3 379.65" fill="none" stroke="#0a0a0a" stroke-width="1.4" stroke-dasharray="3.8 1.8" stroke-linejoin="round"/>
<path d="M220.1 554.14 L220.6 554.18 L221.1 554.23 L221.6 554.29 L222.1 554.39 L222.6 554.51 L223.1 554.34 L223.6 554.16 L224.1 553.81 L224.6 553.45 L225.1 553.64 L225.6 553.83 L226.1 553.39 L226.6 552.95 L227.1 553.23 L227.6 553.50 L228.1 553.80 L228.6 554.09 L229.1 553.57 L229.6 553.04 L230.1 553.93 L230.6 554.81 L231.1 553.28 L231.6 551.75 L232.1 552.50 L232.6 553.25 L233.1 552.63 L233.6 552.01 L234.1 552.87 L234.6 553.72 L235.1 553.94 L235.6 554.16 L236.1 553.89 L236.6 553.63 L237.1 554.22 L237.6 554.80 L238.1 553.87 L238.6 552.93 L239.1 553.66 L239.6 554.39 L240.1 553.72 L240.6 553.04 L241.1 553.83 L241.6 554.62 L242.1 554.29 L242.6 553.95 L243.1 553.64 L243.6 553.33 L244.1 554.24 L244.6 555.14 L245.1 554.51 L245.6 553.87 L246.1 553.87 L246.6 553.87 L247.1 553.94 L247.6 554.01 L248.1 554.44 L248.6 554.87 L249.1 554.28 L249.6 553.69 L250.1 554.01 L250.6 554.33 L251.1 554.60 L251.6 554.88 L252.1 555.25 L252.6 555.62 L253.1 555.03 L253.6 554.43 L254.1 554.53" fill="none" stroke="#0a0a0a" stroke-width="1.4" stroke-linejoin="round"/>
<path d="M150.0 551.30 L150.5 551.71 L151.0 552.15 L151.5 551.76 L152.0 551.34 L152.5 552.66 L153.0 554.08 L153.5 553.92 L154.0 553.75 L154.5 554.87 L155.0 555.99 L155.5 554.36 L156.0 552.74 L156.5 553.85 L157.0 554.96 L157.5 554.58 L158.0 554.21 L158.5 552.97 L159.0 551.73 L159.5 552.09 L160.0 552.44 L160.5 552.91 L161.0 553.38 L161.5 553.29 L162.0 553.20 L162.5 552.98 L163.0 552.76 L163.5 552.36 L164.0 551.96 L164.5 552.80 L165.0 553.63 L165.5 553.61 L166.0 553.59 L166.5 553.19 L167.0 552.78 L167.5 553.23 L168.0 553.69 L168.5 550.58 L169.0 547.47 L169.5 551.67 L170.0 555.86 L170.5 555.28 L171.0 554.70 L171.5 553.14 L172.0 551.57 L172.5 553.29 L173.0 555.01 L173.5 554.34 L174.0 553.66 L174.5 553.47 L175.0 553.28 L175.5 553.35 L176.0 553.43 L176.5 553.31 L177.0 553.18 L177.5 553.39 L178.0 553.60 L178.5 554.58 L179.0 555.56 L179.5 554.57 L180.0 553.58 L180.5 554.81 L181.0 556.03 L181.5 555.41 L182.0 554.79 L182.5 555.76 L183.0 556.20 L183.5 555.17 L184.0 553.61 L184.5 553.49 L185.0 553.37 L185.5 551.97 L186.0 550.56 L186.5 551.04 L187.0 551.52 L187.5 553.42 L188.0 555.31 L188.5 555.13 L189.0 554.95 L189.5 554.74 L190.0 554.54 L190.5 554.53 L191.0 554.52 L191.5 555.07 L192.0 555.63 L192.5 552.39 L193.0 549.16 L193.5 552.03 L194.0 554.89 L194.5 554.91 L195.0 554.92 L195.5 555.20 L196.0 555.48 L196.5 555.94 L197.0 556.20 L197.5 555.75 L198.0 555.11 L198.5 554.31 L199.0 553.51 L199.5 554.36 L200.0 555.22 L200.5 554.71 L201.0 554.20 L201.5 554.42 L202.0 554.65 L202.5 553.94 L203.0 553.24 L203.5 553.73 L204.0 554.21 L204.5 554.36 L205.0 554.52 L205.5 554.37 L206.0 554.22 L206.5 554.74 L207.0 555.26 L207.5 556.12 L208.0 556.20 L208.5 555.78 L209.0 554.58 L209.5 554.03 L210.0 553.49 L210.5 553.88 L211.0 554.27 L211.5 555.19 L212.0 556.11 L212.5 555.45 L213.0 554.78 L213.5 555.37 L214.0 555.97 L214.5 555.46 L215.0 554.95 L215.5 555.46 L216.0 555.98 L216.5 555.07 L217.0 554.17 L217.5 555.29 L218.0 556.20 L218.5 555.72 L219.0 555.03 L219.5 555.27 L220.0 555.51 L220.5 556.03 L221.0 556.20 L221.5 554.24 L222.0 551.92 L222.5 553.23 L223.0 554.54 L223.5 555.49 L224.0 556.20 L224.5 555.47 L225.0 554.49 L225.5 554.28 L226.0 554.07 L226.5 554.30 L227.0 554.53 L227.5 555.09 L228.0 555.66 L228.5 555.14 L229.0 554.63 L229.5 553.92 L230.0 553.20 L230.5 553.33 L231.0 553.46 L231.5 553.02 L232.0 552.58 L232.5 553.20 L233.0 553.82 L233.5 553.66 L234.0 553.50 L234.5 553.04 L235.0 552.58 L235.5 553.87 L236.0 555.16 L236.5 554.86 L237.0 554.56 L237.5 554.98 L238.0 555.40 L238.5 553.68 L239.0 551.97 L239.5 553.91 L240.0 555.86 L240.5 556.20 L241.0 556.20 L241.5 555.37 L242.0 554.07 L242.5 553.44 L243.0 552.82 L243.5 552.43 L244.0 552.04 L244.5 553.95 L245.0 555.87 L245.5 555.18 L246.0 554.50 L246.5 554.83 L247.0 555.15 L247.5 554.77 L248.0 554.39 L248.5 553.42 L249.0 552.45 L249.5 553.18 L250.0 553.91 L250.5 554.21 L251.0 554.51 L251.5 554.00 L252.0 553.48 L252.5 554.22 L253.0 554.97 L253.5 554.30 L254.0 553.64 L254.5 554.72" fill="none" stroke="#0a0a0a" stroke-width="1.4" stroke-dasharray="3.8 1.8" stroke-linejoin="round"/>
<path d="M155.4 730.23 L155.9 730.52 L156.4 730.80 L156.9 730.32 L157.4 729.81 L157.9 729.53 L158.4 729.23 L158.9 730.62 L159.4 732.02 L159.9 731.17 L160.4 730.31 L160.9 730.68 L161.4 731.05 L161.9 731.64 L162.4 732.24 L162.9 732.70 L163.4 733.17 L163.9 731.99 L164.4 730.80 L164.9 732.07 L165.4 733.34 L165.9 732.76 L166.4 732.19 L166.9 733.12 L167.4 733.70 L167.9 732.90 L168.4 731.75 L168.9 731.68 L169.4 731.61 L169.9 732.00 L170.4 732.40 L170.9 731.78 L171.4 731.15 L171.9 731.72 L172.4 732.28 L172.9 732.21 L173.4 732.13 L173.9 732.78 L174.4 733.42 L174.9 732.99 L175.4 732.55 L175.9 731.84 L176.4 731.12 L176.9 731.10 L177.4 731.09 L177.9 731.25 L178.4 731.42 L178.9 730.92 L179.4 730.43 L179.9 730.39 L180.4 730.36 L180.9 732.30 L181.4 733.70 L181.9 732.91 L182.4 731.57 L182.9 732.54 L183.4 733.51 L183.9 731.93 L184.4 730.35 L184.9 731.17 L185.4 731.98 L185.9 731.39 L186.4 730.80 L186.9 732.16 L187.4 733.52 L187.9 732.77 L188.4 732.02 L188.9 732.96 L189.4 733.70 L189.9 732.83 L190.4 731.75 L190.9 732.66 L191.4 733.57 L191.9 732.25 L192.4 730.92 L192.9 730.98 L193.4 731.04 L193.9 731.94 L194.4 732.83 L194.9 732.16 L195.4 731.48 L195.9 731.43 L196.4 731.37 L196.9 731.96 L197.4 732.54 L197.9 732.87 L198.4 733.19 L198.9 733.44 L199.4 733.69 L199.9 732.91 L200.4 732.14 L200.9 732.75 L201.4 733.37 L201.9 733.17 L202.4 732.98 L202.9 732.72 L203.4 732.46 L203.9 732.03 L204.4 731.60 L204.9 732.06 L205.4 732.51 L205.9 733.70 L206.4 733.70 L206.9 733.67 L207.4 731.63 L207.9 731.98 L208.4 732.33 L208.9 732.00 L209.4 731.67 L209.9 732.72 L210.4 733.70 L210.9 733.70 L211.4 733.70 L211.9 733.70 L212.4 733.70 L212.9 733.19 L213.4 732.64 L213.9 732.54 L214.4 732.44 L214.9 733.25 L215.4 733.70 L215.9 732.91 L216.4 731.76 L216.9 732.86 L217.4 733.70 L217.9 733.70 L218.4 733.70 L218.9 732.93 L219.4 731.95 L219.9 731.63 L220.4 731.30 L220.9 731.42 L221.4 731.54 L221.9 731.39 L222.4 731.24 L222.9 731.25 L223.4 731.25 L223.9 731.39 L224.4 731.52 L224.9 731.51 L225.4 731.49 L225.9 731.97 L226.4 732.45 L226.9 733.31 L227.4 733.70 L227.9 733.24 L228.4 732.32 L228.9 732.04 L229.4 731.77 L229.9 732.48 L230.4 733.19 L230.9 732.76 L231.4 732.33 L231.9 732.49 L232.4 732.64 L232.9 732.79 L233.4 732.93 L233.9 732.95 L234.4 732.97 L234.9 732.02 L235.4 731.07 L235.9 731.70 L236.4 732.34 L236.9 732.89 L237.4 733.43 L237.9 732.83 L238.4 732.22 L238.9 732.28 L239.4 732.35 L239.9 732.60 L240.4 732.86 L240.9 732.91 L241.4 732.96 L241.9 731.21 L242.4 729.46 L242.9 731.28 L243.4 733.10 L243.9 732.83 L244.4 732.57 L244.9 731.96 L245.4 731.36 L245.9 732.27 L246.4 733.18 L246.9 732.48 L247.4 731.77 L247.9 733.60 L248.4 733.70 L248.9 733.70 L249.4 732.85 L249.9 732.59 L250.4 732.32 L250.9 732.85 L251.4 733.38 L251.9 733.66 L252.4 733.70 L252.9 733.70 L253.4 733.70 L253.9 733.44 L254.4 732.87" fill="none" stroke="#0a0a0a" stroke-width="1.4" stroke-dasharray="3.8 1.8" stroke-linejoin="round"/>
<path d="M372.0 199.87 L372.5 200.80 L373.0 200.91 L373.5 200.99 L374.0 200.62 L374.5 200.17 L375.0 200.20 L375.5 200.22 L376.0 200.64 L376.5 201.05 L377.0 201.58 L377.5 202.10 L378.0 202.35 L378.5 202.60 L379.0 202.56 L379.5 202.51 L380.0 201.46 L380.5 200.40 L381.0 202.40 L381.5 203.40 L382.0 202.81 L382.5 201.21 L383.0 201.93 L383.5 202.64 L384.0 202.98 L384.5 203.31 L385.0 202.52 L385.5 201.72 L386.0 202.28 L386.5 202.84 L387.0 201.59 L387.5 200.34 L388.0 201.19 L388.5 202.05 L389.0 201.80 L389.5 201.54 L390.0 199.21 L390.5 196.89 L391.0 199.12 L391.5 201.35 L392.0 200.49 L392.5 199.64 L393.0 201.51 L393.5 203.37 L394.0 200.94 L394.5 198.51 L395.0 199.38 L395.5 200.25 L396.0 201.09 L396.5 201.93 L397.0 201.84 L397.5 201.75 L398.0 203.40 L398.5 203.40 L399.0 203.40 L399.5 203.40 L400.0 203.40 L400.5 202.41 L401.0 201.80 L401.5 201.20 L402.0 203.14 L402.5 203.40 L403.0 203.40 L403.5 202.55 L404.0 201.29 L404.5 200.03 L405.0 201.36 L405.5 202.69 L406.0 201.35 L406.5 200.01 L407.0 201.89 L407.5 203.40 L408.0 203.23 L408.5 202.70 L409.0 201.71 L409.5 200.71 L410.0 201.05 L410.5 201.39 L411.0 200.38 L411.5 199.36 L412.0 201.87 L412.5 203.40 L413.0 203.32 L413.5 202.27 L414.0 202.65 L414.5 203.02 L415.0 203.40 L415.5 203.40 L416.0 202.74 L416.5 201.63 L417.0 201.53 L417.5 201.42 L418.0 201.48 L418.5 201.53 L419.0 202.04 L419.5 202.55 L420.0 201.81 L420.5 201.07 L421.0 201.38 L421.5 201.69 L422.0 202.10 L422.5 202.51 L423.0 202.42 L423.5 202.34 L424.0 201.87 L424.5 201.41 L425.0 201.07 L425.5 200.73 L426.0 201.07 L426.5 201.41 L427.0 202.20 L427.5 202.99 L428.0 203.40 L428.5 203.40 L429.0 203.40 L429.5 203.40 L430.0 202.72 L430.5 201.80 L431.0 202.40 L431.5 203.00 L432.0 202.84 L432.5 202.67 L433.0 202.43 L433.5 202.18 L434.0 201.67 L434.5 201.15 L435.0 202.44 L435.5 203.40 L436.0 203.21 L436.5 202.69 L437.0 202.35 L437.5 202.00 L438.0 203.40 L438.5 203.40 L439.0 203.40 L439.5 203.40 L440.0 200.53 L440.5 196.46 L441.0 199.42 L441.5 202.37 L442.0 202.77 L442.5 203.17 L443.0 203.40 L443.5 203.40 L444.0 202.14 L444.5 200.63 L445.0 201.70 L445.5 202.78 L446.0 202.64 L446.5 202.50 L447.0 200.51 L447.5 198.52 L448.0 200.88 L448.5 203.24 L449.0 202.38 L449.5 201.51 L450.0 201.83 L450.5 202.14 L451.0 201.53 L451.5 200.92 L452.0 200.01 L452.5 199.11 L453.0 200.98 L453.5 202.85 L454.0 202.32 L454.5 201.78 L455.0 201.43 L455.5 201.08 L456.0 199.84 L456.5 198.60 L457.0 200.56 L457.5 202.53 L458.0 202.48 L458.5 202.43 L459.0 202.15 L459.5 201.87 L460.0 202.70 L460.5 203.40 L461.0 202.63 L461.5 201.75 L462.0 200.11 L462.5 198.48 L463.0 201.36 L463.5 203.40 L464.0 202.67 L464.5 201.09 L465.0 201.67 L465.5 202.24 L466.0 202.41 L466.5 202.58 L467.0 201.89 L467.5 201.20 L468.0 200.79 L468.5 200.38 L469.0 200.65 L469.5 200.92 L470.0 200.15 L470.5 199.39 L471.0 200.79 L471.5 202.19 L472.0 202.14 L472.5 202.09 L473.0 202.60 L473.5 203.11 L474.0 202.70 L474.5 202.28 L475.0 202.35 L475.5 202.42 L476.0 202.44 L476.5 202.46 L477.0 200.69 L477.5 198.92 L478.0 200.23 L478.5 201.54 L479.0 200.87 L479.5 200.19 L480.0 199.76 L480.5 199.33 L481.0 200.86 L481.5 202.39 L482.0 201.26 L482.5 200.12 L483.0 201.18 L483.5 202.23 L484.0 201.81 L484.5 201.38 L485.0 201.81 L485.5 202.25 L486.0 202.00 L486.5 201.75 L487.0 201.87 L487.5 201.98 L488.0 201.24 L488.5 200.49 L489.0 200.77 L489.5 201.05 L490.0 201.62 L490.5 202.19 L491.0 203.18 L491.5 203.40 L492.0 203.23 L492.5 202.30 L493.0 202.63 L493.5 202.96 L494.0 203.40 L494.5 203.40 L495.0 203.02 L495.5 201.38 L496.0 201.58 L496.5 201.78 L497.0 200.70 L497.5 199.61 L498.0 200.67 L498.5 201.74 L499.0 202.75 L499.5 203.40 L500.0 200.37 L500.5 196.96 L501.0 199.34 L501.5 201.71 L502.0 201.83 L502.5 201.94 L503.0 202.21 L503.5 202.47 L504.0 201.64 L504.5 200.80 L505.0 200.59 L505.5 200.37 L506.0 201.66 L506.5 202.94 L507.0 201.89 L507.5 200.84 L508.0 199.65" fill="none" stroke="#0a0a0a" stroke-width="1.4" stroke-linejoin="round"/>
<path d="M363.4 200.24 L363.9 200.50 L364.4 200.45 L364.9 200.35 L365.4 200.36 L365.9 200.36 L366.4 201.40 L366.9 202.54 L367.4 201.27 L367.9 200.01 L368.4 200.88 L368.9 201.74 L369.4 201.99 L369.9 202.23 L370.4 201.95 L370.9 201.67 L371.4 200.34 L371.9 199.01 L372.4 199.88 L372.9 200.75 L373.4 201.52 L373.9 202.28 L374.4 203.04 L374.9 203.40 L375.4 202.44 L375.9 201.07 L376.4 201.51 L376.9 201.93 L377.4 201.95 L377.9 201.97 L378.4 201.60 L378.9 201.23 L379.4 202.15 L379.9 203.07 L380.4 202.50 L380.9 201.92 L381.4 202.89 L381.9 203.40 L382.4 203.04 L382.9 202.22 L383.4 201.92 L383.9 201.61 L384.4 200.36 L384.9 199.10 L385.4 200.03 L385.9 200.95 L386.4 202.02 L386.9 203.08 L387.4 201.12 L387.9 199.16 L388.4 201.64 L388.9 203.40 L389.4 203.23 L389.9 202.33 L390.4 202.60 L390.9 202.86 L391.4 202.86 L391.9 202.86 L392.4 201.83 L392.9 200.81 L393.4 201.95 L393.9 203.10 L394.4 202.84 L394.9 202.58 L395.4 201.29 L395.9 199.99 L396.4 201.06 L396.9 202.13 L397.4 202.47 L397.9 202.80 L398.4 202.78 L398.9 202.76 L399.4 202.84 L399.9 202.92 L400.4 202.87 L400.9 202.83 L401.4 203.25 L401.9 203.40 L402.4 202.90 L402.9 202.12 L403.4 202.00 L403.9 201.87 L404.4 201.01 L404.9 200.16 L405.4 201.43 L405.9 202.71 L406.4 202.15 L406.9 201.60 L407.4 201.25 L407.9 200.90 L408.4 200.92 L408.9 200.93 L409.4 202.31 L409.9 203.40 L410.4 203.07 L410.9 202.45 L411.4 203.09 L411.9 203.40 L412.4 202.38 L412.9 201.02 L413.4 201.66 L413.9 202.30 L414.4 203.18 L414.9 203.40 L415.4 203.40 L415.9 203.40 L416.4 203.40 L416.9 203.40 L417.4 201.58 L417.9 198.52 L418.4 200.04 L418.9 201.56 L419.4 202.08 L419.9 202.61 L420.4 201.31 L420.9 200.01 L421.4 201.34 L421.9 202.68 L422.4 201.92 L422.9 201.16 L423.4 201.30 L423.9 201.45 L424.4 201.15 L424.9 200.86 L425.4 202.13 L425.9 203.40 L426.4 203.06 L426.9 202.72 L427.4 201.67 L427.9 200.62 L428.4 200.43 L428.9 200.23 L429.4 201.79 L429.9 203.35 L430.4 203.34 L430.9 203.32 L431.4 202.62 L431.9 201.91 L432.4 203.08 L432.9 203.40 L433.4 203.35 L433.9 202.45 L434.4 201.03 L434.9 199.61 L435.4 201.35 L435.9 203.09 L436.4 202.39 L436.9 201.70 L437.4 201.43 L437.9 201.17 L438.4 202.23 L438.9 203.29 L439.4 202.63 L439.9 201.97 L440.4 200.22 L440.9 198.47 L441.4 201.03 L441.9 203.40 L442.4 203.04 L442.9 202.49 L443.4 201.69 L443.9 200.89 L444.4 201.98 L444.9 203.06 L445.4 202.52 L445.9 201.99 L446.4 202.13 L446.9 202.26 L447.4 202.08 L447.9 201.89 L448.4 202.88 L448.9 203.40 L449.4 203.09 L449.9 202.32 L450.4 203.35 L450.9 203.40 L451.4 203.40 L451.9 203.31 L452.4 202.74 L452.9 202.18 L453.4 201.68 L453.9 201.18 L454.4 202.63 L454.9 203.40 L455.4 203.24 L455.9 202.40 L456.4 202.01 L456.9 201.63 L457.4 202.19 L457.9 202.74 L458.4 202.57 L458.9 202.41 L459.4 201.64 L459.9 200.87 L460.4 203.04 L460.9 203.40 L461.4 203.12 L461.9 201.04 L462.4 202.31 L462.9 203.40 L463.4 203.07 L463.9 202.55 L464.4 202.47 L464.9 202.39 L465.4 202.33 L465.9 202.27 L466.4 201.62 L466.9 200.98 L467.4 200.73 L467.9 200.48 L468.4 200.53 L468.9 200.57 L469.4 202.16 L469.9 203.40 L470.4 202.93 L470.9 202.12 L471.4 203.11 L471.9 203.40 L472.4 202.87 L472.9 201.64 L473.4 201.91 L473.9 202.18 L474.4 201.43 L474.9 200.67 L475.4 201.42 L475.9 202.16 L476.4 201.55 L476.9 200.93 L477.4 200.06 L477.9 199.18 L478.4 201.21 L478.9 203.24 L479.4 202.40 L479.9 201.55 L480.4 201.61 L480.9 201.67 L481.4 202.53 L481.9 203.39 L482.4 202.92 L482.9 202.46 L483.4 202.47 L483.9 202.48 L484.4 200.67 L484.9 198.86 L485.4 200.26 L485.9 201.65 L486.4 201.78 L486.9 201.92 L487.4 201.63 L487.9 201.35 L488.4 202.25 L488.9 203.14 L489.4 201.58 L489.9 200.02 L490.4 201.12 L490.9 202.21 L491.4 202.20 L491.9 202.19 L492.4 202.87 L492.9 203.40 L493.4 202.44 L493.9 201.32 L494.4 201.79 L494.9 202.26 L495.4 201.87 L495.9 201.48 L496.4 201.80 L496.9 202.12 L497.4 202.33 L497.9 202.53 L498.4 202.13 L498.9 201.73 L499.4 201.99 L499.9 202.24 L500.4 202.33 L500.9 202.43 L501.4 203.05 L501.9 203.40 L502.4 202.25 L502.9 200.81 L503.4 201.90 L503.9 202.99 L504.4 201.90 L504.9 200.81 L505.4 201.09 L505.9 201.37 L506.4 201.23 L506.9 201.10 L507.4 202.16 L507.9 203.22 L508.4 202.26" fill="none" stroke="#0a0a0a" stroke-width="1.4" stroke-dasharray="3.8 1.8" stroke-linejoin="round"/>
<path d="M441.9 374.49 L442.4 375.33 L442.9 376.26 L443.4 376.05 L443.9 375.81 L444.4 377.51 L444.9 378.60 L445.4 377.88 L445.9 376.27 L446.4 375.72 L446.9 375.17 L447.4 376.23 L447.9 377.29 L448.4 376.70 L448.9 376.10 L449.4 376.91 L449.9 377.72 L450.4 374.61 L450.9 371.49 L451.4 374.86 L451.9 378.22 L452.4 378.29 L452.9 378.36 L453.4 377.47 L453.9 376.58 L454.4 376.18 L454.9 375.78 L455.4 376.53 L455.9 377.28 L456.4 377.98 L456.9 378.60 L457.4 377.51 L457.9 376.34 L458.4 376.63 L458.9 376.91 L459.4 377.82 L459.9 378.60 L460.4 378.37 L460.9 378.00 L461.4 377.53 L461.9 377.05 L462.4 377.37 L462.9 377.69 L463.4 377.59 L463.9 377.49 L464.4 377.10 L464.9 376.71 L465.4 375.34 L465.9 373.96 L466.4 373.85 L466.9 373.74 L467.4 374.34 L467.9 374.93 L468.4 376.72 L468.9 378.50 L469.4 378.37 L469.9 378.24 L470.4 376.07 L470.9 373.90 L471.4 376.75 L471.9 378.60 L472.4 378.60 L472.9 378.60 L473.4 377.75 L473.9 376.29 L474.4 376.83 L474.9 377.37 L475.4 375.01 L475.9 372.65 L476.4 374.49 L476.9 376.33 L477.4 377.58 L477.9 378.60 L478.4 378.60 L478.9 378.60 L479.4 377.69 L479.9 376.56 L480.4 376.92 L480.9 377.28 L481.4 377.66 L481.9 378.04 L482.4 377.56 L482.9 377.09 L483.4 377.16 L483.9 377.22 L484.4 376.85 L484.9 376.48 L485.4 377.24 L485.9 378.00 L486.4 376.75 L486.9 375.51 L487.4 377.33 L487.9 378.60 L488.4 376.84 L488.9 374.52 L489.4 375.99 L489.9 377.45 L490.4 378.24 L490.9 378.60 L491.4 378.36 L491.9 377.69 L492.4 377.10 L492.9 376.51 L493.4 376.74 L493.9 376.97 L494.4 376.43 L494.9 375.89 L495.4 377.56 L495.9 378.60 L496.4 378.60 L496.9 378.13 L497.4 377.24 L497.9 376.35 L498.4 376.77 L498.9 377.18 L499.4 377.02 L499.9 376.87 L500.4 377.49 L500.9 378.11 L501.4 376.62 L501.9 375.14 L502.4 376.32 L502.9 377.51 L503.4 377.98 L503.9 378.45 L504.4 378.10 L504.9 377.75 L505.4 377.14 L505.9 376.53 L506.4 377.76 L506.9 378.60 L507.4 377.58 L507.9 376.16 L508.4 377.79" fill="none" stroke="#0a0a0a" stroke-width="1.4" stroke-linejoin="round"/>
<path d="M377.8 377.36 L378.3 376.53 L378.8 375.66 L379.3 376.18 L379.8 376.69 L380.3 376.91 L380.8 377.10 L381.3 376.75 L381.8 376.40 L382.3 377.77 L382.8 378.60 L383.3 378.60 L383.8 378.60 L384.3 378.60 L384.8 378.60 L385.3 377.85 L385.8 377.00 L386.3 376.33 L386.8 375.66 L387.3 376.95 L387.8 378.23 L388.3 377.40 L388.8 376.57 L389.3 376.96 L389.8 377.35 L390.3 377.88 L390.8 378.40 L391.3 377.77 L391.8 377.14 L392.3 377.34 L392.8 377.55 L393.3 377.38 L393.8 377.21 L394.3 377.04 L394.8 376.86 L395.3 377.65 L395.8 378.45 L396.3 377.94 L396.8 377.42 L397.3 378.26 L397.8 378.60 L398.3 378.25 L398.8 377.40 L399.3 377.78 L399.8 378.16 L400.3 377.99 L400.8 377.82 L401.3 376.93 L401.8 376.05 L402.3 377.40 L402.8 378.60 L403.3 378.37 L403.8 377.97 L404.3 378.13 L404.8 378.30 L405.3 378.60 L405.8 378.60 L406.3 378.14 L406.8 376.81 L407.3 377.53 L407.8 378.25 L408.3 377.94 L408.8 377.63 L409.3 378.35 L409.8 378.60 L410.3 378.27 L410.8 377.47 L411.3 377.73 L411.8 377.99 L412.3 377.71 L412.8 377.43 L413.3 377.64 L413.8 377.84 L414.3 377.86 L414.8 377.87 L415.3 377.75 L415.8 377.62 L416.3 376.93 L416.8 376.25 L417.3 376.77 L417.8 377.29 L418.3 377.37 L418.8 377.45 L419.3 377.01 L419.8 376.57 L420.3 376.93 L420.8 377.29 L421.3 378.03 L421.8 378.60 L422.3 377.86 L422.8 376.94 L423.3 377.31 L423.8 377.67 L424.3 377.23 L424.8 376.80 L425.3 377.46 L425.8 378.13 L426.3 378.57 L426.8 378.60 L427.3 378.60 L427.8 378.46 L428.3 378.14 L428.8 377.81 L429.3 378.32 L429.8 378.60 L430.3 378.27 L430.8 377.72 L431.3 378.19 L431.8 378.60 L432.3 376.72 L432.8 374.79 L433.3 375.88 L433.8 376.97 L434.3 378.60 L434.8 378.60 L435.3 378.60 L435.8 377.83 L436.3 378.26 L436.8 378.60 L437.3 378.14 L437.8 377.59 L438.3 377.91 L438.8 378.22 L439.3 376.95 L439.8 375.68 L440.3 376.23 L440.8 376.77 L441.3 377.13 L441.8 377.48 L442.3 378.33 L442.8 378.60 L443.3 378.60 L443.8 378.26 L444.3 377.38 L444.8 376.49 L445.3 377.08 L445.8 377.67 L446.3 377.97 L446.8 378.27 L447.3 377.45 L447.8 376.63 L448.3 377.50 L448.8 378.36 L449.3 378.60 L449.8 378.60 L450.3 378.60 L450.8 376.67 L451.3 377.18 L451.8 377.70 L452.3 377.37 L452.8 377.03 L453.3 377.57 L453.8 378.11 L454.3 376.68 L454.8 375.25 L455.3 377.91 L455.8 378.60 L456.3 378.60 L456.8 377.27 L457.3 377.67 L457.8 378.07 L458.3 377.68 L458.8 377.29 L459.3 376.76 L459.8 376.22 L460.3 376.61 L460.8 377.00 L461.3 377.34 L461.8 377.68 L462.3 378.06 L462.8 378.45 L463.3 378.60 L463.8 378.60 L464.3 377.55 L464.8 375.69 L465.3 376.21 L465.8 376.74 L466.3 377.65 L466.8 378.57 L467.3 377.66 L467.8 376.76 L468.3 376.53 L468.8 376.30 L469.3 376.39 L469.8 376.49 L470.3 377.10 L470.8 377.71 L471.3 376.56 L471.8 375.41 L472.3 376.07 L472.8 376.73 L473.3 377.25 L473.8 377.77 L474.3 377.63 L474.8 377.50 L475.3 377.48 L475.8 377.47 L476.3 377.82 L476.8 378.17 L477.3 377.71 L477.8 377.25 L478.3 377.57 L478.8 377.90 L479.3 378.09 L479.8 378.28 L480.3 378.39 L480.8 378.50 L481.3 378.60 L481.8 378.60 L482.3 377.78 L482.8 376.24 L483.3 377.24 L483.8 378.25 L484.3 377.42 L484.8 376.60 L485.3 377.37 L485.8 378.15 L486.3 377.19 L486.8 376.22 L487.3 377.14 L487.8 378.06 L488.3 377.29 L488.8 376.52 L489.3 375.99 L489.8 375.46 L490.3 376.22 L490.8 376.99 L491.3 377.46 L491.8 377.92 L492.3 376.78 L492.8 375.63 L493.3 376.75 L493.8 377.88 L494.3 378.10 L494.8 378.33 L495.3 378.01 L495.8 377.70 L496.3 377.08 L496.8 376.45 L497.3 377.71 L497.8 378.60 L498.3 377.85 L498.8 376.74 L499.3 375.73 L499.8 374.73 L500.3 374.94 L500.8 375.15 L501.3 375.34 L501.8 375.52 L502.3 376.27 L502.8 377.01 L503.3 376.53 L503.8 376.04 L504.3 377.34 L504.8 378.60 L505.3 378.57 L505.8 378.51 L506.3 378.58 L506.8 378.60 L507.3 378.60 L507.8 378.60 L508.3 378.44" fill="none" stroke="#0a0a0a" stroke-width="1.4" stroke-dasharray="3.8 1.8" stroke-linejoin="round"/>
<path d="M387.9 551.70 L388.4 552.83 L388.9 551.68 L389.4 550.48 L389.9 552.20 L390.4 553.96 L390.9 552.23 L391.4 550.44 L391.9 551.70 L392.4 552.95 L392.9 552.80 L393.4 552.65 L393.9 552.28 L394.4 551.92 L394.9 554.02 L395.4 554.80 L395.9 553.37 L396.4 550.61 L396.9 553.21 L397.4 554.80 L397.9 554.80 L398.4 554.30 L398.9 554.80 L399.4 554.80 L399.9 554.56 L400.4 553.51 L400.9 553.02 L401.4 552.53 L401.9 552.94 L402.4 553.34 L402.9 554.43 L403.4 554.80 L403.9 553.52 L404.4 551.51 L404.9 552.26 L405.4 553.01 L405.9 553.94 L406.4 554.80 L406.9 554.31 L407.4 553.76 L407.9 551.59 L408.4 549.42 L408.9 552.15 L409.4 554.80 L409.9 554.72 L410.4 554.56 L410.9 554.80 L411.4 554.80 L411.9 554.80 L412.4 554.80 L412.9 553.77 L413.4 552.45 L413.9 552.90 L414.4 553.35 L414.9 553.24 L415.4 553.13 L415.9 553.04 L416.4 552.95 L416.9 553.23 L417.4 553.51 L417.9 553.21 L418.4 552.92 L418.9 554.52 L419.4 554.80 L419.9 554.80 L420.4 554.80 L420.9 554.43 L421.4 553.70 L421.9 553.67 L422.4 553.64 L422.9 554.80 L423.4 554.80 L423.9 554.78 L424.4 553.03 L424.9 554.11 L425.4 554.80 L425.9 553.72 L426.4 552.27 L426.9 553.10 L427.4 553.93 L427.9 554.80 L428.4 554.80 L428.9 554.80 L429.4 554.80 L429.9 554.21 L430.4 553.13 L430.9 553.44 L431.4 553.75 L431.9 554.01 L432.4 554.26 L432.9 553.18 L433.4 552.09 L433.9 551.67 L434.4 551.25 L434.9 552.79 L435.4 554.34 L435.9 553.36 L436.4 552.39 L436.9 552.79 L437.4 553.20 L437.9 554.80 L438.4 554.80 L438.9 554.12 L439.4 551.77 L439.9 552.51 L440.4 553.67 L440.9 553.72 L441.4 553.78 L441.9 553.97 L442.4 554.17 L442.9 553.89 L443.4 553.61 L443.9 554.07 L444.4 554.53 L444.9 554.02 L445.4 553.51 L445.9 553.88 L446.4 554.26 L446.9 554.36 L447.4 554.46 L447.9 554.30 L448.4 554.14 L448.9 554.16 L449.4 554.19 L449.9 554.37 L450.4 554.55 L450.9 554.22 L451.4 553.89 L451.9 554.19 L452.4 554.48 L452.9 554.25 L453.4 554.01 L453.9 554.20 L454.4 554.40 L454.9 554.06 L455.4 553.72 L455.9 553.68 L456.4 553.63 L456.9 553.71 L457.4 553.79 L457.9 553.79 L458.4 553.79 L458.9 554.19 L459.4 554.59 L459.9 554.19 L460.4 553.79 L460.9 554.14 L461.4 554.49 L461.9 554.17 L462.4 553.85 L462.9 553.97 L463.4 554.10 L463.9 553.96 L464.4 553.83 L464.9 553.86 L465.4 553.90 L465.9 553.89 L466.4 553.89 L466.9 553.70 L467.4 553.51 L467.9 553.80 L468.4 554.08 L468.9 553.91 L469.4 553.74 L469.9 554.17 L470.4 554.59 L470.9 554.32 L471.4 554.05 L471.9 554.18 L472.4 554.31 L472.9 554.22 L473.4 554.13 L473.9 553.99 L474.4 553.85 L474.9 553.85 L475.4 553.85 L475.9 553.80 L476.4 553.76 L476.9 553.91 L477.4 554.07 L477.9 553.79 L478.4 553.50 L478.9 553.41 L479.4 553.31 L479.9 553.84 L480.4 554.38 L480.9 554.33 L481.4 554.29 L481.9 554.17 L482.4 554.05 L482.9 553.85 L483.4 553.65 L483.9 553.94 L484.4 554.22 L484.9 554.55 L485.4 554.80 L485.9 554.33 L486.4 553.77 L486.9 553.83 L487.4 553.89 L487.9 553.08 L488.4 552.27 L488.9 553.37 L489.4 554.48 L489.9 553.86 L490.4 553.25 L490.9 553.45 L491.4 553.65 L491.9 553.20 L492.4 552.74 L492.9 553.28 L493.4 553.81 L493.9 554.10 L494.4 554.40 L494.9 554.11 L495.4 553.82 L495.9 553.51 L496.4 553.20 L496.9 553.67 L497.4 554.13 L497.9 554.07 L498.4 554.01 L498.9 553.91 L499.4 553.81 L499.9 553.93 L500.4 554.04 L500.9 554.12 L501.4 554.19 L501.9 554.18 L502.4 554.17 L502.9 554.14 L503.4 554.11 L503.9 554.07 L504.4 554.02 L504.9 553.58 L505.4 553.13 L505.9 553.45 L506.4 553.77 L506.9 553.69 L507.4 553.62 L507.9 553.87 L508.4 554.11" fill="none" stroke="#0a0a0a" stroke-width="1.4" stroke-dasharray="3.8 1.8" stroke-linejoin="round"/>
<path d="M411.8 727.31 L412.3 727.76 L412.8 728.20 L413.3 727.87 L413.8 727.52 L414.3 727.43 L414.8 727.33 L415.3 726.84 L415.8 726.35 L416.3 726.22 L416.8 726.07 L417.3 727.19 L417.8 728.29 L418.3 728.81 L418.8 729.31 L419.3 729.22 L419.8 729.11 L420.3 729.23 L420.8 729.34 L421.3 728.93 L421.8 728.52 L422.3 728.64 L422.8 728.77 L423.3 728.71 L423.8 728.65 L424.3 727.82 L424.8 726.98 L425.3 728.02 L425.8 729.07 L426.3 729.07 L426.8 729.06 L427.3 728.60 L427.8 728.14 L428.3 728.25 L428.8 728.36 L429.3 728.94 L429.8 729.52 L430.3 729.41 L430.8 729.29 L431.3 729.80 L431.8 729.80 L432.3 729.80 L432.8 729.65 L433.3 729.29 L433.8 728.93 L434.3 729.03 L434.8 729.14 L435.3 729.19 L435.8 729.23 L436.3 729.24 L436.8 729.24 L437.3 729.32 L437.8 729.40 L438.3 728.68 L438.8 727.97 L439.3 728.83 L439.8 729.69 L440.3 729.45 L440.8 729.21 L441.3 729.31 L441.8 729.41 L442.3 729.15 L442.8 728.90 L443.3 727.66 L443.8 726.41 L444.3 728.62 L444.8 729.80 L445.3 729.80 L445.8 729.71 L446.3 729.44 L446.8 729.17 L447.3 729.28 L447.8 729.38 L448.3 729.10 L448.8 728.83 L449.3 729.28 L449.8 729.72 L450.3 729.32 L450.8 729.21 L451.3 729.35 L451.8 729.49 L452.3 729.27 L452.8 729.05 L453.3 729.34 L453.8 729.62 L454.3 729.78 L454.8 729.80 L455.3 729.46 L455.8 728.98 L456.3 729.04 L456.8 729.10 L457.3 729.35 L457.8 729.59 L458.3 729.38 L458.8 729.16 L459.3 728.93 L459.8 728.70 L460.3 728.83 L460.8 728.96 L461.3 729.17 L461.8 729.39 L462.3 729.42 L462.8 729.45 L463.3 729.39 L463.8 729.33 L464.3 729.28 L464.8 729.22 L465.3 729.28 L465.8 729.33 L466.3 729.38 L466.8 729.42 L467.3 729.31 L467.8 729.19 L468.3 729.36 L468.8 729.52 L469.3 729.38 L469.8 729.23 L470.3 728.90 L470.8 728.57 L471.3 728.71 L471.8 728.85 L472.3 729.21 L472.8 729.56 L473.3 729.18 L473.8 728.80 L474.3 729.07 L474.8 729.33 L475.3 729.31 L475.8 729.29 L476.3 729.06 L476.8 728.84 L477.3 729.07 L477.8 729.31 L478.3 729.45 L478.8 729.59 L479.3 729.51 L479.8 729.42 L480.3 729.52 L480.8 729.61 L481.3 729.50 L481.8 729.39 L482.3 729.63 L482.8 729.80 L483.3 729.80 L483.8 729.76 L484.3 729.60 L484.8 729.45 L485.3 729.53 L485.8 729.62 L486.3 729.39 L486.8 729.16 L487.3 729.11 L487.8 729.06 L488.3 729.19 L488.8 729.32 L489.3 729.31 L489.8 729.30 L490.3 729.31 L490.8 729.31 L491.3 729.36 L491.8 729.40 L492.3 729.11 L492.8 728.82 L493.3 729.07 L493.8 729.32 L494.3 729.37 L494.8 729.42 L495.3 729.40 L495.8 729.39 L496.3 729.37 L496.8 729.35 L497.3 729.44 L497.8 729.52 L498.3 729.65 L498.8 729.78 L499.3 729.76 L499.8 729.74 L500.3 729.20 L500.8 728.66 L501.3 729.04 L501.8 729.42 L502.3 729.41 L502.8 729.41 L503.3 729.40 L503.8 729.38 L504.3 729.33 L504.8 729.27 L505.3 729.34 L505.8 729.41 L506.3 729.51 L506.8 729.60 L507.3 729.51 L507.8 729.41 L508.3 729.45" fill="none" stroke="#0a0a0a" stroke-width="1.4" stroke-dasharray="3.8 1.8" stroke-linejoin="round"/>
<path d="M104.0 195.77 L104.5 196.79 L105.0 197.79 L105.5 197.78 L106.0 197.76 L106.5 197.86 L107.0 197.93 L107.5 198.77 L108.0 199.60 L108.5 199.48 L109.0 199.33 L109.5 198.95 L110.0 198.55 L110.5 198.68 L111.0 198.80 L111.5 199.92 L112.0 201.03 L112.5 200.83 L113.0 200.62" fill="none" stroke="#a9a9a9" stroke-width="2.2" stroke-linejoin="round"/>
<path d="M113.0 200.62 L113.5 201.06 L114.0 201.47 L114.5 201.77 L115.0 202.05 L115.5 201.64 L116.0 201.26 L116.5 201.89 L117.0 202.50 L117.5 202.22 L118.0 201.93 L118.5 202.28 L119.0 202.62 L119.5 202.66 L120.0 202.70 L120.5 202.68 L121.0 202.66 L121.5 203.01 L122.0 203.36 L122.5 202.74 L123.0 202.12 L123.5 202.07 L124.0 202.02 L124.5 202.20 L125.0 202.38 L125.5 201.93 L126.0 201.48 L126.5 201.29 L127.0 201.10 L127.5 201.30 L128.0 201.50 L128.5 201.88 L129.0 202.26 L129.5 202.29 L130.0 202.32 L130.5 201.72 L131.0 201.12 L131.5 201.02 L132.0 200.92 L132.5 201.39 L133.0 201.86 L133.5 201.90 L134.0 201.94 L134.5 201.98 L135.0 202.03 L135.5 202.24 L136.0 202.46 L136.5 202.63 L137.0 202.80 L137.5 202.50 L138.0 202.20 L138.5 202.32 L139.0 202.44 L139.5 201.17 L140.0 199.90 L140.5 200.64 L141.0 201.37 L141.5 201.79 L142.0 202.22 L142.5 202.10 L143.0 201.99 L143.5 202.25 L144.0 202.52 L144.5 202.48 L145.0 202.44 L145.5 202.50 L146.0 202.56 L146.5 202.57 L147.0 202.58 L147.5 201.81 L148.0 201.04 L148.5 201.35 L149.0 201.66 L149.5 202.01 L150.0 202.37 L150.5 202.42 L151.0 202.46 L151.5 201.83 L152.0 201.20 L152.5 202.00 L153.0 202.81 L153.5 202.33 L154.0 201.85 L154.5 201.91 L155.0 201.97 L155.5 202.13 L156.0 202.28 L156.5 202.42 L157.0 202.57 L157.5 201.91 L158.0 201.26 L158.5 201.10 L159.0 200.93 L159.5 201.55 L160.0 202.17 L160.5 201.92 L161.0 201.66 L161.5 201.44 L162.0 201.22 L162.5 201.02 L163.0 200.82 L163.5 201.28 L164.0 201.74 L164.5 201.99 L165.0 202.24 L165.5 201.98 L166.0 201.71 L166.5 201.83 L167.0 201.94 L167.5 202.00 L168.0 202.05 L168.5 202.11 L169.0 202.17 L169.5 202.46 L170.0 202.76 L170.5 201.46 L171.0 200.16 L171.5 201.07 L172.0 201.99 L172.5 202.23 L173.0 202.47 L173.5 202.93 L174.0 203.40 L174.5 202.67 L175.0 201.95 L175.5 202.20 L176.0 202.46 L176.5 200.99 L177.0 199.52 L177.5 201.24 L178.0 202.96 L178.5 202.76 L179.0 202.55 L179.5 202.76 L180.0 202.96 L180.5 202.54 L181.0 202.13 L181.5 201.83 L182.0 201.54 L182.5 202.12 L183.0 202.70 L183.5 202.66 L184.0 202.62 L184.5 202.13 L185.0 201.65 L185.5 201.47 L186.0 201.28 L186.5 201.86 L187.0 202.44 L187.5 202.25 L188.0 202.07 L188.5 202.90 L189.0 203.40 L189.5 202.77 L190.0 201.80 L190.5 201.83 L191.0 201.86 L191.5 201.98 L192.0 202.11 L192.5 201.64 L193.0 201.18 L193.5 201.41 L194.0 201.64 L194.5 202.40 L195.0 203.16 L195.5 202.63 L196.0 202.10 L196.5 201.96 L197.0 201.81 L197.5 201.62 L198.0 201.42 L198.5 201.97 L199.0 202.53 L199.5 202.55 L200.0 202.58 L200.5 202.46 L201.0 202.34 L201.5 201.75 L202.0 201.16 L202.5 201.76 L203.0 202.37 L203.5 202.39 L204.0 202.41 L204.5 202.10 L205.0 201.78 L205.5 202.17 L206.0 202.56 L206.5 201.74 L207.0 200.92 L207.5 201.17 L208.0 201.41 L208.5 201.71 L209.0 202.01 L209.5 202.07 L210.0 202.12 L210.5 201.81 L211.0 201.49 L211.5 201.94 L212.0 202.39 L212.5 202.61 L213.0 202.82 L213.5 202.64 L214.0 202.46 L214.5 202.39 L215.0 202.33 L215.5 202.51 L216.0 202.69 L216.5 202.03 L217.0 201.36 L217.5 201.44 L218.0 201.51 L218.5 201.79 L219.0 202.07 L219.5 202.52 L220.0 202.97 L220.5 202.24 L221.0 201.51 L221.5 201.87 L222.0 202.23 L222.5 202.10 L223.0 201.96 L223.5 201.81 L224.0 201.66 L224.5 201.62 L225.0 201.59 L225.5 201.92 L226.0 202.26 L226.5 202.32 L227.0 202.39 L227.5 202.38 L228.0 202.38 L228.5 201.86 L229.0 201.33 L229.5 201.68 L230.0 202.02 L230.5 202.21 L231.0 202.41 L231.5 202.59 L232.0 202.77 L232.5 202.68 L233.0 202.60 L233.5 202.65 L234.0 202.70 L234.5 202.78 L235.0 202.86 L235.5 202.77 L236.0 202.69 L236.5 202.20 L237.0 201.71 L237.5 201.97 L238.0 202.23 L238.5 202.00 L239.0 201.77 L239.5 201.27 L240.0 200.77 L240.5 200.98 L241.0 201.19 L241.5 202.32 L242.0 203.40 L242.5 202.49 L243.0 201.53 L243.5 201.19 L244.0 200.85 L244.5 201.35 L245.0 201.85 L245.5 202.48 L246.0 203.11 L246.5 202.64 L247.0 202.17 L247.5 202.31 L248.0 202.44 L248.5 202.24 L249.0 202.04 L249.5 201.56 L250.0 201.08 L250.5 202.02 L251.0 202.96 L251.5 202.82 L252.0 202.68 L252.5 202.41 L253.0 202.15 L253.5 202.44 L254.0 202.73 L254.5 202.79" fill="none" stroke="#a9a9a9" stroke-width="1.4" stroke-linejoin="round"/>
<path d="M103.0 195.70 L103.5 196.08 L104.0 197.00 L104.5 197.89 L105.0 198.02 L105.5 198.14 L106.0 198.53 L106.5 198.92 L107.0 199.14 L107.5 199.34 L108.0 198.72 L108.5 198.08 L109.0 198.60 L109.5 199.10 L110.0 200.36 L110.5 201.61 L111.0 201.25 L111.5 200.87" fill="none" stroke="#a9a9a9" stroke-width="2.0" stroke-dasharray="3.8 1.8" stroke-linejoin="round"/>
<path d="M111.5 200.87 L112.0 201.26 L112.5 201.62 L113.0 201.46 L113.5 201.29 L114.0 201.73 L114.5 202.12 L115.0 202.01 L115.5 201.91 L116.0 201.98 L116.5 202.05 L117.0 201.90 L117.5 201.75 L118.0 202.14 L118.5 202.54 L119.0 201.94 L119.5 201.35 L120.0 201.37 L120.5 201.38 L121.0 201.31 L121.5 201.24 L122.0 201.61 L122.5 201.98 L123.0 201.62 L123.5 201.25 L124.0 201.25 L124.5 201.25 L125.0 201.67 L125.5 202.09 L126.0 202.23 L126.5 202.36 L127.0 202.19 L127.5 202.02 L128.0 201.05 L128.5 200.08 L129.0 200.61 L129.5 201.13 L130.0 201.10 L130.5 201.07 L131.0 201.04 L131.5 201.01 L132.0 201.25 L132.5 201.50 L133.0 201.91 L133.5 202.32 L134.0 201.95 L134.5 201.58 L135.0 201.46 L135.5 201.34 L136.0 201.77 L136.5 202.21 L137.0 202.03 L137.5 201.84 L138.0 201.87 L138.5 201.89 L139.0 201.65 L139.5 201.41 L140.0 201.62 L140.5 201.84 L141.0 201.97 L141.5 202.11 L142.0 201.41 L142.5 200.71 L143.0 200.81 L143.5 200.90 L144.0 201.72 L144.5 202.53 L145.0 202.46 L145.5 202.40 L146.0 202.00 L146.5 201.60 L147.0 201.45 L147.5 201.30 L148.0 201.55 L148.5 201.81 L149.0 201.51 L149.5 201.21 L150.0 201.47 L150.5 201.73 L151.0 202.34 L151.5 202.94 L152.0 201.76 L152.5 200.59 L153.0 201.63 L153.5 202.66 L154.0 202.25 L154.5 201.84 L155.0 202.02 L155.5 202.20 L156.0 202.51 L156.5 202.82 L157.0 202.01 L157.5 201.20 L158.0 201.50 L158.5 201.80 L159.0 201.26 L159.5 200.72 L160.0 201.46 L160.5 202.19 L161.0 202.58 L161.5 202.96 L162.0 202.71 L162.5 202.45 L163.0 201.80 L163.5 201.15 L164.0 201.52 L164.5 201.89 L165.0 201.32 L165.5 200.76 L166.0 201.14 L166.5 201.52 L167.0 202.40 L167.5 203.29 L168.0 202.37 L168.5 201.44 L169.0 201.84 L169.5 202.23 L170.0 201.95 L170.5 201.66 L171.0 202.14 L171.5 202.62 L172.0 202.47 L172.5 202.32 L173.0 202.25 L173.5 202.19 L174.0 202.13 L174.5 202.07 L175.0 202.44 L175.5 202.81 L176.0 202.19 L176.5 201.57 L177.0 201.64 L177.5 201.70 L178.0 200.66 L178.5 199.62 L179.0 201.29 L179.5 202.95 L180.0 202.46 L180.5 201.98 L181.0 201.35 L181.5 200.72 L182.0 201.31 L182.5 201.91 L183.0 202.79 L183.5 203.40 L184.0 202.89 L184.5 202.11 L185.0 202.40 L185.5 202.69 L186.0 202.57 L186.5 202.46 L187.0 202.32 L187.5 202.18 L188.0 201.98 L188.5 201.77 L189.0 201.88 L189.5 201.99 L190.0 201.99 L190.5 201.99 L191.0 201.43 L191.5 200.88 L192.0 202.32 L192.5 203.40 L193.0 202.98 L193.5 202.20 L194.0 202.24 L194.5 202.28 L195.0 202.19 L195.5 202.09 L196.0 201.02 L196.5 199.95 L197.0 201.37 L197.5 202.79 L198.0 202.06 L198.5 201.32 L199.0 201.92 L199.5 202.52 L200.0 201.96 L200.5 201.40 L201.0 201.93 L201.5 202.46 L202.0 202.95 L202.5 203.40 L203.0 202.75 L203.5 202.07 L204.0 202.40 L204.5 202.73 L205.0 202.21 L205.5 201.69 L206.0 202.30 L206.5 202.91 L207.0 202.90 L207.5 202.89 L208.0 202.59 L208.5 202.29 L209.0 202.11 L209.5 201.92 L210.0 202.18 L210.5 202.43 L211.0 201.49 L211.5 200.54 L212.0 201.22 L212.5 201.89 L213.0 202.22 L213.5 202.54 L214.0 202.53 L214.5 202.53 L215.0 202.13 L215.5 201.74 L216.0 201.97 L216.5 202.21 L217.0 203.12 L217.5 203.40 L218.0 203.40 L218.5 202.77 L219.0 202.55 L219.5 202.34 L220.0 203.06 L220.5 203.40 L221.0 202.90 L221.5 202.01 L222.0 201.40 L222.5 200.80 L223.0 200.97 L223.5 201.14 L224.0 201.26 L224.5 201.37 L225.0 201.02 L225.5 200.68 L226.0 201.77 L226.5 202.87 L227.0 201.93 L227.5 200.99 L228.0 201.97 L228.5 202.96 L229.0 201.76 L229.5 200.56 L230.0 201.50 L230.5 202.44 L231.0 202.51 L231.5 202.57 L232.0 202.56 L232.5 202.55 L233.0 202.42 L233.5 202.30 L234.0 202.35 L234.5 202.40 L235.0 202.00 L235.5 201.61 L236.0 202.04 L236.5 202.46 L237.0 202.67 L237.5 202.88 L238.0 202.87 L238.5 202.85 L239.0 203.36 L239.5 203.40 L240.0 203.40 L240.5 202.95 L241.0 202.84 L241.5 202.73 L242.0 203.01 L242.5 203.30 L243.0 202.87 L243.5 202.44 L244.0 201.98 L244.5 201.52 L245.0 201.24 L245.5 200.96 L246.0 201.72 L246.5 202.49 L247.0 202.56 L247.5 202.64 L248.0 202.72 L248.5 202.81 L249.0 202.45 L249.5 202.10 L250.0 202.30 L250.5 202.51 L251.0 202.46 L251.5 202.42 L252.0 202.46 L252.5 202.50 L253.0 202.07 L253.5 201.63 L254.0 201.84 L254.5 202.04" fill="none" stroke="#a9a9a9" stroke-width="1.4" stroke-dasharray="3.8 1.8" stroke-linejoin="round"/>
<path d="M112.5 373.51 L113.0 374.12 L113.5 374.71 L114.0 375.03 L114.5 375.34 L115.0 374.14 L115.5 372.94 L116.0 374.14 L116.5 375.34 L117.0 375.46 L117.5 375.57 L118.0 374.64 L118.5 373.71 L119.0 375.19 L119.5 376.68 L120.0 375.93 L120.5 375.17 L121.0 375.89 L121.5 376.61 L122.0 377.10 L122.5 377.58 L123.0 375.72 L123.5 373.85" fill="none" stroke="#a9a9a9" stroke-width="2.2" stroke-linejoin="round"/>
<path d="M123.5 373.85 L124.0 375.37 L124.5 376.80 L125.0 377.98 L125.5 379.09 L126.0 377.40 L126.5 375.82 L127.0 376.96 L127.5 378.01 L128.0 377.49 L128.5 376.96 L129.0 377.49 L129.5 378.03 L130.0 377.92 L130.5 377.81 L131.0 377.92 L131.5 378.03 L132.0 378.07 L132.5 378.10 L133.0 377.45 L133.5 376.81 L134.0 377.65 L134.5 378.49 L135.0 378.92 L135.5 379.36 L136.0 378.99 L136.5 378.62 L137.0 379.00 L137.5 379.39 L138.0 379.13 L138.5 378.87 L139.0 378.90 L139.5 378.94 L140.0 378.87 L140.5 378.80 L141.0 378.54 L141.5 378.28 L142.0 378.50 L142.5 378.72 L143.0 378.69 L143.5 378.66 L144.0 378.24 L144.5 377.82 L145.0 378.38 L145.5 378.95 L146.0 378.90 L146.5 378.85 L147.0 378.79 L147.5 378.74 L148.0 378.46 L148.5 378.19 L149.0 377.57 L149.5 376.95 L150.0 378.19 L150.5 379.42 L151.0 378.97 L151.5 378.51 L152.0 377.88 L152.5 377.25 L153.0 378.11 L153.5 378.96 L154.0 378.56 L154.5 378.16 L155.0 378.58 L155.5 379.00 L156.0 378.77 L156.5 378.53 L157.0 378.91 L157.5 379.28 L158.0 379.02 L158.5 378.75 L159.0 378.77 L159.5 378.79 L160.0 378.75 L160.5 378.72 L161.0 379.04 L161.5 379.37 L162.0 378.62 L162.5 377.86 L163.0 378.61 L163.5 379.35 L164.0 379.21 L164.5 379.07 L165.0 378.70 L165.5 378.33 L166.0 378.50 L166.5 378.67 L167.0 378.54 L167.5 378.41 L168.0 378.56 L168.5 378.72 L169.0 378.99 L169.5 379.25 L170.0 378.77 L170.5 378.29 L171.0 378.72 L171.5 379.15 L172.0 379.21 L172.5 379.27 L173.0 379.18 L173.5 379.10 L174.0 379.38 L174.5 379.66 L175.0 378.17 L175.5 376.69 L176.0 377.92 L176.5 379.15 L177.0 379.69 L177.5 380.10 L178.0 379.49 L178.5 378.76 L179.0 378.71 L179.5 378.66 L180.0 378.71 L180.5 378.76 L181.0 378.93 L181.5 379.11 L182.0 378.75 L182.5 378.39 L183.0 378.51 L183.5 378.62 L184.0 377.16 L184.5 375.70 L185.0 376.92 L185.5 378.15 L186.0 378.16 L186.5 378.17 L187.0 378.13 L187.5 378.09 L188.0 378.31 L188.5 378.52 L189.0 378.87 L189.5 379.21 L190.0 378.89 L190.5 378.57 L191.0 377.75 L191.5 376.93 L192.0 377.56 L192.5 378.19 L193.0 378.55 L193.5 378.91 L194.0 378.44 L194.5 377.97 L195.0 378.44 L195.5 378.91 L196.0 377.71 L196.5 376.50 L197.0 377.47 L197.5 378.44 L198.0 378.41 L198.5 378.38 L199.0 378.85 L199.5 379.32 L200.0 378.83 L200.5 378.34 L201.0 378.49 L201.5 378.64 L202.0 378.80 L202.5 378.95 L203.0 379.20 L203.5 379.46 L204.0 379.51 L204.5 379.55 L205.0 378.89 L205.5 378.23 L206.0 378.09 L206.5 377.95 L207.0 378.49 L207.5 379.03 L208.0 379.30 L208.5 379.57 L209.0 379.53 L209.5 379.49 L210.0 379.01 L210.5 378.54 L211.0 378.71 L211.5 378.88 L212.0 378.79 L212.5 378.69 L213.0 378.89 L213.5 379.09 L214.0 379.47 L214.5 379.86 L215.0 378.68 L215.5 377.51 L216.0 377.99 L216.5 378.47 L217.0 379.43 L217.5 380.10 L218.0 379.34 L218.5 378.28 L219.0 378.58 L219.5 378.88 L220.0 378.87 L220.5 378.87 L221.0 378.49 L221.5 378.12 L222.0 378.74 L222.5 379.36 L223.0 379.44 L223.5 379.52 L224.0 379.18 L224.5 378.83 L225.0 378.88 L225.5 378.92 L226.0 378.17 L226.5 377.42 L227.0 377.62 L227.5 377.83 L228.0 378.43 L228.5 379.03 L229.0 378.16 L229.5 377.28 L230.0 377.80 L230.5 378.32 L231.0 378.72 L231.5 379.13 L232.0 379.29 L232.5 379.45 L233.0 378.91 L233.5 378.37 L234.0 378.98 L234.5 379.58 L235.0 379.77 L235.5 379.95 L236.0 379.48 L236.5 379.00 L237.0 378.38 L237.5 377.76 L238.0 378.39 L238.5 379.02 L239.0 378.84 L239.5 378.66 L240.0 378.52 L240.5 378.39 L241.0 378.84 L241.5 379.29 L242.0 379.31 L242.5 379.33 L243.0 378.97 L243.5 378.60 L244.0 378.63 L244.5 378.66 L245.0 378.59 L245.5 378.53 L246.0 378.23 L246.5 377.92 L247.0 378.12 L247.5 378.32 L248.0 378.16 L248.5 378.00 L249.0 378.72 L249.5 379.44 L250.0 379.07 L250.5 378.69 L251.0 378.82 L251.5 378.94 L252.0 379.46 L252.5 379.97 L253.0 379.29 L253.5 378.61 L254.0 378.93 L254.5 379.25" fill="none" stroke="#a9a9a9" stroke-width="1.4" stroke-linejoin="round"/>
<path d="M102.3 372.19 L102.8 373.24 L103.3 374.25 L103.8 374.72 L104.3 375.14 L104.8 376.27 L105.3 377.35 L105.8 377.44 L106.3 377.48 L106.8 376.84 L107.3 376.13 L107.8 376.60 L108.3 377.06 L108.8 377.67 L109.3 378.27 L109.8 377.50" fill="none" stroke="#a9a9a9" stroke-width="2.0" stroke-dasharray="3.8 1.8" stroke-linejoin="round"/>
<path d="M109.8 377.50 L110.3 376.74 L110.8 376.16 L111.3 375.61 L111.8 376.97 L112.3 378.25 L112.8 377.75 L113.3 377.29 L113.8 377.48 L114.3 377.66 L114.8 377.59 L115.3 377.50 L115.8 378.15 L116.3 378.80 L116.8 378.59 L117.3 378.37 L117.8 378.84 L118.3 379.32 L118.8 379.09 L119.3 378.86 L119.8 379.00 L120.3 379.14 L120.8 378.95 L121.3 378.75 L121.8 379.01 L122.3 379.26 L122.8 379.01 L123.3 378.75 L123.8 378.49 L124.3 378.23 L124.8 378.88 L125.3 379.53 L125.8 379.47 L126.3 379.41 L126.8 379.80 L127.3 380.10 L127.8 379.47 L128.3 378.75 L128.8 378.62 L129.3 378.49 L129.8 377.59 L130.3 376.69 L130.8 376.15 L131.3 375.62 L131.8 376.84 L132.3 378.06 L132.8 378.60 L133.3 379.14 L133.8 378.73 L134.3 378.32 L134.8 377.81 L135.3 377.30 L135.8 378.26 L136.3 379.22 L136.8 378.87 L137.3 378.51 L137.8 378.58 L138.3 378.65 L138.8 378.01 L139.3 377.38 L139.8 378.08 L140.3 378.79 L140.8 378.97 L141.3 379.16 L141.8 378.50 L142.3 377.84 L142.8 378.29 L143.3 378.74 L143.8 378.66 L144.3 378.58 L144.8 379.07 L145.3 379.57 L145.8 378.92 L146.3 378.27 L146.8 379.07 L147.3 379.87 L147.8 379.57 L148.3 379.26 L148.8 378.86 L149.3 378.45 L149.8 378.47 L150.3 378.48 L150.8 378.93 L151.3 379.39 L151.8 379.25 L152.3 379.12 L152.8 378.57 L153.3 378.01 L153.8 378.38 L154.3 378.75 L154.8 378.70 L155.3 378.64 L155.8 378.49 L156.3 378.33 L156.8 378.39 L157.3 378.46 L157.8 378.25 L158.3 378.05 L158.8 378.35 L159.3 378.64 L159.8 378.88 L160.3 379.12 L160.8 378.79 L161.3 378.46 L161.8 378.22 L162.3 377.99 L162.8 378.77 L163.3 379.56 L163.8 379.13 L164.3 378.71 L164.8 378.83 L165.3 378.95 L165.8 378.87 L166.3 378.79 L166.8 378.70 L167.3 378.61 L167.8 378.96 L168.3 379.30 L168.8 378.96 L169.3 378.62 L169.8 378.79 L170.3 378.96 L170.8 378.52 L171.3 378.08 L171.8 378.02 L172.3 377.96 L172.8 378.34 L173.3 378.71 L173.8 379.40 L174.3 380.10 L174.8 379.58 L175.3 379.06 L175.8 379.59 L176.3 380.10 L176.8 379.67 L177.3 379.23 L177.8 379.23 L178.3 379.23 L178.8 378.92 L179.3 378.61 L179.8 378.78 L180.3 378.95 L180.8 379.49 L181.3 380.03 L181.8 379.85 L182.3 379.67 L182.8 379.13 L183.3 378.59 L183.8 377.96 L184.3 377.33 L184.8 378.55 L185.3 379.77 L185.8 379.21 L186.3 378.66 L186.8 379.09 L187.3 379.52 L187.8 378.97 L188.3 378.42 L188.8 378.89 L189.3 379.35 L189.8 379.62 L190.3 379.89 L190.8 379.68 L191.3 379.47 L191.8 379.30 L192.3 379.12 L192.8 379.09 L193.3 379.06 L193.8 378.99 L194.3 378.92 L194.8 378.94 L195.3 378.96 L195.8 379.32 L196.3 379.68 L196.8 379.68 L197.3 379.67 L197.8 378.94 L198.3 378.20 L198.8 378.21 L199.3 378.22 L199.8 378.45 L200.3 378.67 L200.8 378.91 L201.3 379.16 L201.8 379.09 L202.3 379.01 L202.8 378.59 L203.3 378.17 L203.8 378.78 L204.3 379.38 L204.8 379.96 L205.3 380.10 L205.8 378.49 L206.3 376.43 L206.8 376.93 L207.3 377.44 L207.8 378.70 L208.3 379.96 L208.8 379.35 L209.3 378.74 L209.8 378.74 L210.3 378.74 L210.8 378.92 L211.3 379.09 L211.8 379.21 L212.3 379.33 L212.8 379.04 L213.3 378.74 L213.8 379.16 L214.3 379.58 L214.8 378.71 L215.3 377.85 L215.8 378.62 L216.3 379.39 L216.8 379.30 L217.3 379.21 L217.8 379.06 L218.3 378.90 L218.8 379.06 L219.3 379.23 L219.8 379.12 L220.3 379.02 L220.8 379.41 L221.3 379.79 L221.8 379.25 L222.3 378.72 L222.8 378.84 L223.3 378.97 L223.8 378.57 L224.3 378.16 L224.8 378.24 L225.3 378.32 L225.8 378.59 L226.3 378.85 L226.8 378.46 L227.3 378.06 L227.8 378.28 L228.3 378.49 L228.8 378.34 L229.3 378.20 L229.8 378.45 L230.3 378.70 L230.8 378.09 L231.3 377.48 L231.8 378.52 L232.3 379.56 L232.8 378.70 L233.3 377.83 L233.8 378.36 L234.3 378.88 L234.8 379.20 L235.3 379.52 L235.8 379.67 L236.3 379.83 L236.8 379.83 L237.3 379.84 L237.8 378.99 L238.3 378.14 L238.8 377.88 L239.3 377.62 L239.8 378.48 L240.3 379.34 L240.8 379.45 L241.3 379.56 L241.8 379.37 L242.3 379.17 L242.8 379.16 L243.3 379.16 L243.8 379.15 L244.3 379.14 L244.8 378.84 L245.3 378.54 L245.8 378.82 L246.3 379.10 L246.8 379.29 L247.3 379.49 L247.8 379.14 L248.3 378.80 L248.8 379.25 L249.3 379.70 L249.8 378.50 L250.3 377.29 L250.8 378.05 L251.3 378.80 L251.8 379.41 L252.3 380.02 L252.8 379.77 L253.3 379.52 L253.8 379.70 L254.3 379.87" fill="none" stroke="#a9a9a9" stroke-width="1.4" stroke-dasharray="3.8 1.8" stroke-linejoin="round"/>
<path d="M169.3 548.38 L169.8 548.71 L170.3 549.72 L170.8 550.73 L171.3 550.15 L171.8 549.57 L172.3 549.54 L172.8 549.51 L173.3 549.47 L173.8 549.43 L174.3 550.34 L174.8 551.25 L175.3 551.36 L175.8 551.48 L176.3 550.84 L176.8 550.21 L177.3 549.16 L177.8 548.10 L178.3 548.57 L178.8 549.03 L179.3 550.72 L179.8 552.41 L180.3 552.17 L180.8 551.92 L181.3 551.39 L181.8 550.86 L182.3 551.53 L182.8 552.20 L183.3 552.45 L183.8 552.69 L184.3 551.58 L184.8 550.46 L185.3 551.50 L185.8 552.53 L186.3 552.54 L186.8 552.54 L187.3 552.41 L187.8 552.28 L188.3 552.28 L188.8 552.27 L189.3 552.06 L189.8 551.85 L190.3 551.05 L190.8 550.24 L191.3 551.01 L191.8 551.77 L192.3 552.64 L192.8 553.50 L193.3 553.57 L193.8 553.64 L194.3 553.53 L194.8 553.42 L195.3 553.61 L195.8 553.81 L196.3 553.72 L196.8 553.64" fill="none" stroke="#a9a9a9" stroke-width="2.2" stroke-linejoin="round"/>
<path d="M196.8 553.64 L197.3 553.40 L197.8 553.18 L198.3 553.58 L198.8 553.97 L199.3 553.86 L199.8 553.76 L200.3 552.84 L200.8 551.92 L201.3 552.42 L201.8 552.92 L202.3 553.43 L202.8 553.94 L203.3 554.26 L203.8 554.58 L204.3 554.37 L204.8 554.16 L205.3 554.02 L205.8 553.89 L206.3 553.66 L206.8 553.44 L207.3 553.74 L207.8 554.04 L208.3 554.68 L208.8 555.32 L209.3 554.72 L209.8 554.12 L210.3 554.63 L210.8 555.15 L211.3 554.03 L211.8 552.91 L212.3 554.05 L212.8 555.19 L213.3 554.73 L213.8 554.26 L214.3 554.55 L214.8 554.83 L215.3 554.30 L215.8 553.77 L216.3 554.39 L216.8 555.01 L217.3 554.56 L217.8 554.10 L218.3 554.29 L218.8 554.48 L219.3 554.33 L219.8 554.18 L220.3 554.41 L220.8 554.64 L221.3 554.60 L221.8 554.55 L222.3 554.58 L222.8 554.61 L223.3 554.87 L223.8 555.14 L224.3 554.65 L224.8 554.16 L225.3 554.24 L225.8 554.33 L226.3 554.40 L226.8 554.47 L227.3 554.58 L227.8 554.69 L228.3 553.77 L228.8 552.86 L229.3 554.01 L229.8 555.16 L230.3 554.69 L230.8 554.22 L231.3 554.21 L231.8 554.20 L232.3 554.30 L232.8 554.39 L233.3 555.00 L233.8 555.61 L234.3 554.94 L234.8 554.27 L235.3 554.50 L235.8 554.74 L236.3 554.88 L236.8 555.01 L237.3 555.51 L237.8 556.01 L238.3 555.51 L238.8 555.02 L239.3 555.44 L239.8 555.86 L240.3 555.21 L240.8 554.55 L241.3 555.22 L241.8 555.89 L242.3 555.23 L242.8 554.58 L243.3 553.79 L243.8 552.99 L244.3 553.40 L244.8 553.81 L245.3 554.47 L245.8 555.12 L246.3 555.00 L246.8 554.87 L247.3 555.01 L247.8 555.15 L248.3 554.39 L248.8 553.62 L249.3 554.46 L249.8 555.30 L250.3 554.74 L250.8 554.17 L251.3 554.53 L251.8 554.89 L252.3 554.66 L252.8 554.43 L253.3 554.61 L253.8 554.78 L254.3 554.38" fill="none" stroke="#a9a9a9" stroke-width="1.4" stroke-linejoin="round"/>
<path d="M112.1 548.48 L112.6 548.36 L113.1 549.47 L113.6 550.56 L114.1 550.12 L114.6 549.67 L115.1 550.59 L115.6 551.50 L116.1 550.52 L116.6 549.52 L117.1 550.60 L117.6 551.68 L118.1 551.83 L118.6 551.98 L119.1 551.96 L119.6 551.95 L120.1 552.22 L120.6 552.49 L121.1 553.02 L121.6 553.55 L122.1 553.32 L122.6 553.08 L123.1 553.69" fill="none" stroke="#a9a9a9" stroke-width="2.0" stroke-dasharray="3.8 1.8" stroke-linejoin="round"/>
<path d="M123.1 553.69 L123.6 554.28 L124.1 554.29 L124.6 554.29 L125.1 554.90 L125.6 555.46 L126.1 554.65 L126.6 553.88 L127.1 553.96 L127.6 554.02 L128.1 554.19 L128.6 554.36 L129.1 554.18 L129.6 553.99 L130.1 554.63 L130.6 555.28 L131.1 554.24 L131.6 553.20 L132.1 554.01 L132.6 554.82 L133.1 555.09 L133.6 555.37 L134.1 555.01 L134.6 554.65 L135.1 554.32 L135.6 554.00 L136.1 554.21 L136.6 554.41 L137.1 554.90 L137.6 555.40 L138.1 555.12 L138.6 554.84 L139.1 555.00 L139.6 555.16 L140.1 554.98 L140.6 554.80 L141.1 554.87 L141.6 554.93 L142.1 554.79 L142.6 554.66 L143.1 554.41 L143.6 554.17 L144.1 554.64 L144.6 555.12 L145.1 554.14 L145.6 553.16 L146.1 553.39 L146.6 553.62 L147.1 554.22 L147.6 554.82 L148.1 555.12 L148.6 555.41 L149.1 555.71 L149.6 556.00 L150.1 555.02 L150.6 554.04 L151.1 554.48 L151.6 554.93 L152.1 555.06 L152.6 555.20 L153.1 555.27 L153.6 555.33 L154.1 554.90 L154.6 554.46 L155.1 554.83 L155.6 555.20 L156.1 554.92 L156.6 554.65 L157.1 554.77 L157.6 554.88 L158.1 554.74 L158.6 554.60 L159.1 554.85 L159.6 555.11 L160.1 554.56 L160.6 554.01 L161.1 554.56 L161.6 555.12 L162.1 555.01 L162.6 554.90 L163.1 555.20 L163.6 555.50 L164.1 555.74 L164.6 555.97 L165.1 555.45 L165.6 554.92 L166.1 554.73 L166.6 554.53 L167.1 554.69 L167.6 554.84 L168.1 554.76 L168.6 554.67 L169.1 553.47 L169.6 552.27 L170.1 553.64 L170.6 555.02 L171.1 554.86 L171.6 554.71 L172.1 555.13 L172.6 555.55 L173.1 555.25 L173.6 554.94 L174.1 555.26 L174.6 555.58 L175.1 555.54 L175.6 555.49 L176.1 555.11 L176.6 554.74 L177.1 554.79 L177.6 554.84 L178.1 554.79 L178.6 554.73 L179.1 554.76 L179.6 554.78 L180.1 555.16 L180.6 555.55 L181.1 555.15 L181.6 554.75 L182.1 554.78 L182.6 554.81 L183.1 554.70 L183.6 554.59 L184.1 554.86 L184.6 555.13 L185.1 555.00 L185.6 554.86 L186.1 554.93 L186.6 554.99 L187.1 554.78 L187.6 554.57 L188.1 554.90 L188.6 555.23 L189.1 554.92 L189.6 554.62 L190.1 554.66 L190.6 554.69 L191.1 553.47 L191.6 552.25 L192.1 553.18 L192.6 554.11 L193.1 554.66 L193.6 555.21 L194.1 555.39 L194.6 555.56 L195.1 554.83 L195.6 554.11 L196.1 554.66 L196.6 555.21 L197.1 555.22 L197.6 555.22 L198.1 556.08 L198.6 556.20 L199.1 555.73 L199.6 554.52 L200.1 554.62 L200.6 554.72 L201.1 554.61 L201.6 554.49 L202.1 554.76 L202.6 555.02 L203.1 555.39 L203.6 555.76 L204.1 555.36 L204.6 554.97 L205.1 555.51 L205.6 556.04 L206.1 556.20 L206.6 556.20 L207.1 555.63 L207.6 554.86 L208.1 555.17 L208.6 555.47 L209.1 555.25 L209.6 555.03 L210.1 554.90 L210.6 554.77 L211.1 554.82 L211.6 554.87 L212.1 554.94 L212.6 555.01 L213.1 554.70 L213.6 554.39 L214.1 554.75 L214.6 555.11 L215.1 555.37 L215.6 555.64 L216.1 555.12 L216.6 554.60 L217.1 554.06 L217.6 553.52 L218.1 554.07 L218.6 554.62 L219.1 555.01 L219.6 555.40 L220.1 555.25 L220.6 555.11 L221.1 555.42 L221.6 555.73 L222.1 555.36 L222.6 554.99 L223.1 554.64 L223.6 554.30 L224.1 554.91 L224.6 555.52 L225.1 555.26 L225.6 555.00 L226.1 555.03 L226.6 555.06 L227.1 554.39 L227.6 553.73 L228.1 553.67 L228.6 553.61 L229.1 553.80 L229.6 554.00 L230.1 554.60 L230.6 555.20 L231.1 554.97 L231.6 554.74 L232.1 553.87 L232.6 553.01 L233.1 553.94 L233.6 554.87 L234.1 555.41 L234.6 555.96 L235.1 555.77 L235.6 555.57 L236.1 555.11 L236.6 554.66 L237.1 555.01 L237.6 555.36 L238.1 555.58 L238.6 555.80 L239.1 555.44 L239.6 555.08 L240.1 555.26 L240.6 555.44 L241.1 555.10 L241.6 554.77 L242.1 555.61 L242.6 556.20 L243.1 556.20 L243.6 556.11 L244.1 555.22 L244.6 554.33 L245.1 554.83 L245.6 555.33 L246.1 555.27 L246.6 555.21 L247.1 554.92 L247.6 554.63 L248.1 555.21 L248.6 555.78 L249.1 555.87 L249.6 555.96 L250.1 555.81 L250.6 555.67 L251.1 555.52 L251.6 555.37 L252.1 555.31 L252.6 555.26 L253.1 554.23 L253.6 553.19 L254.1 554.00" fill="none" stroke="#a9a9a9" stroke-width="1.4" stroke-dasharray="3.8 1.8" stroke-linejoin="round"/>
<path d="M124.5 726.37 L125.0 727.05 L125.5 727.21 L126.0 727.35 L126.5 727.23 L127.0 727.10 L127.5 728.18 L128.0 729.25 L128.5 728.66 L129.0 728.05 L129.5 728.05 L130.0 728.04 L130.5 728.97 L131.0 729.88 L131.5 729.50 L132.0 729.10 L132.5 729.35 L133.0 729.59 L133.5 729.94 L134.0 730.29 L134.5 730.58 L135.0 730.88 L135.5 731.11 L136.0 731.33" fill="none" stroke="#a9a9a9" stroke-width="2.0" stroke-dasharray="3.8 1.8" stroke-linejoin="round"/>
<path d="M136.0 731.33 L136.5 731.70 L137.0 732.05 L137.5 731.95 L138.0 731.86 L138.5 731.86 L139.0 731.87 L139.5 732.26 L140.0 732.65 L140.5 733.05 L141.0 733.44 L141.5 732.47 L142.0 731.50 L142.5 731.95 L143.0 732.40 L143.5 732.67 L144.0 732.93 L144.5 732.74 L145.0 732.55 L145.5 732.96 L146.0 733.37 L146.5 732.84 L147.0 732.32 L147.5 732.12 L148.0 731.92 L148.5 732.49 L149.0 733.06 L149.5 731.97 L150.0 730.88 L150.5 731.58 L151.0 732.27 L151.5 733.13 L152.0 733.70 L152.5 733.29 L153.0 732.59 L153.5 732.69 L154.0 732.80 L154.5 732.41 L155.0 732.02 L155.5 732.30 L156.0 732.58 L156.5 732.55 L157.0 732.52 L157.5 733.12 L158.0 733.70 L158.5 732.87 L159.0 732.01 L159.5 731.49 L160.0 730.97 L160.5 731.92 L161.0 732.88 L161.5 733.23 L162.0 733.57 L162.5 732.90 L163.0 732.24 L163.5 731.90 L164.0 731.56 L164.5 731.79 L165.0 732.02 L165.5 732.48 L166.0 732.93 L166.5 732.63 L167.0 732.34 L167.5 732.52 L168.0 732.71 L168.5 731.99 L169.0 731.28 L169.5 731.83 L170.0 732.38 L170.5 732.78 L171.0 733.18 L171.5 732.86 L172.0 732.55 L172.5 732.32 L173.0 732.10 L173.5 732.73 L174.0 733.35 L174.5 732.66 L175.0 731.98 L175.5 731.33 L176.0 730.69 L176.5 731.20 L177.0 731.71 L177.5 732.61 L178.0 733.51 L178.5 732.96 L179.0 732.42 L179.5 732.54 L180.0 732.65 L180.5 733.25 L181.0 733.70 L181.5 733.36 L182.0 732.87 L182.5 732.67 L183.0 732.47 L183.5 731.41 L184.0 730.35 L184.5 731.57 L185.0 732.80 L185.5 732.76 L186.0 732.73 L186.5 732.57 L187.0 732.41 L187.5 732.88 L188.0 733.34 L188.5 732.68 L189.0 732.02 L189.5 731.93 L190.0 731.85 L190.5 732.09 L191.0 732.33 L191.5 732.55 L192.0 732.77 L192.5 732.33 L193.0 731.89 L193.5 731.99 L194.0 732.09 L194.5 731.33 L195.0 730.57 L195.5 731.67 L196.0 732.76 L196.5 732.56 L197.0 732.36 L197.5 732.41 L198.0 732.45 L198.5 731.95 L199.0 731.46 L199.5 732.24 L200.0 733.02 L200.5 732.73 L201.0 732.43 L201.5 732.74 L202.0 733.06 L202.5 733.52 L203.0 733.70 L203.5 733.36 L204.0 732.75 L204.5 732.83 L205.0 732.91 L205.5 733.10 L206.0 733.29 L206.5 732.65 L207.0 732.00 L207.5 732.60 L208.0 733.19 L208.5 733.24 L209.0 733.29 L209.5 733.01 L210.0 732.72 L210.5 732.96 L211.0 733.20 L211.5 733.04 L212.0 732.89 L212.5 732.62 L213.0 732.35 L213.5 732.19 L214.0 732.02 L214.5 732.71 L215.0 733.40 L215.5 733.64 L216.0 733.70 L216.5 733.12 L217.0 732.35 L217.5 732.69 L218.0 733.04 L218.5 732.57 L219.0 732.09 L219.5 732.32 L220.0 732.54 L220.5 731.73 L221.0 730.91 L221.5 731.53 L222.0 732.14 L222.5 732.46 L223.0 732.79 L223.5 733.11 L224.0 733.43 L224.5 733.30 L225.0 733.17 L225.5 732.85 L226.0 732.53 L226.5 732.28 L227.0 732.03 L227.5 731.97 L228.0 731.91 L228.5 732.91 L229.0 733.70 L229.5 732.99 L230.0 732.06 L230.5 733.36 L231.0 733.70 L231.5 733.70 L232.0 732.74 L232.5 732.10 L233.0 731.46 L233.5 731.83 L234.0 732.21 L234.5 732.81 L235.0 733.41 L235.5 733.40 L236.0 733.39 L236.5 733.37 L237.0 733.34 L237.5 733.28 L238.0 733.22 L238.5 732.70 L239.0 732.18 L239.5 732.47 L240.0 732.77 L240.5 732.12 L241.0 731.47 L241.5 731.90 L242.0 732.33 L242.5 731.90 L243.0 731.46 L243.5 731.60 L244.0 731.73 L244.5 733.01 L245.0 733.70 L245.5 733.70 L246.0 733.62 L246.5 732.90 L247.0 732.17 L247.5 732.74 L248.0 733.30 L248.5 733.25 L249.0 733.20 L249.5 732.99 L250.0 732.78 L250.5 733.00 L251.0 733.22 L251.5 732.96 L252.0 732.71 L252.5 732.78 L253.0 732.85 L253.5 733.03 L254.0 733.20 L254.5 733.18" fill="none" stroke="#a9a9a9" stroke-width="1.4" stroke-dasharray="3.8 1.8" stroke-linejoin="round"/>
<path d="M360.0 195.73 L360.5 197.48 L361.0 196.88 L361.5 196.23 L362.0 195.10 L362.5 193.96 L363.0 196.43 L363.5 198.88 L364.0 198.83 L364.5 198.78 L365.0 199.08 L365.5 199.38 L366.0 197.53 L366.5 195.68 L367.0 197.25 L367.5 198.81 L368.0 198.94 L368.5 199.05 L369.0 199.77 L369.5 200.48 L370.0 199.67 L370.5 198.86 L371.0 199.16 L371.5 199.46 L372.0 199.66 L372.5 199.85 L373.0 198.50 L373.5 197.14 L374.0 198.59 L374.5 200.04 L375.0 199.88 L375.5 199.72 L376.0 201.31 L376.5 202.89 L377.0 201.76 L377.5 200.63 L378.0 200.62 L378.5 200.60 L379.0 200.42 L379.5 200.24 L380.0 200.97 L380.5 201.69 L381.0 202.12 L381.5 202.55 L382.0 201.31 L382.5 200.08 L383.0 200.52 L383.5 200.96 L384.0 200.94" fill="none" stroke="#a9a9a9" stroke-width="2.2" stroke-linejoin="round"/>
<path d="M384.0 200.94 L384.5 200.92 L385.0 200.84 L385.5 200.77 L386.0 199.60 L386.5 198.51 L387.0 200.22 L387.5 201.82 L388.0 202.00 L388.5 202.17 L389.0 202.04 L389.5 201.91 L390.0 201.63 L390.5 201.35 L391.0 201.68 L391.5 202.02 L392.0 202.35 L392.5 202.68 L393.0 202.50 L393.5 202.32 L394.0 201.37 L394.5 200.41 L395.0 201.15 L395.5 201.88 L396.0 202.29 L396.5 202.69 L397.0 202.64 L397.5 202.58 L398.0 202.09 L398.5 201.60 L399.0 201.78 L399.5 201.96 L400.0 201.75 L400.5 201.53 L401.0 201.87 L401.5 202.20 L402.0 202.09 L402.5 201.97 L403.0 201.13 L403.5 200.29 L404.0 201.19 L404.5 202.09 L405.0 201.87 L405.5 201.65 L406.0 202.09 L406.5 202.52 L407.0 201.88 L407.5 201.23 L408.0 201.68 L408.5 202.13 L409.0 201.22 L409.5 200.30 L410.0 200.82 L410.5 201.33 L411.0 202.02 L411.5 202.71 L412.0 202.33 L412.5 201.96 L413.0 202.17 L413.5 202.38 L414.0 201.89 L414.5 201.40 L415.0 201.18 L415.5 200.95 L416.0 201.13 L416.5 201.31 L417.0 201.74 L417.5 202.16 L418.0 202.01 L418.5 201.85 L419.0 201.66 L419.5 201.46 L420.0 202.58 L420.5 203.40 L421.0 202.43 L421.5 201.17 L422.0 201.36 L422.5 201.54 L423.0 201.93 L423.5 202.31 L424.0 202.08 L424.5 201.85 L425.0 201.82 L425.5 201.79 L426.0 201.88 L426.5 201.96 L427.0 202.10 L427.5 202.24 L428.0 202.13 L428.5 202.01 L429.0 202.10 L429.5 202.19 L430.0 201.48 L430.5 200.77 L431.0 201.29 L431.5 201.81 L432.0 202.30 L432.5 202.78 L433.0 202.73 L433.5 202.68 L434.0 201.95 L434.5 201.22 L435.0 201.84 L435.5 202.46 L436.0 202.38 L436.5 202.30 L437.0 201.78 L437.5 201.26 L438.0 201.82 L438.5 202.37 L439.0 202.50 L439.5 202.63 L440.0 202.44 L440.5 202.24 L441.0 202.95 L441.5 203.40 L442.0 202.73 L442.5 201.81 L443.0 202.14 L443.5 202.47 L444.0 202.56 L444.5 202.66 L445.0 202.66 L445.5 202.67 L446.0 202.29 L446.5 201.92 L447.0 202.31 L447.5 202.70 L448.0 202.62 L448.5 202.55 L449.0 203.35 L449.5 203.40 L450.0 203.40 L450.5 203.36 L451.0 202.36 L451.5 201.37 L452.0 201.64 L452.5 201.91 L453.0 201.74 L453.5 201.57 L454.0 202.05 L454.5 202.53 L455.0 203.07 L455.5 203.40 L456.0 202.23 L456.5 200.85 L457.0 202.02 L457.5 203.18 L458.0 202.20 L458.5 201.22 L459.0 201.53 L459.5 201.84 L460.0 202.43 L460.5 203.02 L461.0 202.21 L461.5 201.39 L462.0 202.24 L462.5 203.08 L463.0 202.71 L463.5 202.34 L464.0 202.74 L464.5 203.14 L465.0 202.29 L465.5 201.43 L466.0 202.13 L466.5 202.83 L467.0 202.92 L467.5 203.02 L468.0 201.08 L468.5 199.14 L469.0 201.39 L469.5 203.40 L470.0 202.56 L470.5 201.47 L471.0 202.77 L471.5 203.40 L472.0 203.40 L472.5 203.40 L473.0 202.85 L473.5 201.72 L474.0 202.71 L474.5 203.40 L475.0 203.18 L475.5 202.65 L476.0 201.40 L476.5 200.15 L477.0 201.41 L477.5 202.67 L478.0 201.83 L478.5 201.00 L479.0 201.68 L479.5 202.37 L480.0 202.27 L480.5 202.17 L481.0 202.50 L481.5 202.83 L482.0 201.73 L482.5 200.63 L483.0 201.50 L483.5 202.38 L484.0 202.36 L484.5 202.33 L485.0 202.09 L485.5 201.85 L486.0 202.35 L486.5 202.84 L487.0 202.84 L487.5 202.84 L488.0 202.52 L488.5 202.19 L489.0 202.41 L489.5 202.63 L490.0 202.85 L490.5 203.07 L491.0 202.12 L491.5 201.17 L492.0 202.04 L492.5 202.90 L493.0 202.53 L493.5 202.16 L494.0 202.29 L494.5 202.41 L495.0 201.67 L495.5 200.93 L496.0 201.44 L496.5 201.95 L497.0 202.45 L497.5 202.96 L498.0 202.84 L498.5 202.73 L499.0 202.44 L499.5 202.14 L500.0 201.62 L500.5 201.10 L501.0 201.89 L501.5 202.69 L502.0 202.75 L502.5 202.80 L503.0 203.39 L503.5 203.40 L504.0 202.92 L504.5 201.85 L505.0 202.20 L505.5 202.54 L506.0 202.37 L506.5 202.20 L507.0 201.24 L507.5 200.27 L508.0 201.05" fill="none" stroke="#a9a9a9" stroke-width="1.4" stroke-linejoin="round"/>
<path d="M353.4 195.61 L353.9 197.52 L354.4 197.29 L354.9 197.02 L355.4 197.49 L355.9 197.92 L356.4 199.38 L356.9 200.80 L357.4 200.30 L357.9 199.76 L358.4 199.86 L358.9 199.91" fill="none" stroke="#a9a9a9" stroke-width="2.0" stroke-dasharray="3.8 1.8" stroke-linejoin="round"/>
<path d="M358.9 199.91 L359.4 200.59 L359.9 201.20 L360.4 200.84 L360.9 200.50 L361.4 201.24 L361.9 201.94 L362.4 201.54 L362.9 201.14 L363.4 201.47 L363.9 201.80 L364.4 202.28 L364.9 202.76 L365.4 202.96 L365.9 203.17 L366.4 201.93 L366.9 200.68 L367.4 201.26 L367.9 201.83 L368.4 201.89 L368.9 201.95 L369.4 202.36 L369.9 202.77 L370.4 202.41 L370.9 202.04 L371.4 201.92 L371.9 201.79 L372.4 202.53 L372.9 203.28 L373.4 203.24 L373.9 203.20 L374.4 202.40 L374.9 201.60 L375.4 201.36 L375.9 201.12 L376.4 201.72 L376.9 202.32 L377.4 201.94 L377.9 201.56 L378.4 202.61 L378.9 203.40 L379.4 203.18 L379.9 202.72 L380.4 202.68 L380.9 202.64 L381.4 202.79 L381.9 202.95 L382.4 202.90 L382.9 202.86 L383.4 202.27 L383.9 201.68 L384.4 202.24 L384.9 202.80 L385.4 202.72 L385.9 202.63 L386.4 201.74 L386.9 200.86 L387.4 202.00 L387.9 203.15 L388.4 202.92 L388.9 202.69 L389.4 202.53 L389.9 202.37 L390.4 202.57 L390.9 202.76 L391.4 202.34 L391.9 201.93 L392.4 202.50 L392.9 203.08 L393.4 202.64 L393.9 202.20 L394.4 201.93 L394.9 201.66 L395.4 202.68 L395.9 203.40 L396.4 203.33 L396.9 202.95 L397.4 202.72 L397.9 202.49 L398.4 202.56 L398.9 202.62 L399.4 202.34 L399.9 202.06 L400.4 202.72 L400.9 203.37 L401.4 203.14 L401.9 202.91 L402.4 203.11 L402.9 203.31 L403.4 202.38 L403.9 201.44 L404.4 201.72 L404.9 202.00 L405.4 202.30 L405.9 202.60 L406.4 202.67 L406.9 202.74 L407.4 202.59 L407.9 202.44 L408.4 202.19 L408.9 201.95 L409.4 202.11 L409.9 202.28 L410.4 202.65 L410.9 203.01 L411.4 202.99 L411.9 202.97 L412.4 202.36 L412.9 201.75 L413.4 202.36 L413.9 202.98 L414.4 202.87 L414.9 202.76 L415.4 202.73 L415.9 202.70 L416.4 202.87 L416.9 203.05 L417.4 202.85 L417.9 202.65 L418.4 203.10 L418.9 203.40 L419.4 202.86 L419.9 202.17 L420.4 202.04 L420.9 201.90 L421.4 202.28 L421.9 202.66 L422.4 202.71 L422.9 202.77 L423.4 202.30 L423.9 201.83 L424.4 202.31 L424.9 202.79 L425.4 202.73 L425.9 202.67 L426.4 202.23 L426.9 201.79 L427.4 202.05 L427.9 202.30 L428.4 202.73 L428.9 203.16 L429.4 203.12 L429.9 203.08 L430.4 202.45 L430.9 201.82 L431.4 202.39 L431.9 202.96 L432.4 202.74 L432.9 202.53 L433.4 203.16 L433.9 203.40 L434.4 203.08 L434.9 202.37 L435.4 202.62 L435.9 202.88 L436.4 201.93 L436.9 200.98 L437.4 202.08 L437.9 203.18 L438.4 202.83 L438.9 202.47 L439.4 202.31 L439.9 202.15 L440.4 202.17 L440.9 202.18 L441.4 201.87 L441.9 201.55 L442.4 201.85 L442.9 202.14 L443.4 202.50 L443.9 202.86 L444.4 202.53 L444.9 202.20 L445.4 202.26 L445.9 202.32 L446.4 203.31 L446.9 203.40 L447.4 203.38 L447.9 202.46 L448.4 202.63 L448.9 202.79 L449.4 202.73 L449.9 202.67 L450.4 202.56 L450.9 202.45 L451.4 202.51 L451.9 202.57 L452.4 202.13 L452.9 201.68 L453.4 202.31 L453.9 202.94 L454.4 202.34 L454.9 201.74 L455.4 202.16 L455.9 202.58 L456.4 201.42 L456.9 200.26 L457.4 201.66 L457.9 203.07 L458.4 202.36 L458.9 201.65 L459.4 202.04 L459.9 202.44 L460.4 202.26 L460.9 202.07 L461.4 201.58 L461.9 201.10 L462.4 202.26 L462.9 203.40 L463.4 202.56 L463.9 201.69 L464.4 202.48 L464.9 203.27 L465.4 202.88 L465.9 202.49 L466.4 202.23 L466.9 201.96 L467.4 202.28 L467.9 202.61 L468.4 202.51 L468.9 202.41 L469.4 200.94 L469.9 199.47 L470.4 201.35 L470.9 203.22 L471.4 203.11 L471.9 203.00 L472.4 202.56 L472.9 202.12 L473.4 201.99 L473.9 201.87 L474.4 201.61 L474.9 201.34 L475.4 201.98 L475.9 202.62 L476.4 203.22 L476.9 203.40 L477.4 203.28 L477.9 202.75 L478.4 202.31 L478.9 201.88 L479.4 202.39 L479.9 202.89 L480.4 202.33 L480.9 201.76 L481.4 201.81 L481.9 201.87 L482.4 202.34 L482.9 202.81 L483.4 202.59 L483.9 202.37 L484.4 202.00 L484.9 201.63 L485.4 201.85 L485.9 202.07 L486.4 202.14 L486.9 202.21 L487.4 202.04 L487.9 201.87 L488.4 202.04 L488.9 202.20 L489.4 202.39 L489.9 202.58 L490.4 202.46 L490.9 202.34 L491.4 202.15 L491.9 201.97 L492.4 202.46 L492.9 202.95 L493.4 203.20 L493.9 203.40 L494.4 203.24 L494.9 203.03 L495.4 202.44 L495.9 201.84 L496.4 201.92 L496.9 202.01 L497.4 202.28 L497.9 202.56 L498.4 202.58 L498.9 202.61 L499.4 202.27 L499.9 201.93 L500.4 202.36 L500.9 202.79 L501.4 202.65 L501.9 202.51 L502.4 202.14 L502.9 201.76 L503.4 201.60 L503.9 201.44 L504.4 201.97 L504.9 202.50 L505.4 202.30 L505.9 202.10 L506.4 202.89 L506.9 203.40 L507.4 202.80 L507.9 201.93 L508.4 202.04" fill="none" stroke="#a9a9a9" stroke-width="1.4" stroke-dasharray="3.8 1.8" stroke-linejoin="round"/>
<path d="M400.5 371.56 L401.0 372.24 L401.5 372.92 L402.0 372.52 L402.5 372.10 L403.0 373.25 L403.5 374.39 L404.0 373.79 L404.5 373.19 L405.0 373.63 L405.5 374.07 L406.0 373.89 L406.5 373.71 L407.0 374.36 L407.5 375.00 L408.0 374.14 L408.5 373.27 L409.0 374.30 L409.5 375.33 L410.0 374.62 L410.5 373.91 L411.0 374.71 L411.5 375.52 L412.0 375.28 L412.5 375.04 L413.0 374.56 L413.5 374.09 L414.0 374.27 L414.5 374.45" fill="none" stroke="#a9a9a9" stroke-width="2.2" stroke-linejoin="round"/>
<path d="M414.5 374.45 L415.0 374.76 L415.5 375.07 L416.0 375.90 L416.5 376.69 L417.0 376.62 L417.5 376.56 L418.0 376.14 L418.5 375.71 L419.0 376.64 L419.5 377.56 L420.0 377.69 L420.5 377.82 L421.0 377.68 L421.5 377.53 L422.0 377.62 L422.5 377.70 L423.0 377.77 L423.5 377.84 L424.0 377.16 L424.5 376.48 L425.0 376.19 L425.5 375.89 L426.0 376.25 L426.5 376.61 L427.0 377.14 L427.5 377.67 L428.0 377.80 L428.5 377.92 L429.0 377.14 L429.5 376.36 L430.0 377.16 L430.5 377.97 L431.0 378.13 L431.5 378.29 L432.0 377.56 L432.5 376.83 L433.0 376.95 L433.5 377.07 L434.0 377.13 L434.5 377.20 L435.0 377.45 L435.5 377.71 L436.0 377.50 L436.5 377.29 L437.0 377.25 L437.5 377.21 L438.0 377.03 L438.5 376.85 L439.0 376.60 L439.5 376.35 L440.0 377.06 L440.5 377.77 L441.0 377.44 L441.5 377.11 L442.0 377.06 L442.5 377.00 L443.0 377.01 L443.5 377.01 L444.0 376.92 L444.5 376.83 L445.0 377.19 L445.5 377.54 L446.0 377.36 L446.5 377.18 L447.0 377.04 L447.5 376.91 L448.0 377.50 L448.5 378.10 L449.0 378.12 L449.5 378.14 L450.0 378.10 L450.5 378.05 L451.0 377.60 L451.5 377.15 L452.0 377.39 L452.5 377.63 L453.0 378.05 L453.5 378.47 L454.0 378.05 L454.5 377.63 L455.0 377.70 L455.5 377.76 L456.0 377.93 L456.5 378.09 L457.0 378.21 L457.5 378.34 L458.0 377.69 L458.5 377.04 L459.0 377.49 L459.5 377.94 L460.0 377.68 L460.5 377.42 L461.0 377.76 L461.5 378.10 L462.0 377.98 L462.5 377.86 L463.0 377.82 L463.5 377.79 L464.0 377.67 L464.5 377.55 L465.0 376.72 L465.5 375.90 L466.0 376.81 L466.5 377.72 L467.0 377.74 L467.5 377.77 L468.0 377.59 L468.5 377.42 L469.0 377.67 L469.5 377.92 L470.0 378.26 L470.5 378.60 L471.0 377.05 L471.5 375.50 L472.0 376.58 L472.5 377.66 L473.0 377.50 L473.5 377.33 L474.0 377.85 L474.5 378.36 L475.0 378.22 L475.5 378.08 L476.0 378.03 L476.5 377.98 L477.0 376.98 L477.5 375.98 L478.0 376.90 L478.5 377.82 L479.0 377.96 L479.5 378.09 L480.0 377.57 L480.5 377.04 L481.0 377.03 L481.5 377.01 L482.0 377.53 L482.5 378.06 L483.0 377.81 L483.5 377.55 L484.0 377.71 L484.5 377.86 L485.0 377.76 L485.5 377.66 L486.0 377.50 L486.5 377.35 L487.0 377.27 L487.5 377.19 L488.0 377.72 L488.5 378.24 L489.0 377.53 L489.5 376.82 L490.0 377.32 L490.5 377.82 L491.0 377.96 L491.5 378.10 L492.0 378.09 L492.5 378.09 L493.0 378.14 L493.5 378.20 L494.0 377.76 L494.5 377.33 L495.0 376.99 L495.5 376.65 L496.0 376.53 L496.5 376.41 L497.0 376.84 L497.5 377.27 L498.0 377.65 L498.5 378.03 L499.0 377.89 L499.5 377.75 L500.0 377.80 L500.5 377.86 L501.0 378.46 L501.5 378.60 L502.0 378.43 L502.5 377.79 L503.0 377.80 L503.5 377.80 L504.0 378.12 L504.5 378.45 L505.0 378.59 L505.5 378.60 L506.0 378.60 L506.5 378.55 L507.0 378.40 L507.5 378.25 L508.0 378.10" fill="none" stroke="#a9a9a9" stroke-width="1.4" stroke-linejoin="round"/>
<path d="M369.8 370.90 L370.3 371.31 L370.8 372.62 L371.3 373.87 L371.8 373.28 L372.3 372.67 L372.8 373.61 L373.3 374.54 L373.8 374.97 L374.3 375.39 L374.8 374.61 L375.3 373.81 L375.8 374.71 L376.3 375.59 L376.8 376.04" fill="none" stroke="#a9a9a9" stroke-width="2.0" stroke-dasharray="3.8 1.8" stroke-linejoin="round"/>
<path d="M376.8 376.04 L377.3 376.47 L377.8 377.23 L378.3 377.93 L378.8 377.11 L379.3 376.33 L379.8 377.00 L380.3 377.60 L380.8 377.51 L381.3 377.41 L381.8 376.96 L382.3 376.51 L382.8 377.26 L383.3 378.02 L383.8 377.97 L384.3 377.92 L384.8 377.46 L385.3 377.00 L385.8 376.10 L386.3 375.19 L386.8 376.54 L387.3 377.88 L387.8 377.51 L388.3 377.13 L388.8 376.85 L389.3 376.58 L389.8 377.24 L390.3 377.91 L390.8 377.99 L391.3 378.06 L391.8 377.47 L392.3 376.88 L392.8 377.71 L393.3 378.54 L393.8 378.60 L394.3 378.60 L394.8 378.60 L395.3 378.39 L395.8 378.14 L396.3 377.89 L396.8 377.70 L397.3 377.51 L397.8 378.35 L398.3 378.60 L398.8 378.22 L399.3 377.24 L399.8 377.39 L400.3 377.55 L400.8 377.93 L401.3 378.31 L401.8 377.71 L402.3 377.12 L402.8 378.60 L403.3 378.60 L403.8 378.60 L404.3 378.60 L404.8 377.47 L405.3 376.10 L405.8 376.65 L406.3 377.20 L406.8 377.31 L407.3 377.42 L407.8 377.32 L408.3 377.23 L408.8 377.11 L409.3 376.99 L409.8 377.75 L410.3 378.50 L410.8 378.60 L411.3 378.60 L411.8 377.86 L412.3 376.77 L412.8 377.20 L413.3 377.64 L413.8 378.08 L414.3 378.52 L414.8 377.55 L415.3 376.57 L415.8 377.54 L416.3 378.50 L416.8 376.71 L417.3 374.92 L417.8 375.18 L418.3 375.44 L418.8 376.49 L419.3 377.53 L419.8 377.08 L420.3 376.63 L420.8 377.51 L421.3 378.38 L421.8 378.06 L422.3 377.73 L422.8 376.44 L423.3 375.15 L423.8 376.35 L424.3 377.55 L424.8 378.30 L425.3 378.60 L425.8 378.19 L426.3 377.34 L426.8 377.51 L427.3 377.69 L427.8 378.36 L428.3 378.60 L428.8 378.02 L429.3 377.02 L429.8 377.42 L430.3 377.83 L430.8 377.86 L431.3 377.88 L431.8 377.74 L432.3 377.60 L432.8 377.36 L433.3 377.11 L433.8 377.00 L434.3 376.88 L434.8 377.74 L435.3 378.59 L435.8 377.78 L436.3 376.97 L436.8 377.22 L437.3 377.48 L437.8 377.05 L438.3 376.62 L438.8 376.79 L439.3 376.96 L439.8 378.29 L440.3 378.60 L440.8 378.59 L441.3 377.56 L441.8 377.32 L442.3 377.09 L442.8 376.97 L443.3 376.85 L443.8 376.34 L444.3 375.82 L444.8 375.95 L445.3 376.07 L445.8 376.73 L446.3 377.39 L446.8 377.80 L447.3 378.20 L447.8 377.44 L448.3 376.68 L448.8 377.56 L449.3 378.44 L449.8 377.91 L450.3 377.38 L450.8 375.87 L451.3 374.36 L451.8 376.50 L452.3 378.60 L452.8 378.22 L453.3 377.79 L453.8 378.17 L454.3 378.55 L454.8 377.88 L455.3 377.21 L455.8 377.07 L456.3 376.93 L456.8 375.85 L457.3 374.76 L457.8 376.06 L458.3 377.36 L458.8 377.97 L459.3 378.57 L459.8 378.27 L460.3 377.96 L460.8 378.26 L461.3 378.56 L461.8 377.64 L462.3 376.72 L462.8 377.63 L463.3 378.54 L463.8 378.60 L464.3 378.60 L464.8 378.52 L465.3 378.05 L465.8 378.12 L466.3 378.19 L466.8 377.77 L467.3 377.34 L467.8 377.16 L468.3 376.99 L468.8 377.47 L469.3 377.96 L469.8 377.02 L470.3 376.08 L470.8 377.20 L471.3 378.31 L471.8 378.35 L472.3 378.39 L472.8 378.32 L473.3 378.24 L473.8 378.41 L474.3 378.58 L474.8 377.99 L475.3 377.39 L475.8 377.31 L476.3 377.23 L476.8 376.06 L477.3 374.88 L477.8 376.96 L478.3 378.60 L478.8 378.60 L479.3 378.54 L479.8 378.19 L480.3 377.85 L480.8 377.98 L481.3 378.11 L481.8 377.96 L482.3 377.81 L482.8 378.26 L483.3 378.60 L483.8 378.31 L484.3 377.92 L484.8 377.62 L485.3 377.32 L485.8 377.43 L486.3 377.54 L486.8 377.31 L487.3 377.08 L487.8 377.99 L488.3 378.60 L488.8 378.60 L489.3 378.60 L489.8 378.26 L490.3 377.85 L490.8 377.49 L491.3 377.14 L491.8 377.96 L492.3 378.60 L492.8 378.60 L493.3 378.60 L493.8 378.60 L494.3 377.74 L494.8 378.23 L495.3 378.60 L495.8 378.21 L496.3 377.69 L496.8 377.84 L497.3 377.99 L497.8 378.37 L498.3 378.60 L498.8 377.75 L499.3 376.75 L499.8 376.97 L500.3 377.19 L500.8 377.51 L501.3 377.83 L501.8 378.24 L502.3 378.60 L502.8 377.84 L503.3 377.01 L503.8 377.78 L504.3 378.54 L504.8 378.15 L505.3 377.76 L505.8 377.88 L506.3 378.00 L506.8 377.41 L507.3 376.83 L507.8 377.57 L508.3 378.31" fill="none" stroke="#a9a9a9" stroke-width="1.4" stroke-dasharray="3.8 1.8" stroke-linejoin="round"/>
<path d="M431.0 546.90 L431.5 546.81 L432.0 546.72 L432.5 545.94 L433.0 545.16 L433.5 546.67 L434.0 548.17 L434.5 547.74 L435.0 547.30 L435.5 548.54 L436.0 549.78 L436.5 549.29 L437.0 548.80 L437.5 548.19 L438.0 547.59 L438.5 547.05 L439.0 546.52 L439.5 547.17 L440.0 547.82 L440.5 546.74 L441.0 545.65 L441.5 545.89 L442.0 546.12 L442.5 546.95 L443.0 547.78 L443.5 547.64 L444.0 547.49 L444.5 548.04 L445.0 548.59 L445.5 548.71 L446.0 548.84 L446.5 549.19 L447.0 549.53 L447.5 549.81 L448.0 550.08 L448.5 549.83 L449.0 549.57 L449.5 547.43 L450.0 545.28 L450.5 545.60 L451.0 545.92 L451.5 547.90 L452.0 549.88 L452.5 548.45 L453.0 547.01 L453.5 547.64 L454.0 548.27 L454.5 548.68 L455.0 549.09 L455.5 549.90 L456.0 550.71 L456.5 550.81 L457.0 550.92 L457.5 551.00 L458.0 551.09 L458.5 550.52 L459.0 549.95 L459.5 550.00 L460.0 550.06 L460.5 550.34 L461.0 550.63 L461.5 550.27 L462.0 549.91 L462.5 549.98 L463.0 550.04 L463.5 549.06 L464.0 548.08 L464.5 549.97 L465.0 551.85 L465.5 553.29 L466.0 554.74 L466.5 552.36 L467.0 549.99 L467.5 550.63 L468.0 551.28 L468.5 551.05 L469.0 550.81 L469.5 551.55 L470.0 552.28 L470.5 551.81 L471.0 551.34 L471.5 551.42 L472.0 551.50 L472.5 553.05 L473.0 554.59 L473.5 551.72 L474.0 548.85 L474.5 550.68 L475.0 552.51" fill="none" stroke="#a9a9a9" stroke-width="2.3" stroke-linejoin="round"/>
<path d="M475.0 552.51 L475.5 552.25 L476.0 551.98 L476.5 553.05 L477.0 554.11 L477.5 551.69 L478.0 549.26 L478.5 548.73 L479.0 548.20 L479.5 549.32 L480.0 550.44 L480.5 549.60 L481.0 548.76 L481.5 550.00 L482.0 551.24 L482.5 551.38 L483.0 551.52 L483.5 549.90 L484.0 548.29 L484.5 550.06 L485.0 551.84 L485.5 552.15 L486.0 552.46 L486.5 550.12 L487.0 547.79 L487.5 549.64 L488.0 551.49 L488.5 551.98 L489.0 552.48 L489.5 551.34 L490.0 550.20 L490.5 551.44 L491.0 552.67 L491.5 550.91 L492.0 549.14 L492.5 550.91 L493.0 552.68 L493.5 552.22 L494.0 551.76 L494.5 551.67 L495.0 551.57 L495.5 550.93 L496.0 550.29 L496.5 550.41 L497.0 550.52 L497.5 551.72 L498.0 552.93 L498.5 552.89 L499.0 552.84 L499.5 550.61 L500.0 548.37 L500.5 549.51 L501.0 550.65 L501.5 549.97 L502.0 549.29 L502.5 550.00 L503.0 550.70 L503.5 552.05 L504.0 553.40 L504.5 553.50 L505.0 553.60 L505.5 553.20 L506.0 552.81 L506.5 552.71 L507.0 552.62 L507.5 551.41 L508.0 550.20" fill="none" stroke="#a9a9a9" stroke-width="2.0" stroke-linejoin="round"/>
<path d="M378.0 547.04 L378.5 548.57 L379.0 550.07 L379.5 550.13 L380.0 550.17 L380.5 550.36 L381.0 550.52 L381.5 550.76 L382.0 550.96 L382.5 551.31 L383.0 551.65 L383.5 552.34 L384.0 553.01 L384.5 552.78 L385.0 552.53 L385.5 552.50 L386.0 552.46 L386.5 552.61" fill="none" stroke="#a9a9a9" stroke-width="2.0" stroke-dasharray="3.8 1.8" stroke-linejoin="round"/>
<path d="M386.5 552.61 L387.0 552.74 L387.5 552.74 L388.0 552.73 L388.5 552.98 L389.0 553.21 L389.5 552.98 L390.0 552.76 L390.5 553.16 L391.0 553.56 L391.5 551.33 L392.0 549.10 L392.5 551.00 L393.0 552.89 L393.5 552.87 L394.0 552.85 L394.5 552.71 L395.0 552.57 L395.5 553.32 L396.0 554.07 L396.5 554.26 L397.0 554.44 L397.5 553.25 L398.0 552.05 L398.5 552.49 L399.0 552.92 L399.5 553.52 L400.0 554.12 L400.5 553.21 L401.0 552.30 L401.5 552.84 L402.0 553.38 L402.5 553.49 L403.0 553.60 L403.5 553.62 L404.0 553.64 L404.5 553.61 L405.0 553.58 L405.5 554.07 L406.0 554.56 L406.5 553.38 L407.0 552.19 L407.5 553.08 L408.0 553.96 L408.5 553.59 L409.0 553.21 L409.5 553.42 L410.0 553.63 L410.5 554.35 L411.0 554.80 L411.5 554.80 L412.0 554.80 L412.5 553.25 L413.0 551.56 L413.5 553.74 L414.0 554.80 L414.5 554.80 L415.0 553.91 L415.5 554.05 L416.0 554.19 L416.5 554.49 L417.0 554.79 L417.5 554.11 L418.0 553.42 L418.5 553.49 L419.0 553.55 L419.5 554.09 L420.0 554.63 L420.5 553.58 L421.0 552.54 L421.5 552.94 L422.0 553.35 L422.5 552.76 L423.0 552.16 L423.5 554.00 L424.0 554.80 L424.5 554.65 L425.0 553.46 L425.5 553.93 L426.0 554.40 L426.5 553.56 L427.0 552.72 L427.5 554.19 L428.0 554.80 L428.5 554.20 L429.0 552.74 L429.5 553.14 L430.0 553.55 L430.5 554.76 L431.0 554.80 L431.5 553.84 L432.0 551.69 L432.5 552.65 L433.0 553.60 L433.5 554.33 L434.0 554.80 L434.5 554.56 L435.0 554.07 L435.5 554.01 L436.0 553.96 L436.5 553.68 L437.0 553.40 L437.5 553.25 L438.0 553.09 L438.5 552.21 L439.0 551.33 L439.5 552.28 L440.0 553.24 L440.5 553.35 L441.0 553.01 L441.5 553.50 L442.0 553.99 L442.5 553.98 L443.0 553.97 L443.5 553.94 L444.0 553.90 L444.5 553.93 L445.0 553.95 L445.5 553.91 L446.0 553.86 L446.5 554.02 L447.0 554.18 L447.5 554.13 L448.0 554.07 L448.5 554.26 L449.0 554.44 L449.5 554.15 L450.0 553.87 L450.5 554.27 L451.0 554.67 L451.5 554.36 L452.0 554.05 L452.5 554.05 L453.0 554.05 L453.5 554.15 L454.0 554.26 L454.5 553.64 L455.0 553.03 L455.5 553.57 L456.0 554.11 L456.5 554.15 L457.0 554.18 L457.5 554.13 L458.0 554.07 L458.5 554.08 L459.0 554.10 L459.5 553.54 L460.0 552.98 L460.5 553.75 L461.0 554.53 L461.5 554.23 L462.0 553.93 L462.5 553.56 L463.0 553.20 L463.5 553.86 L464.0 554.53 L464.5 554.35 L465.0 554.17 L465.5 554.14 L466.0 554.10 L466.5 554.02 L467.0 553.94 L467.5 553.90 L468.0 553.87 L468.5 554.02 L469.0 554.17 L469.5 554.45 L470.0 554.72 L470.5 554.46 L471.0 554.20 L471.5 554.24 L472.0 554.29 L472.5 554.16 L473.0 554.03 L473.5 553.82 L474.0 553.61 L474.5 553.78 L475.0 553.94 L475.5 553.94 L476.0 553.95 L476.5 554.06 L477.0 554.17 L477.5 553.99 L478.0 553.81 L478.5 553.90 L479.0 553.99 L479.5 553.77 L480.0 553.54 L480.5 553.54 L481.0 553.54 L481.5 553.62 L482.0 553.70 L482.5 553.51 L483.0 553.33 L483.5 553.47 L484.0 553.61 L484.5 553.78 L485.0 553.95 L485.5 553.91 L486.0 553.87 L486.5 553.72 L487.0 553.57 L487.5 553.54 L488.0 553.52 L488.5 553.78 L489.0 554.05 L489.5 553.66 L490.0 553.27 L490.5 553.65 L491.0 554.02 L491.5 554.07 L492.0 554.11 L492.5 554.02 L493.0 553.93 L493.5 553.97 L494.0 554.00 L494.5 553.82 L495.0 553.63 L495.5 553.74 L496.0 553.86 L496.5 553.92 L497.0 553.98 L497.5 553.59 L498.0 553.20 L498.5 553.49 L499.0 553.78 L499.5 553.83 L500.0 553.88 L500.5 554.24 L501.0 554.60 L501.5 554.37 L502.0 554.13 L502.5 554.13 L503.0 554.13 L503.5 554.23 L504.0 554.32 L504.5 554.16 L505.0 553.99 L505.5 554.30 L506.0 554.60 L506.5 554.18 L507.0 553.76 L507.5 553.70 L508.0 553.64" fill="none" stroke="#a9a9a9" stroke-width="1.4" stroke-dasharray="3.8 1.8" stroke-linejoin="round"/>
<path d="M406.5 724.37 L407.0 724.23 L407.5 724.09 L408.0 722.43 L408.5 720.76 L409.0 722.46 L409.5 724.15 L410.0 724.52 L410.5 724.89 L411.0 723.99 L411.5 723.08 L412.0 724.24 L412.5 725.40 L413.0 724.69 L413.5 723.98 L414.0 723.96 L414.5 723.94 L415.0 724.23 L415.5 724.51 L416.0 725.54 L416.5 726.56 L417.0 725.93 L417.5 725.29 L418.0 725.81 L418.5 726.33 L419.0 725.97 L419.5 725.62 L420.0 726.77 L420.5 727.93 L421.0 726.50 L421.5 725.06 L422.0 725.47 L422.5 725.87 L423.0 726.36 L423.5 726.84 L424.0 726.86 L424.5 726.88 L425.0 725.96 L425.5 725.04 L426.0 726.58 L426.5 728.12 L427.0 725.78 L427.5 723.44 L428.0 724.32 L428.5 725.21 L429.0 725.15 L429.5 725.08 L430.0 726.08 L430.5 727.08 L431.0 725.84 L431.5 724.61 L432.0 726.56 L432.5 728.52 L433.0 728.16 L433.5 727.80 L434.0 727.24 L434.5 726.68 L435.0 725.72 L435.5 724.77 L436.0 726.33 L436.5 727.89 L437.0 727.73 L437.5 727.56 L438.0 727.66 L438.5 727.77 L439.0 727.30 L439.5 726.83 L440.0 727.91" fill="none" stroke="#a9a9a9" stroke-width="2.0" stroke-dasharray="3.8 1.8" stroke-linejoin="round"/>
<path d="M440.0 727.91 L440.5 728.99 L441.0 728.59 L441.5 728.20 L442.0 727.52 L442.5 726.85 L443.0 727.07 L443.5 727.29 L444.0 728.27 L444.5 729.24 L445.0 728.68 L445.5 728.12 L446.0 728.74 L446.5 729.36 L447.0 728.77 L447.5 728.19 L448.0 728.85 L448.5 729.50 L449.0 729.46 L449.5 729.42 L450.0 728.94 L450.5 728.46 L451.0 726.87 L451.5 725.28 L452.0 727.33 L452.5 729.08 L453.0 729.07 L453.5 729.05 L454.0 728.36 L454.5 727.66 L455.0 728.03 L455.5 728.39 L456.0 728.98 L456.5 729.57 L457.0 729.40 L457.5 729.23 L458.0 729.17 L458.5 729.12 L459.0 729.21 L459.5 729.30 L460.0 729.15 L460.5 729.01 L461.0 729.38 L461.5 729.75 L462.0 729.28 L462.5 728.81 L463.0 728.76 L463.5 728.71 L464.0 728.87 L464.5 729.03 L465.0 728.91 L465.5 728.80 L466.0 729.03 L466.5 729.27 L467.0 729.22 L467.5 729.17 L468.0 729.37 L468.5 729.58 L469.0 729.59 L469.5 729.60 L470.0 729.09 L470.5 728.59 L471.0 729.09 L471.5 729.58 L472.0 729.56 L472.5 729.53 L473.0 729.85 L473.5 730.10 L474.0 729.71 L474.5 729.27 L475.0 728.85 L475.5 728.43 L476.0 729.00 L476.5 729.57 L477.0 729.48 L477.5 729.40 L478.0 729.43 L478.5 729.46 L479.0 729.37 L479.5 729.28 L480.0 729.19 L480.5 729.11 L481.0 728.72 L481.5 728.33 L482.0 728.90 L482.5 729.47 L483.0 729.27 L483.5 729.07 L484.0 729.11 L484.5 729.16 L485.0 729.16 L485.5 729.16 L486.0 729.19 L486.5 729.21 L487.0 728.99 L487.5 728.77 L488.0 729.34 L488.5 729.91 L489.0 729.52 L489.5 729.12 L490.0 729.42 L490.5 729.71 L491.0 729.66 L491.5 729.62 L492.0 729.30 L492.5 728.99 L493.0 729.15 L493.5 729.30 L494.0 728.87 L494.5 728.44 L495.0 729.12 L495.5 729.80 L496.0 729.51 L496.5 729.22 L497.0 729.27 L497.5 729.32 L498.0 729.13 L498.5 728.95 L499.0 729.24 L499.5 729.53 L500.0 729.55 L500.5 729.56 L501.0 729.30 L501.5 729.03 L502.0 729.29 L502.5 729.54 L503.0 729.26 L503.5 728.98 L504.0 729.33 L504.5 729.69 L505.0 729.58 L505.5 729.48 L506.0 729.56 L506.5 729.64 L507.0 729.51 L507.5 729.38 L508.0 729.48" fill="none" stroke="#a9a9a9" stroke-width="1.4" stroke-dasharray="3.8 1.8" stroke-linejoin="round"/>
<text transform="translate(58.20,751.80) scale(1.1,1)" font-size="10.5" text-anchor="middle" font-weight="normal">0</text>
<text transform="translate(107.38,751.80) scale(1.1,1)" font-size="10.5" text-anchor="middle" font-weight="normal">20</text>
<text transform="translate(156.55,751.80) scale(1.1,1)" font-size="10.5" text-anchor="middle" font-weight="normal">40</text>
<text transform="translate(205.72,751.80) scale(1.1,1)" font-size="10.5" text-anchor="middle" font-weight="normal">60</text>
<text transform="translate(254.90,751.80) scale(1.1,1)" font-size="10.5" text-anchor="middle" font-weight="normal">80</text>
<text transform="translate(311.50,750.20) scale(1.1,1)" font-size="10.5" text-anchor="middle" font-weight="normal">0</text>
<text transform="translate(344.38,750.20) scale(1.1,1)" font-size="10.5" text-anchor="middle" font-weight="normal">20</text>
<text transform="translate(377.27,750.20) scale(1.1,1)" font-size="10.5" text-anchor="middle" font-weight="normal">40</text>
<text transform="translate(410.15,750.20) scale(1.1,1)" font-size="10.5" text-anchor="middle" font-weight="normal">60</text>
<text transform="translate(443.03,750.20) scale(1.1,1)" font-size="10.5" text-anchor="middle" font-weight="normal">80</text>
<text transform="translate(475.92,750.20) scale(1.1,1)" font-size="10.5" text-anchor="middle" font-weight="normal">100</text>
<text transform="translate(156.55,768.20) scale(0.76,1)" font-size="13.2" text-anchor="middle" font-weight="normal" class="ttl">Time (min)</text>
<text transform="translate(410.15,767.20) scale(0.76,1)" font-size="13.2" text-anchor="middle" font-weight="normal" class="ttl">Time (min)</text>
<text transform="translate(21.00,121.35) rotate(-90) scale(0.78,1)" font-size="12.6" text-anchor="middle" font-weight="normal" class="ttl">Thrombin (nM)</text>
<text transform="translate(21.00,297.50) rotate(-90) scale(0.78,1)" font-size="12.6" text-anchor="middle" font-weight="normal" class="ttl">Thrombin (nM)</text>
<text transform="translate(21.00,474.10) rotate(-90) scale(0.78,1)" font-size="12.6" text-anchor="middle" font-weight="normal" class="ttl">Thrombin (nM)</text>
<text transform="translate(21.00,650.50) rotate(-90) scale(0.78,1)" font-size="12.6" text-anchor="middle" font-weight="normal" class="ttl">Thrombin (nM)</text>
<text transform="translate(274.50,121.45) rotate(-90) scale(0.78,1)" font-size="12.6" text-anchor="middle" font-weight="normal" class="ttl">Thrombin (nM)</text>
<text transform="translate(274.50,296.75) rotate(-90) scale(0.78,1)" font-size="12.6" text-anchor="middle" font-weight="normal" class="ttl">Thrombin (nM)</text>
<text transform="translate(274.50,472.70) rotate(-90) scale(0.78,1)" font-size="12.6" text-anchor="middle" font-weight="normal" class="ttl">Thrombin (nM)</text>
<text transform="translate(274.50,648.20) rotate(-90) scale(0.78,1)" font-size="12.6" text-anchor="middle" font-weight="normal" class="ttl">Thrombin (nM)</text>
<text transform="translate(242.50,60.00)" font-size="10.6" text-anchor="end" font-weight="normal">1pM TF</text>
<text transform="translate(241.80,233.80)" font-size="10.6" text-anchor="end" font-weight="normal">0.5pM TF</text>
<text transform="translate(241.80,411.50)" font-size="10.6" text-anchor="end" font-weight="normal">0.1pM TF</text>
<text transform="translate(241.80,587.40)" font-size="10.6" text-anchor="end" font-weight="normal">0.05pM TF</text>
<text transform="translate(494.80,59.50)" font-size="10.6" text-anchor="end" font-weight="normal">100pM FXa</text>
<text transform="translate(494.80,232.80)" font-size="10.6" text-anchor="end" font-weight="normal">20pM FXa</text>
<text transform="translate(494.80,409.60)" font-size="10.6" text-anchor="end" font-weight="normal">10pM FXa</text>
<text transform="translate(494.80,585.10)" font-size="10.6" text-anchor="end" font-weight="normal">5pM FXa</text>
<path d="M0 0H520V783H0Z M1.8 2V780.9H518.1V2Z" fill="#0a0a0a" fill-rule="evenodd"/>
</svg>
</body>
</html>
